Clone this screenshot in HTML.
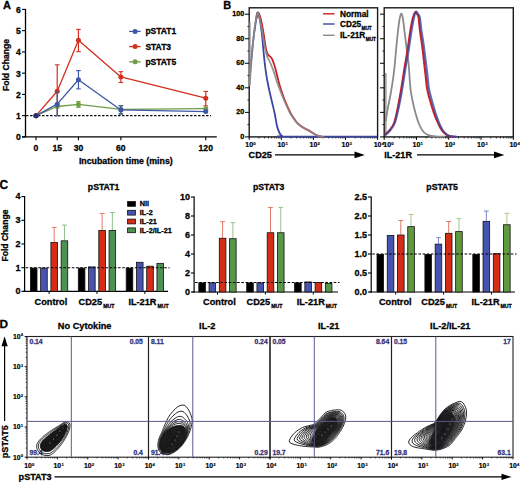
<!DOCTYPE html>
<html><head><meta charset="utf-8"><style>
html,body{margin:0;padding:0;background:#fff;}
body{width:520px;height:482px;overflow:hidden;}
svg{display:block;}
</style></head><body>
<svg width="520" height="482" viewBox="0 0 520 482" font-family="'Liberation Sans', sans-serif" font-weight="bold">
<rect width="520" height="482" fill="#fff"/>
<text x="3.1" y="8.5" font-size="11" text-anchor="start" fill="#000" stroke="#000" stroke-width="0.28" >A</text>
<line x1="25.5" y1="8.9" x2="25.5" y2="137.3" stroke="#000" stroke-width="1.3" />
<line x1="22" y1="136.9" x2="25.5" y2="136.9" stroke="#000" stroke-width="1.1" />
<text x="20.8" y="140.35" font-size="8.6" text-anchor="end" fill="#000" stroke="#000" stroke-width="0.28" >0</text>
<line x1="22" y1="115.65" x2="25.5" y2="115.65" stroke="#000" stroke-width="1.1" />
<text x="20.8" y="119.1" font-size="8.6" text-anchor="end" fill="#000" stroke="#000" stroke-width="0.28" >1</text>
<line x1="22" y1="94.4" x2="25.5" y2="94.4" stroke="#000" stroke-width="1.1" />
<text x="20.8" y="97.85" font-size="8.6" text-anchor="end" fill="#000" stroke="#000" stroke-width="0.28" >2</text>
<line x1="22" y1="73.15" x2="25.5" y2="73.15" stroke="#000" stroke-width="1.1" />
<text x="20.8" y="76.6" font-size="8.6" text-anchor="end" fill="#000" stroke="#000" stroke-width="0.28" >3</text>
<line x1="22" y1="51.9" x2="25.5" y2="51.9" stroke="#000" stroke-width="1.1" />
<text x="20.8" y="55.35" font-size="8.6" text-anchor="end" fill="#000" stroke="#000" stroke-width="0.28" >4</text>
<line x1="22" y1="30.65" x2="25.5" y2="30.65" stroke="#000" stroke-width="1.1" />
<text x="20.8" y="34.1" font-size="8.6" text-anchor="end" fill="#000" stroke="#000" stroke-width="0.28" >5</text>
<line x1="22" y1="9.4" x2="25.5" y2="9.4" stroke="#000" stroke-width="1.1" />
<text x="20.8" y="12.85" font-size="8.6" text-anchor="end" fill="#000" stroke="#000" stroke-width="0.28" >6</text>
<line x1="22" y1="136.9" x2="216.8" y2="136.9" stroke="#000" stroke-width="1.3" />
<line x1="36" y1="136.9" x2="36" y2="140.3" stroke="#000" stroke-width="1.1" />
<text x="36" y="150.65" font-size="8.6" text-anchor="middle" fill="#000" stroke="#000" stroke-width="0.28" >0</text>
<line x1="57.22" y1="136.9" x2="57.22" y2="140.3" stroke="#000" stroke-width="1.1" />
<text x="57.22" y="150.65" font-size="8.6" text-anchor="middle" fill="#000" stroke="#000" stroke-width="0.28" >15</text>
<line x1="78.44" y1="136.9" x2="78.44" y2="140.3" stroke="#000" stroke-width="1.1" />
<text x="78.44" y="150.65" font-size="8.6" text-anchor="middle" fill="#000" stroke="#000" stroke-width="0.28" >30</text>
<line x1="120.88" y1="136.9" x2="120.88" y2="140.3" stroke="#000" stroke-width="1.1" />
<text x="120.88" y="150.65" font-size="8.6" text-anchor="middle" fill="#000" stroke="#000" stroke-width="0.28" >60</text>
<line x1="205.75" y1="136.9" x2="205.75" y2="140.3" stroke="#000" stroke-width="1.1" />
<text x="205.75" y="150.65" font-size="8.6" text-anchor="middle" fill="#000" stroke="#000" stroke-width="0.28" >120</text>
<text x="125.8" y="164.02" font-size="8.8" text-anchor="middle" fill="#000" stroke="#000" stroke-width="0.28" >Incubation time (mins)</text>
<text x="5.6" y="68.05" font-size="8.6" text-anchor="middle" fill="#000" stroke="#000" stroke-width="0.28" transform="rotate(-90 5.6 65.0)">Fold Change</text>
<line x1="26.1" y1="115.65" x2="211" y2="115.65" stroke="#000" stroke-width="1.1" stroke-dasharray="2.4,1.6"/>
<polyline points="36,115.65 57.22,91.21 78.44,40.21 120.88,76.98 205.75,98.22" fill="none" stroke="#d2301f" stroke-width="1.3" stroke-linejoin="round" />
<line x1="57.22" y1="64.86" x2="57.22" y2="115.65" stroke="#d2301f" stroke-width="1.2" />
<line x1="54.92" y1="64.86" x2="59.52" y2="64.86" stroke="#d2301f" stroke-width="1.1" />
<line x1="54.92" y1="115.65" x2="59.52" y2="115.65" stroke="#d2301f" stroke-width="1.1" />
<line x1="78.44" y1="29.38" x2="78.44" y2="51.69" stroke="#d2301f" stroke-width="1.2" />
<line x1="76.14" y1="29.38" x2="80.74" y2="29.38" stroke="#d2301f" stroke-width="1.1" />
<line x1="76.14" y1="51.69" x2="80.74" y2="51.69" stroke="#d2301f" stroke-width="1.1" />
<line x1="120.88" y1="71.66" x2="120.88" y2="82.5" stroke="#d2301f" stroke-width="1.2" />
<line x1="118.58" y1="71.66" x2="123.18" y2="71.66" stroke="#d2301f" stroke-width="1.1" />
<line x1="118.58" y1="82.5" x2="123.18" y2="82.5" stroke="#d2301f" stroke-width="1.1" />
<line x1="205.75" y1="91.43" x2="205.75" y2="105.88" stroke="#d2301f" stroke-width="1.2" />
<line x1="203.45" y1="91.43" x2="208.05" y2="91.43" stroke="#d2301f" stroke-width="1.1" />
<line x1="203.45" y1="105.88" x2="208.05" y2="105.88" stroke="#d2301f" stroke-width="1.1" />
<circle cx="36" cy="115.65" r="2.5" fill="#d2301f"/>
<circle cx="57.22" cy="91.21" r="2.5" fill="#d2301f"/>
<circle cx="78.44" cy="40.21" r="2.5" fill="#d2301f"/>
<circle cx="120.88" cy="76.98" r="2.5" fill="#d2301f"/>
<circle cx="205.75" cy="98.22" r="2.5" fill="#d2301f"/>
<polyline points="36,115.65 57.22,106.51 78.44,104.39 120.88,109.28 205.75,108.64" fill="none" stroke="#6e9e45" stroke-width="1.3" stroke-linejoin="round" />
<line x1="78.44" y1="101.62" x2="78.44" y2="107.36" stroke="#6e9e45" stroke-width="1.2" />
<line x1="76.14" y1="101.62" x2="80.74" y2="101.62" stroke="#6e9e45" stroke-width="1.1" />
<line x1="76.14" y1="107.36" x2="80.74" y2="107.36" stroke="#6e9e45" stroke-width="1.1" />
<line x1="120.88" y1="105.66" x2="120.88" y2="113.53" stroke="#6e9e45" stroke-width="1.2" />
<line x1="118.58" y1="105.66" x2="123.18" y2="105.66" stroke="#6e9e45" stroke-width="1.1" />
<line x1="118.58" y1="113.53" x2="123.18" y2="113.53" stroke="#6e9e45" stroke-width="1.1" />
<circle cx="36" cy="115.65" r="2.5" fill="#6e9e45"/>
<circle cx="57.22" cy="106.51" r="2.5" fill="#6e9e45"/>
<circle cx="78.44" cy="104.39" r="2.5" fill="#6e9e45"/>
<circle cx="120.88" cy="109.28" r="2.5" fill="#6e9e45"/>
<circle cx="205.75" cy="108.64" r="2.5" fill="#6e9e45"/>
<polyline points="36,115.65 57.22,104.18 78.44,79.74 120.88,109.91 205.75,111.61" fill="none" stroke="#3f56a6" stroke-width="1.3" stroke-linejoin="round" />
<line x1="57.22" y1="91.85" x2="57.22" y2="115.65" stroke="#3f56a6" stroke-width="1.2" />
<line x1="54.92" y1="91.85" x2="59.52" y2="91.85" stroke="#3f56a6" stroke-width="1.1" />
<line x1="54.92" y1="115.65" x2="59.52" y2="115.65" stroke="#3f56a6" stroke-width="1.1" />
<line x1="78.44" y1="70.6" x2="78.44" y2="88.88" stroke="#3f56a6" stroke-width="1.2" />
<line x1="76.14" y1="70.6" x2="80.74" y2="70.6" stroke="#3f56a6" stroke-width="1.1" />
<line x1="76.14" y1="88.88" x2="80.74" y2="88.88" stroke="#3f56a6" stroke-width="1.1" />
<line x1="120.88" y1="105.66" x2="120.88" y2="114.16" stroke="#3f56a6" stroke-width="1.2" />
<line x1="118.58" y1="105.66" x2="123.18" y2="105.66" stroke="#3f56a6" stroke-width="1.1" />
<line x1="118.58" y1="114.16" x2="123.18" y2="114.16" stroke="#3f56a6" stroke-width="1.1" />
<circle cx="36" cy="115.65" r="2.5" fill="#3f56a6"/>
<circle cx="57.22" cy="104.18" r="2.5" fill="#3f56a6"/>
<circle cx="78.44" cy="79.74" r="2.5" fill="#3f56a6"/>
<circle cx="120.88" cy="109.91" r="2.5" fill="#3f56a6"/>
<circle cx="205.75" cy="111.61" r="2.5" fill="#3f56a6"/>
<circle cx="36" cy="115.65" r="2.5" fill="#2a2f6a"/>
<line x1="129.1" y1="31.4" x2="140.6" y2="31.4" stroke="#3f56a6" stroke-width="1.3" />
<circle cx="135.1" cy="31.4" r="2.5" fill="#3f56a6"/>
<text x="145.4" y="34.42" font-size="8.5" text-anchor="start" fill="#000" stroke="#000" stroke-width="0.28" >pSTAT1</text>
<line x1="129.1" y1="46.6" x2="140.6" y2="46.6" stroke="#d2301f" stroke-width="1.3" />
<circle cx="135.1" cy="46.6" r="2.5" fill="#d2301f"/>
<text x="145.4" y="49.62" font-size="8.5" text-anchor="start" fill="#000" stroke="#000" stroke-width="0.28" >STAT3</text>
<line x1="129.1" y1="61.8" x2="140.6" y2="61.8" stroke="#6e9e45" stroke-width="1.3" />
<circle cx="135.1" cy="61.8" r="2.5" fill="#6e9e45"/>
<text x="145.4" y="64.82" font-size="8.5" text-anchor="start" fill="#000" stroke="#000" stroke-width="0.28" >pSTAT5</text>
<text x="223.3" y="8.8" font-size="11" text-anchor="start" fill="#000" stroke="#000" stroke-width="0.28" >B</text>
<rect x="249.2" y="7.8" width="128.4" height="129.1" fill="none" stroke="#1a1a1a" stroke-width="1.4"/>
<line x1="245" y1="136.9" x2="249.2" y2="136.9" stroke="#000" stroke-width="1" />
<text x="244.2" y="138.86" font-size="7.2" text-anchor="end" fill="#000" stroke="#000" stroke-width="0.28" >0</text>
<line x1="245" y1="112.36" x2="249.2" y2="112.36" stroke="#000" stroke-width="1" />
<text x="244.2" y="114.32" font-size="7.2" text-anchor="end" fill="#000" stroke="#000" stroke-width="0.28" >20</text>
<line x1="245" y1="87.82" x2="249.2" y2="87.82" stroke="#000" stroke-width="1" />
<text x="244.2" y="89.78" font-size="7.2" text-anchor="end" fill="#000" stroke="#000" stroke-width="0.28" >40</text>
<line x1="245" y1="63.28" x2="249.2" y2="63.28" stroke="#000" stroke-width="1" />
<text x="244.2" y="65.24" font-size="7.2" text-anchor="end" fill="#000" stroke="#000" stroke-width="0.28" >60</text>
<line x1="245" y1="38.74" x2="249.2" y2="38.74" stroke="#000" stroke-width="1" />
<text x="244.2" y="40.7" font-size="7.2" text-anchor="end" fill="#000" stroke="#000" stroke-width="0.28" >80</text>
<line x1="245" y1="14.2" x2="249.2" y2="14.2" stroke="#000" stroke-width="1" />
<text x="244.2" y="16.16" font-size="7.2" text-anchor="end" fill="#000" stroke="#000" stroke-width="0.28" >100</text>
<line x1="247.4" y1="124.63" x2="249.2" y2="124.63" stroke="#000" stroke-width="0.8" />
<line x1="247.4" y1="100.09" x2="249.2" y2="100.09" stroke="#000" stroke-width="0.8" />
<line x1="247.4" y1="75.55" x2="249.2" y2="75.55" stroke="#000" stroke-width="0.8" />
<line x1="247.4" y1="51.01" x2="249.2" y2="51.01" stroke="#000" stroke-width="0.8" />
<line x1="247.4" y1="26.47" x2="249.2" y2="26.47" stroke="#000" stroke-width="0.8" />
<line x1="249.2" y1="136.9" x2="249.2" y2="139.9" stroke="#000" stroke-width="1" />
<line x1="258.86" y1="136.9" x2="258.86" y2="138.5" stroke="#000" stroke-width="0.7" />
<line x1="264.52" y1="136.9" x2="264.52" y2="138.5" stroke="#000" stroke-width="0.7" />
<line x1="268.53" y1="136.9" x2="268.53" y2="138.5" stroke="#000" stroke-width="0.7" />
<line x1="271.64" y1="136.9" x2="271.64" y2="138.5" stroke="#000" stroke-width="0.7" />
<line x1="274.18" y1="136.9" x2="274.18" y2="138.5" stroke="#000" stroke-width="0.7" />
<line x1="276.33" y1="136.9" x2="276.33" y2="138.5" stroke="#000" stroke-width="0.7" />
<line x1="278.19" y1="136.9" x2="278.19" y2="138.5" stroke="#000" stroke-width="0.7" />
<line x1="279.83" y1="136.9" x2="279.83" y2="138.5" stroke="#000" stroke-width="0.7" />
<line x1="281.3" y1="136.9" x2="281.3" y2="139.9" stroke="#000" stroke-width="1" />
<line x1="290.96" y1="136.9" x2="290.96" y2="138.5" stroke="#000" stroke-width="0.7" />
<line x1="296.62" y1="136.9" x2="296.62" y2="138.5" stroke="#000" stroke-width="0.7" />
<line x1="300.63" y1="136.9" x2="300.63" y2="138.5" stroke="#000" stroke-width="0.7" />
<line x1="303.74" y1="136.9" x2="303.74" y2="138.5" stroke="#000" stroke-width="0.7" />
<line x1="306.28" y1="136.9" x2="306.28" y2="138.5" stroke="#000" stroke-width="0.7" />
<line x1="308.43" y1="136.9" x2="308.43" y2="138.5" stroke="#000" stroke-width="0.7" />
<line x1="310.29" y1="136.9" x2="310.29" y2="138.5" stroke="#000" stroke-width="0.7" />
<line x1="311.93" y1="136.9" x2="311.93" y2="138.5" stroke="#000" stroke-width="0.7" />
<line x1="313.4" y1="136.9" x2="313.4" y2="139.9" stroke="#000" stroke-width="1" />
<line x1="323.06" y1="136.9" x2="323.06" y2="138.5" stroke="#000" stroke-width="0.7" />
<line x1="328.72" y1="136.9" x2="328.72" y2="138.5" stroke="#000" stroke-width="0.7" />
<line x1="332.73" y1="136.9" x2="332.73" y2="138.5" stroke="#000" stroke-width="0.7" />
<line x1="335.84" y1="136.9" x2="335.84" y2="138.5" stroke="#000" stroke-width="0.7" />
<line x1="338.38" y1="136.9" x2="338.38" y2="138.5" stroke="#000" stroke-width="0.7" />
<line x1="340.53" y1="136.9" x2="340.53" y2="138.5" stroke="#000" stroke-width="0.7" />
<line x1="342.39" y1="136.9" x2="342.39" y2="138.5" stroke="#000" stroke-width="0.7" />
<line x1="344.03" y1="136.9" x2="344.03" y2="138.5" stroke="#000" stroke-width="0.7" />
<line x1="345.5" y1="136.9" x2="345.5" y2="139.9" stroke="#000" stroke-width="1" />
<line x1="355.16" y1="136.9" x2="355.16" y2="138.5" stroke="#000" stroke-width="0.7" />
<line x1="360.82" y1="136.9" x2="360.82" y2="138.5" stroke="#000" stroke-width="0.7" />
<line x1="364.83" y1="136.9" x2="364.83" y2="138.5" stroke="#000" stroke-width="0.7" />
<line x1="367.94" y1="136.9" x2="367.94" y2="138.5" stroke="#000" stroke-width="0.7" />
<line x1="370.48" y1="136.9" x2="370.48" y2="138.5" stroke="#000" stroke-width="0.7" />
<line x1="372.63" y1="136.9" x2="372.63" y2="138.5" stroke="#000" stroke-width="0.7" />
<line x1="374.49" y1="136.9" x2="374.49" y2="138.5" stroke="#000" stroke-width="0.7" />
<line x1="376.13" y1="136.9" x2="376.13" y2="138.5" stroke="#000" stroke-width="0.7" />
<line x1="377.6" y1="136.9" x2="377.6" y2="139.9" stroke="#000" stroke-width="1" />
<rect x="384.2" y="7.8" width="129.1" height="129.1" fill="none" stroke="#1a1a1a" stroke-width="1.4"/>
<line x1="380" y1="136.9" x2="384.2" y2="136.9" stroke="#000" stroke-width="1" />
<line x1="380" y1="112.36" x2="384.2" y2="112.36" stroke="#000" stroke-width="1" />
<line x1="380" y1="87.82" x2="384.2" y2="87.82" stroke="#000" stroke-width="1" />
<line x1="380" y1="63.28" x2="384.2" y2="63.28" stroke="#000" stroke-width="1" />
<line x1="380" y1="38.74" x2="384.2" y2="38.74" stroke="#000" stroke-width="1" />
<line x1="380" y1="14.2" x2="384.2" y2="14.2" stroke="#000" stroke-width="1" />
<line x1="382.4" y1="124.63" x2="384.2" y2="124.63" stroke="#000" stroke-width="0.8" />
<line x1="382.4" y1="100.09" x2="384.2" y2="100.09" stroke="#000" stroke-width="0.8" />
<line x1="382.4" y1="75.55" x2="384.2" y2="75.55" stroke="#000" stroke-width="0.8" />
<line x1="382.4" y1="51.01" x2="384.2" y2="51.01" stroke="#000" stroke-width="0.8" />
<line x1="382.4" y1="26.47" x2="384.2" y2="26.47" stroke="#000" stroke-width="0.8" />
<line x1="384.2" y1="136.9" x2="384.2" y2="139.9" stroke="#000" stroke-width="1" />
<line x1="393.92" y1="136.9" x2="393.92" y2="138.5" stroke="#000" stroke-width="0.7" />
<line x1="399.6" y1="136.9" x2="399.6" y2="138.5" stroke="#000" stroke-width="0.7" />
<line x1="403.63" y1="136.9" x2="403.63" y2="138.5" stroke="#000" stroke-width="0.7" />
<line x1="406.76" y1="136.9" x2="406.76" y2="138.5" stroke="#000" stroke-width="0.7" />
<line x1="409.31" y1="136.9" x2="409.31" y2="138.5" stroke="#000" stroke-width="0.7" />
<line x1="411.48" y1="136.9" x2="411.48" y2="138.5" stroke="#000" stroke-width="0.7" />
<line x1="413.35" y1="136.9" x2="413.35" y2="138.5" stroke="#000" stroke-width="0.7" />
<line x1="415" y1="136.9" x2="415" y2="138.5" stroke="#000" stroke-width="0.7" />
<line x1="416.47" y1="136.9" x2="416.47" y2="139.9" stroke="#000" stroke-width="1" />
<line x1="426.19" y1="136.9" x2="426.19" y2="138.5" stroke="#000" stroke-width="0.7" />
<line x1="431.87" y1="136.9" x2="431.87" y2="138.5" stroke="#000" stroke-width="0.7" />
<line x1="435.91" y1="136.9" x2="435.91" y2="138.5" stroke="#000" stroke-width="0.7" />
<line x1="439.03" y1="136.9" x2="439.03" y2="138.5" stroke="#000" stroke-width="0.7" />
<line x1="441.59" y1="136.9" x2="441.59" y2="138.5" stroke="#000" stroke-width="0.7" />
<line x1="443.75" y1="136.9" x2="443.75" y2="138.5" stroke="#000" stroke-width="0.7" />
<line x1="445.62" y1="136.9" x2="445.62" y2="138.5" stroke="#000" stroke-width="0.7" />
<line x1="447.27" y1="136.9" x2="447.27" y2="138.5" stroke="#000" stroke-width="0.7" />
<line x1="448.75" y1="136.9" x2="448.75" y2="139.9" stroke="#000" stroke-width="1" />
<line x1="458.47" y1="136.9" x2="458.47" y2="138.5" stroke="#000" stroke-width="0.7" />
<line x1="464.15" y1="136.9" x2="464.15" y2="138.5" stroke="#000" stroke-width="0.7" />
<line x1="468.18" y1="136.9" x2="468.18" y2="138.5" stroke="#000" stroke-width="0.7" />
<line x1="471.31" y1="136.9" x2="471.31" y2="138.5" stroke="#000" stroke-width="0.7" />
<line x1="473.86" y1="136.9" x2="473.86" y2="138.5" stroke="#000" stroke-width="0.7" />
<line x1="476.03" y1="136.9" x2="476.03" y2="138.5" stroke="#000" stroke-width="0.7" />
<line x1="477.9" y1="136.9" x2="477.9" y2="138.5" stroke="#000" stroke-width="0.7" />
<line x1="479.55" y1="136.9" x2="479.55" y2="138.5" stroke="#000" stroke-width="0.7" />
<line x1="481.02" y1="136.9" x2="481.02" y2="139.9" stroke="#000" stroke-width="1" />
<line x1="490.74" y1="136.9" x2="490.74" y2="138.5" stroke="#000" stroke-width="0.7" />
<line x1="496.42" y1="136.9" x2="496.42" y2="138.5" stroke="#000" stroke-width="0.7" />
<line x1="500.46" y1="136.9" x2="500.46" y2="138.5" stroke="#000" stroke-width="0.7" />
<line x1="503.58" y1="136.9" x2="503.58" y2="138.5" stroke="#000" stroke-width="0.7" />
<line x1="506.14" y1="136.9" x2="506.14" y2="138.5" stroke="#000" stroke-width="0.7" />
<line x1="508.3" y1="136.9" x2="508.3" y2="138.5" stroke="#000" stroke-width="0.7" />
<line x1="510.17" y1="136.9" x2="510.17" y2="138.5" stroke="#000" stroke-width="0.7" />
<line x1="511.82" y1="136.9" x2="511.82" y2="138.5" stroke="#000" stroke-width="0.7" />
<line x1="513.3" y1="136.9" x2="513.3" y2="139.9" stroke="#000" stroke-width="1" />
<text x="249.2" y="147.39" font-size="7.0" text-anchor="middle" fill="#000" stroke="#000" stroke-width="0.2">10</text>
<text x="253.32" y="144.73" font-size="4.34" fill="#000" stroke="#000" stroke-width="0.12">0</text>
<text x="387.2" y="147.39" font-size="7.0" text-anchor="middle" fill="#000" stroke="#000" stroke-width="0.2">10</text>
<text x="391.32" y="144.73" font-size="4.34" fill="#000" stroke="#000" stroke-width="0.12">0</text>
<text x="281.3" y="147.39" font-size="7.0" text-anchor="middle" fill="#000" stroke="#000" stroke-width="0.2">10</text>
<text x="285.42" y="144.73" font-size="4.34" fill="#000" stroke="#000" stroke-width="0.12">1</text>
<text x="416.47" y="147.39" font-size="7.0" text-anchor="middle" fill="#000" stroke="#000" stroke-width="0.2">10</text>
<text x="420.59" y="144.73" font-size="4.34" fill="#000" stroke="#000" stroke-width="0.12">1</text>
<text x="313.4" y="147.39" font-size="7.0" text-anchor="middle" fill="#000" stroke="#000" stroke-width="0.2">10</text>
<text x="317.52" y="144.73" font-size="4.34" fill="#000" stroke="#000" stroke-width="0.12">2</text>
<text x="448.75" y="147.39" font-size="7.0" text-anchor="middle" fill="#000" stroke="#000" stroke-width="0.2">10</text>
<text x="452.87" y="144.73" font-size="4.34" fill="#000" stroke="#000" stroke-width="0.12">2</text>
<text x="345.5" y="147.39" font-size="7.0" text-anchor="middle" fill="#000" stroke="#000" stroke-width="0.2">10</text>
<text x="349.62" y="144.73" font-size="4.34" fill="#000" stroke="#000" stroke-width="0.12">3</text>
<text x="481.02" y="147.39" font-size="7.0" text-anchor="middle" fill="#000" stroke="#000" stroke-width="0.2">10</text>
<text x="485.14" y="144.73" font-size="4.34" fill="#000" stroke="#000" stroke-width="0.12">3</text>
<text x="377.6" y="147.39" font-size="7.0" text-anchor="middle" fill="#000" stroke="#000" stroke-width="0.2">10</text>
<text x="381.72" y="144.73" font-size="4.34" fill="#000" stroke="#000" stroke-width="0.12">4</text>
<text x="513.3" y="147.39" font-size="7.0" text-anchor="middle" fill="#000" stroke="#000" stroke-width="0.2">10</text>
<text x="517.42" y="144.73" font-size="4.34" fill="#000" stroke="#000" stroke-width="0.12">4</text>
<text x="248.6" y="158.13" font-size="9.1" text-anchor="start" fill="#000" stroke="#000" stroke-width="0.28" >CD25</text>
<line x1="275" y1="154.9" x2="357" y2="154.9" stroke="#000" stroke-width="1.3" />
<path d="M364.8,154.9 L354.5,151.6 L354.5,158.2 Z" fill="#000"/>
<text x="384.2" y="158.13" font-size="9.1" text-anchor="start" fill="#000" stroke="#000" stroke-width="0.28" >IL-21R</text>
<line x1="417" y1="154.9" x2="496" y2="154.9" stroke="#000" stroke-width="1.3" />
<path d="M504.4,154.9 L494,151.6 L494,158.2 Z" fill="#000"/>
<path d="M249.6,78 C249.92,74.67 250.85,64.67 251.5,58 C252.15,51.33 252.83,43.67 253.5,38 C254.17,32.33 254.85,28.25 255.5,24 C256.15,19.75 256.73,13.5 257.4,12.5 C258.07,11.5 258.77,14.58 259.5,18 C260.23,21.42 261.12,27.33 261.8,33 C262.48,38.67 263.03,46.33 263.6,52 C264.17,57.67 264.63,62.5 265.2,67 C265.77,71.5 266.33,75.17 267,79 C267.67,82.83 268.37,86.17 269.2,90 C270.03,93.83 271.07,98 272,102 C272.93,106 273.97,110 274.8,114 C275.63,118 276.22,122.83 277,126 C277.78,129.17 278.67,131.33 279.5,133 C280.33,134.67 281.08,135.4 282,136 C282.92,136.6 269.17,136.5 285,136.6 C300.83,136.7 361.67,136.6 377,136.6" fill="none" stroke="#3b47a0" stroke-width="1.8"/>
<path d="M256,20 C256.42,18.83 257.67,13 258.5,13 C259.33,13 260.17,16.67 261,20 C261.83,23.33 262.7,28.33 263.5,33 C264.3,37.67 265.13,44.5 265.8,48 C266.47,51.5 266.88,52.67 267.5,54 C268.12,55.33 268.78,55.25 269.5,56 C270.22,56.75 271.05,57.17 271.8,58.5 C272.55,59.83 273.3,61.92 274,64 C274.7,66.08 275.3,68.33 276,71 C276.7,73.67 277.4,77 278.2,80 C279,83 279.75,85.75 280.8,89 C281.85,92.25 282.97,95.67 284.5,99.5 C286.03,103.33 288.58,109.08 290,112 C291.42,114.92 292,115.42 293,117 C294,118.58 295,120.25 296,121.5 C297,122.75 297.67,123.42 299,124.5 C300.33,125.58 302.33,126.98 304,128 C305.67,129.02 307.33,129.63 309,130.6 C310.67,131.57 312.33,132.9 314,133.8 C315.67,134.7 317.5,135.48 319,136 C320.5,136.52 322.33,136.75 323,136.9" fill="none" stroke="#cc1f24" stroke-width="1.8"/>
<path d="M249.6,86 C249.92,81.67 250.85,68 251.5,60 C252.15,52 252.83,44.33 253.5,38 C254.17,31.67 254.83,26.17 255.5,22 C256.17,17.83 256.83,13.67 257.5,13 C258.17,12.33 258.75,15.17 259.5,18 C260.25,20.83 261.17,25.5 262,30 C262.83,34.5 263.67,40.67 264.5,45 C265.33,49.33 266.17,53.33 267,56 C267.83,58.67 268.67,59.17 269.5,61 C270.33,62.83 271.17,64.83 272,67 C272.83,69.17 273.67,71.5 274.5,74 C275.33,76.5 276.08,79.33 277,82 C277.92,84.67 278.83,87 280,90 C281.17,93 282.42,96.33 284,100 C285.58,103.67 288,109.08 289.5,112 C291,114.92 291.92,115.87 293,117.5 C294.08,119.13 295,120.58 296,121.8 C297,123.02 297.67,123.72 299,124.8 C300.33,125.88 302.33,127.3 304,128.3 C305.67,129.3 307.33,129.85 309,130.8 C310.67,131.75 312.33,133.12 314,134 C315.67,134.88 317.33,135.62 319,136.1 C320.67,136.58 323.17,136.77 324,136.9" fill="none" stroke="#8a8a8a" stroke-width="1.8" stroke-opacity="0.9"/>
<line x1="249.9" y1="22" x2="249.9" y2="84" stroke="#8d8d8d" stroke-width="1.4" />
<path d="M385.8,121 C386.08,119.17 386.67,114.67 387.5,110 C388.33,105.33 389.83,98.5 390.8,93 C391.77,87.5 392.65,81.67 393.3,77 C393.95,72.33 394.32,68.67 394.7,65 C395.08,61.33 395.25,58.78 395.6,55 C395.95,51.22 396.38,46.47 396.8,42.3 C397.22,38.13 397.63,33.88 398.1,30 C398.57,26.12 399.05,21.75 399.6,19 C400.15,16.25 400.83,13.5 401.4,13.5 C401.97,13.5 402.52,16.25 403,19 C403.48,21.75 403.82,26.12 404.3,30 C404.78,33.88 405.38,38.17 405.9,42.3 C406.42,46.43 406.93,51.02 407.4,54.8 C407.87,58.58 408.18,59.32 408.7,65 C409.22,70.68 409.82,82.73 410.5,88.9 C411.18,95.07 411.95,97.88 412.8,102 C413.65,106.12 414.57,109.93 415.6,113.6 C416.63,117.27 417.67,120.93 419,124 C420.33,127.07 421.93,130.12 423.6,132 C425.27,133.88 426.93,134.57 429,135.3 C431.07,136.03 433.33,136.18 436,136.4 C438.67,136.62 443.5,136.57 445,136.6" fill="none" stroke="#8a8a8a" stroke-width="1.8"/>
<line x1="385.9" y1="73" x2="385.9" y2="134" stroke="#8a8a8a" stroke-width="1.3" />
<path d="M385,134.7 C385.83,133.87 388.48,131.65 390,129.7 C391.52,127.75 392.87,126.32 394.1,123 C395.33,119.68 396.33,114.77 397.4,109.8 C398.47,104.83 399.53,98.73 400.5,93.2 C401.47,87.67 402.45,81.3 403.2,76.6 C403.95,71.9 404.4,68.63 405,65 C405.6,61.37 406.18,58.58 406.8,54.8 C407.42,51.02 408.08,46.45 408.7,42.3 C409.32,38.15 409.78,34.05 410.5,29.9 C411.22,25.75 412.2,20.38 413,17.4 C413.8,14.42 414.63,12.57 415.3,12 C415.97,11.43 416.45,13.1 417,14 C417.55,14.9 418.12,14.75 418.6,17.4 C419.08,20.05 419.38,25.75 419.9,29.9 C420.42,34.05 421.13,38.15 421.7,42.3 C422.27,46.45 422.85,51.02 423.3,54.8 C423.75,58.58 424.03,61.8 424.4,65 C424.77,68.2 425.03,70.02 425.5,74 C425.97,77.98 426.37,84.23 427.2,88.9 C428.03,93.57 429.33,97.88 430.5,102 C431.67,106.12 432.87,109.93 434.2,113.6 C435.53,117.27 437.2,121.18 438.5,124 C439.8,126.82 440.75,128.75 442,130.5 C443.25,132.25 444.67,133.53 446,134.5 C447.33,135.47 448.33,135.92 450,136.3 C451.67,136.68 455,136.72 456,136.8" fill="none" stroke="#cc1f24" stroke-width="2.1"/>
<path d="M385,135.5 C385.92,134.58 388.87,132.08 390.5,130 C392.13,127.92 393.52,126.37 394.8,123 C396.08,119.63 397.08,114.77 398.2,109.8 C399.32,104.83 400.5,98.73 401.5,93.2 C402.5,87.67 403.45,81.3 404.2,76.6 C404.95,71.9 405.38,68.63 406,65 C406.62,61.37 407.27,58.58 407.9,54.8 C408.53,51.02 409.17,46.45 409.8,42.3 C410.43,38.15 411,34.05 411.7,29.9 C412.4,25.75 413.28,20.42 414,17.4 C414.72,14.38 415.33,12.37 416,11.8 C416.67,11.23 417.37,13.07 418,14 C418.63,14.93 419.25,14.75 419.8,17.4 C420.35,20.05 420.72,25.75 421.3,29.9 C421.88,34.05 422.7,38.15 423.3,42.3 C423.9,46.45 424.42,51.02 424.9,54.8 C425.38,58.58 425.8,61.8 426.2,65 C426.6,68.2 426.83,70.02 427.3,74 C427.77,77.98 428.17,84.23 429,88.9 C429.83,93.57 431.18,97.88 432.3,102 C433.42,106.12 434.5,109.93 435.7,113.6 C436.9,117.27 438.28,121.18 439.5,124 C440.72,126.82 441.75,128.75 443,130.5 C444.25,132.25 445.67,133.53 447,134.5 C448.33,135.47 449.33,135.92 451,136.3 C452.67,136.68 456,136.72 457,136.8" fill="none" stroke="#3b47a0" stroke-width="2.1" stroke-opacity="0.8"/>
<line x1="323" y1="13.8" x2="334.6" y2="13.8" stroke="#cc1f24" stroke-width="1.4" />
<text x="340" y="16.75" font-size="8.3" text-anchor="start" fill="#000" stroke="#000" stroke-width="0.28" >Normal</text>
<line x1="323" y1="24" x2="334.6" y2="24" stroke="#3b47a0" stroke-width="1.4" />
<text x="340" y="26.95" font-size="8.3" text-anchor="start" fill="#000" stroke="#000" stroke-width="0.28" >CD25</text>
<text x="361.5" y="30.07" font-size="4.7" text-anchor="start" fill="#000" stroke="#000" stroke-width="0.28" >MUT</text>
<line x1="323" y1="35.3" x2="334.6" y2="35.3" stroke="#8a8a8a" stroke-width="1.4" />
<text x="340" y="38.25" font-size="8.3" text-anchor="start" fill="#000" stroke="#000" stroke-width="0.28" >IL-21R</text>
<text x="365.8" y="41.37" font-size="4.7" text-anchor="start" fill="#000" stroke="#000" stroke-width="0.28" >MUT</text>
<text x="-0.4" y="189.46" font-size="12" text-anchor="start" fill="#000" stroke="#000" stroke-width="0.28" >C</text>
<line x1="24.6" y1="196.1" x2="24.6" y2="292" stroke="#000" stroke-width="1.2" />
<line x1="21.4" y1="291.4" x2="24.6" y2="291.4" stroke="#000" stroke-width="1.1" />
<text x="20.4" y="294.19" font-size="9.0" text-anchor="end" fill="#000" stroke="#000" stroke-width="0.28" >0</text>
<line x1="21.4" y1="267.7" x2="24.6" y2="267.7" stroke="#000" stroke-width="1.1" />
<text x="20.4" y="270.5" font-size="9.0" text-anchor="end" fill="#000" stroke="#000" stroke-width="0.28" >1</text>
<line x1="21.4" y1="244" x2="24.6" y2="244" stroke="#000" stroke-width="1.1" />
<text x="20.4" y="246.79" font-size="9.0" text-anchor="end" fill="#000" stroke="#000" stroke-width="0.28" >2</text>
<line x1="21.4" y1="220.3" x2="24.6" y2="220.3" stroke="#000" stroke-width="1.1" />
<text x="20.4" y="223.09" font-size="9.0" text-anchor="end" fill="#000" stroke="#000" stroke-width="0.28" >3</text>
<line x1="21.4" y1="196.6" x2="24.6" y2="196.6" stroke="#000" stroke-width="1.1" />
<text x="20.4" y="199.39" font-size="9.0" text-anchor="end" fill="#000" stroke="#000" stroke-width="0.28" >4</text>
<line x1="23" y1="291.4" x2="168" y2="291.4" stroke="#000" stroke-width="1.2" />
<text x="103.6" y="189.59" font-size="8.7" text-anchor="middle" fill="#000" stroke="#000" stroke-width="0.28" >pSTAT1</text>
<rect x="30.4" y="268.1" width="6.6" height="23.3" fill="#000" stroke="#111" stroke-width="0.8"/>
<rect x="40.65" y="268.1" width="6.6" height="23.3" fill="#4654ae" stroke="#111" stroke-width="0.8"/>
<line x1="54.2" y1="227.41" x2="54.2" y2="242.1" stroke="#e27a68" stroke-width="1.0" />
<line x1="51.8" y1="227.41" x2="56.6" y2="227.41" stroke="#e27a68" stroke-width="1.0" />
<rect x="50.9" y="242.5" width="6.6" height="48.9" fill="#d32d17" stroke="#111" stroke-width="0.8"/>
<line x1="64.45" y1="225.04" x2="64.45" y2="240.44" stroke="#8fbf8c" stroke-width="1.0" />
<line x1="62.05" y1="225.04" x2="66.85" y2="225.04" stroke="#8fbf8c" stroke-width="1.0" />
<rect x="61.15" y="240.84" width="6.6" height="50.55" fill="#4e9153" stroke="#111" stroke-width="0.8"/>
<line x1="49.08" y1="291.4" x2="49.08" y2="294" stroke="#000" stroke-width="1" />
<rect x="78.3" y="268.1" width="6.6" height="23.3" fill="#000" stroke="#111" stroke-width="0.8"/>
<rect x="88.55" y="266.91" width="6.6" height="24.48" fill="#4654ae" stroke="#111" stroke-width="0.8"/>
<line x1="102.1" y1="213.43" x2="102.1" y2="230.02" stroke="#e27a68" stroke-width="1.0" />
<line x1="99.7" y1="213.43" x2="104.5" y2="213.43" stroke="#e27a68" stroke-width="1.0" />
<rect x="98.8" y="230.42" width="6.6" height="60.98" fill="#d32d17" stroke="#111" stroke-width="0.8"/>
<line x1="112.35" y1="212.48" x2="112.35" y2="230.02" stroke="#8fbf8c" stroke-width="1.0" />
<line x1="109.95" y1="212.48" x2="114.75" y2="212.48" stroke="#8fbf8c" stroke-width="1.0" />
<rect x="109.05" y="230.42" width="6.6" height="60.98" fill="#4e9153" stroke="#111" stroke-width="0.8"/>
<line x1="96.98" y1="291.4" x2="96.98" y2="294" stroke="#000" stroke-width="1" />
<rect x="126.2" y="268.1" width="6.6" height="23.3" fill="#000" stroke="#111" stroke-width="0.8"/>
<rect x="136.45" y="262.29" width="6.6" height="29.11" fill="#4654ae" stroke="#111" stroke-width="0.8"/>
<rect x="146.7" y="266.2" width="6.6" height="25.2" fill="#d32d17" stroke="#111" stroke-width="0.8"/>
<rect x="156.95" y="263.36" width="6.6" height="28.04" fill="#4e9153" stroke="#111" stroke-width="0.8"/>
<line x1="144.88" y1="291.4" x2="144.88" y2="294" stroke="#000" stroke-width="1" />
<text x="34.6" y="305.47" font-size="9.2" text-anchor="start" fill="#000" stroke="#000" stroke-width="0.28" >Control</text>
<text x="78.6" y="305.47" font-size="9.2" text-anchor="start" fill="#000" stroke="#000" stroke-width="0.28" >CD25</text>
<text x="103.3" y="307.55" font-size="5.2" text-anchor="start" fill="#000" stroke="#000" stroke-width="0.28" >MUT</text>
<text x="128.4" y="305.47" font-size="9.2" text-anchor="start" fill="#000" stroke="#000" stroke-width="0.28" >IL-21R</text>
<text x="157.4" y="307.55" font-size="5.2" text-anchor="start" fill="#000" stroke="#000" stroke-width="0.28" >MUT</text>
<line x1="25.6" y1="267.7" x2="169.5" y2="267.7" stroke="#000" stroke-width="1.1" stroke-dasharray="2.6,1.6"/>
<line x1="194.1" y1="196.5" x2="194.1" y2="292.6" stroke="#000" stroke-width="1.2" />
<line x1="190.9" y1="292" x2="194.1" y2="292" stroke="#000" stroke-width="1.1" />
<text x="189.9" y="294.8" font-size="9.0" text-anchor="end" fill="#000" stroke="#000" stroke-width="0.28" >0</text>
<line x1="190.9" y1="273" x2="194.1" y2="273" stroke="#000" stroke-width="1.1" />
<text x="189.9" y="275.8" font-size="9.0" text-anchor="end" fill="#000" stroke="#000" stroke-width="0.28" >2</text>
<line x1="190.9" y1="254" x2="194.1" y2="254" stroke="#000" stroke-width="1.1" />
<text x="189.9" y="256.8" font-size="9.0" text-anchor="end" fill="#000" stroke="#000" stroke-width="0.28" >4</text>
<line x1="190.9" y1="235" x2="194.1" y2="235" stroke="#000" stroke-width="1.1" />
<text x="189.9" y="237.79" font-size="9.0" text-anchor="end" fill="#000" stroke="#000" stroke-width="0.28" >6</text>
<line x1="190.9" y1="216" x2="194.1" y2="216" stroke="#000" stroke-width="1.1" />
<text x="189.9" y="218.79" font-size="9.0" text-anchor="end" fill="#000" stroke="#000" stroke-width="0.28" >8</text>
<line x1="190.9" y1="197" x2="194.1" y2="197" stroke="#000" stroke-width="1.1" />
<text x="189.9" y="199.79" font-size="9.0" text-anchor="end" fill="#000" stroke="#000" stroke-width="0.28" >10</text>
<line x1="192.5" y1="292" x2="338" y2="292" stroke="#000" stroke-width="1.2" />
<text x="268.7" y="189.59" font-size="8.7" text-anchor="middle" fill="#000" stroke="#000" stroke-width="0.28" >pSTAT3</text>
<rect x="198.8" y="282.9" width="6.6" height="9.1" fill="#000" stroke="#111" stroke-width="0.8"/>
<rect x="209.05" y="282.9" width="6.6" height="9.1" fill="#4654ae" stroke="#111" stroke-width="0.8"/>
<line x1="222.6" y1="221.7" x2="222.6" y2="237.85" stroke="#e27a68" stroke-width="1.0" />
<line x1="220.2" y1="221.7" x2="225" y2="221.7" stroke="#e27a68" stroke-width="1.0" />
<rect x="219.3" y="238.25" width="6.6" height="53.75" fill="#d32d17" stroke="#111" stroke-width="0.8"/>
<line x1="232.85" y1="222.65" x2="232.85" y2="238.32" stroke="#9fc08a" stroke-width="1.0" />
<line x1="230.45" y1="222.65" x2="235.25" y2="222.65" stroke="#9fc08a" stroke-width="1.0" />
<rect x="229.55" y="238.72" width="6.6" height="53.28" fill="#579848" stroke="#111" stroke-width="0.8"/>
<line x1="217.47" y1="292" x2="217.47" y2="294.6" stroke="#000" stroke-width="1" />
<rect x="246.7" y="282.9" width="6.6" height="9.1" fill="#000" stroke="#111" stroke-width="0.8"/>
<rect x="256.95" y="282.9" width="6.6" height="9.1" fill="#4654ae" stroke="#111" stroke-width="0.8"/>
<line x1="270.5" y1="207.45" x2="270.5" y2="232.34" stroke="#e27a68" stroke-width="1.0" />
<line x1="268.1" y1="207.45" x2="272.9" y2="207.45" stroke="#e27a68" stroke-width="1.0" />
<rect x="267.2" y="232.74" width="6.6" height="59.26" fill="#d32d17" stroke="#111" stroke-width="0.8"/>
<line x1="280.75" y1="207.45" x2="280.75" y2="232.34" stroke="#9fc08a" stroke-width="1.0" />
<line x1="278.35" y1="207.45" x2="283.15" y2="207.45" stroke="#9fc08a" stroke-width="1.0" />
<rect x="277.45" y="232.74" width="6.6" height="59.26" fill="#579848" stroke="#111" stroke-width="0.8"/>
<line x1="265.38" y1="292" x2="265.38" y2="294.6" stroke="#000" stroke-width="1" />
<rect x="294.6" y="282.9" width="6.6" height="9.1" fill="#000" stroke="#111" stroke-width="0.8"/>
<rect x="304.85" y="281.95" width="6.6" height="10.05" fill="#4654ae" stroke="#111" stroke-width="0.8"/>
<rect x="315.1" y="282.42" width="6.6" height="9.58" fill="#d32d17" stroke="#111" stroke-width="0.8"/>
<rect x="325.35" y="283.38" width="6.6" height="8.62" fill="#579848" stroke="#111" stroke-width="0.8"/>
<line x1="313.27" y1="292" x2="313.27" y2="294.6" stroke="#000" stroke-width="1" />
<text x="203.1" y="305.47" font-size="9.2" text-anchor="start" fill="#000" stroke="#000" stroke-width="0.28" >Control</text>
<text x="246.6" y="305.47" font-size="9.2" text-anchor="start" fill="#000" stroke="#000" stroke-width="0.28" >CD25</text>
<text x="271.3" y="307.55" font-size="5.2" text-anchor="start" fill="#000" stroke="#000" stroke-width="0.28" >MUT</text>
<text x="296.7" y="305.47" font-size="9.2" text-anchor="start" fill="#000" stroke="#000" stroke-width="0.28" >IL-21R</text>
<text x="325.7" y="307.55" font-size="5.2" text-anchor="start" fill="#000" stroke="#000" stroke-width="0.28" >MUT</text>
<line x1="195.1" y1="282.5" x2="339.5" y2="282.5" stroke="#000" stroke-width="1.1" stroke-dasharray="2.6,1.6"/>
<line x1="371.2" y1="196.5" x2="371.2" y2="292.6" stroke="#000" stroke-width="1.2" />
<line x1="368" y1="292" x2="371.2" y2="292" stroke="#000" stroke-width="1.1" />
<text x="367" y="294.8" font-size="9.0" text-anchor="end" fill="#000" stroke="#000" stroke-width="0.28" >0.0</text>
<line x1="368" y1="273" x2="371.2" y2="273" stroke="#000" stroke-width="1.1" />
<text x="367" y="275.8" font-size="9.0" text-anchor="end" fill="#000" stroke="#000" stroke-width="0.28" >0.5</text>
<line x1="368" y1="254" x2="371.2" y2="254" stroke="#000" stroke-width="1.1" />
<text x="367" y="256.8" font-size="9.0" text-anchor="end" fill="#000" stroke="#000" stroke-width="0.28" >1.0</text>
<line x1="368" y1="235" x2="371.2" y2="235" stroke="#000" stroke-width="1.1" />
<text x="367" y="237.79" font-size="9.0" text-anchor="end" fill="#000" stroke="#000" stroke-width="0.28" >1.5</text>
<line x1="368" y1="216" x2="371.2" y2="216" stroke="#000" stroke-width="1.1" />
<text x="367" y="218.79" font-size="9.0" text-anchor="end" fill="#000" stroke="#000" stroke-width="0.28" >2.0</text>
<line x1="368" y1="197" x2="371.2" y2="197" stroke="#000" stroke-width="1.1" />
<text x="367" y="199.79" font-size="9.0" text-anchor="end" fill="#000" stroke="#000" stroke-width="0.28" >2.5</text>
<line x1="369.6" y1="292" x2="515" y2="292" stroke="#000" stroke-width="1.2" />
<text x="442.1" y="189.59" font-size="8.7" text-anchor="middle" fill="#000" stroke="#000" stroke-width="0.28" >pSTAT5</text>
<rect x="377" y="254.4" width="6.6" height="37.6" fill="#000" stroke="#111" stroke-width="0.8"/>
<rect x="387.25" y="235.4" width="6.6" height="56.6" fill="#4654ae" stroke="#111" stroke-width="0.8"/>
<line x1="400.8" y1="220.56" x2="400.8" y2="234.62" stroke="#e27a68" stroke-width="1.0" />
<line x1="398.4" y1="220.56" x2="403.2" y2="220.56" stroke="#e27a68" stroke-width="1.0" />
<rect x="397.5" y="235.02" width="6.6" height="56.98" fill="#d32d17" stroke="#111" stroke-width="0.8"/>
<line x1="411.05" y1="214.48" x2="411.05" y2="226.26" stroke="#a8c68a" stroke-width="1.0" />
<line x1="408.65" y1="214.48" x2="413.45" y2="214.48" stroke="#a8c68a" stroke-width="1.0" />
<rect x="407.75" y="226.66" width="6.6" height="65.34" fill="#5f9a3d" stroke="#111" stroke-width="0.8"/>
<line x1="395.67" y1="292" x2="395.67" y2="294.6" stroke="#000" stroke-width="1" />
<rect x="424.9" y="254.4" width="6.6" height="37.6" fill="#000" stroke="#111" stroke-width="0.8"/>
<line x1="438.45" y1="237.66" x2="438.45" y2="243.74" stroke="#7c86c8" stroke-width="1.0" />
<line x1="436.05" y1="237.66" x2="440.85" y2="237.66" stroke="#7c86c8" stroke-width="1.0" />
<rect x="435.15" y="244.14" width="6.6" height="47.86" fill="#4654ae" stroke="#111" stroke-width="0.8"/>
<line x1="448.7" y1="221.51" x2="448.7" y2="232.91" stroke="#e27a68" stroke-width="1.0" />
<line x1="446.3" y1="221.51" x2="451.1" y2="221.51" stroke="#e27a68" stroke-width="1.0" />
<rect x="445.4" y="233.31" width="6.6" height="58.69" fill="#d32d17" stroke="#111" stroke-width="0.8"/>
<line x1="458.95" y1="218.66" x2="458.95" y2="231.2" stroke="#a8c68a" stroke-width="1.0" />
<line x1="456.55" y1="218.66" x2="461.35" y2="218.66" stroke="#a8c68a" stroke-width="1.0" />
<rect x="455.65" y="231.6" width="6.6" height="60.4" fill="#5f9a3d" stroke="#111" stroke-width="0.8"/>
<line x1="443.57" y1="292" x2="443.57" y2="294.6" stroke="#000" stroke-width="1" />
<rect x="472.8" y="254.4" width="6.6" height="37.6" fill="#000" stroke="#111" stroke-width="0.8"/>
<line x1="486.35" y1="211.06" x2="486.35" y2="220.94" stroke="#7c86c8" stroke-width="1.0" />
<line x1="483.95" y1="211.06" x2="488.75" y2="211.06" stroke="#7c86c8" stroke-width="1.0" />
<rect x="483.05" y="221.34" width="6.6" height="70.66" fill="#4654ae" stroke="#111" stroke-width="0.8"/>
<rect x="493.3" y="253.64" width="6.6" height="38.36" fill="#d32d17" stroke="#111" stroke-width="0.8"/>
<line x1="506.85" y1="213.34" x2="506.85" y2="224.36" stroke="#a8c68a" stroke-width="1.0" />
<line x1="504.45" y1="213.34" x2="509.25" y2="213.34" stroke="#a8c68a" stroke-width="1.0" />
<rect x="503.55" y="224.76" width="6.6" height="67.24" fill="#5f9a3d" stroke="#111" stroke-width="0.8"/>
<line x1="491.47" y1="292" x2="491.47" y2="294.6" stroke="#000" stroke-width="1" />
<text x="378.9" y="305.47" font-size="9.2" text-anchor="start" fill="#000" stroke="#000" stroke-width="0.28" >Control</text>
<text x="421.3" y="305.47" font-size="9.2" text-anchor="start" fill="#000" stroke="#000" stroke-width="0.28" >CD25</text>
<text x="446" y="307.55" font-size="5.2" text-anchor="start" fill="#000" stroke="#000" stroke-width="0.28" >MUT</text>
<text x="471.5" y="305.47" font-size="9.2" text-anchor="start" fill="#000" stroke="#000" stroke-width="0.28" >IL-21R</text>
<text x="500.5" y="307.55" font-size="5.2" text-anchor="start" fill="#000" stroke="#000" stroke-width="0.28" >MUT</text>
<line x1="372.2" y1="254" x2="516.5" y2="254" stroke="#000" stroke-width="1.1" stroke-dasharray="2.6,1.6"/>
<text x="5.4" y="238.65" font-size="8.6" text-anchor="middle" fill="#000" stroke="#000" stroke-width="0.28" transform="rotate(-90 5.4 235.6)">Fold Change</text>
<rect x="127.6" y="201.5" width="7.8" height="4.8" fill="#000" stroke="#111" stroke-width="0.8"/>
<text x="139.8" y="206.49" font-size="7.3" text-anchor="start" fill="#000" stroke="#000" stroke-width="0.28" >Nil</text>
<rect x="127.6" y="210.3" width="7.8" height="4.8" fill="#4654ae" stroke="#111" stroke-width="0.8"/>
<text x="139.8" y="215.29" font-size="7.3" text-anchor="start" fill="#000" stroke="#000" stroke-width="0.28" >IL-2</text>
<rect x="127.6" y="219.1" width="7.8" height="4.8" fill="#d32d17" stroke="#111" stroke-width="0.8"/>
<text x="139.8" y="224.09" font-size="7.3" text-anchor="start" fill="#000" stroke="#000" stroke-width="0.28" >IL-21</text>
<rect x="127.6" y="227.9" width="7.8" height="4.8" fill="#4e9153" stroke="#111" stroke-width="0.8"/>
<text x="139.8" y="232.89" font-size="7.3" text-anchor="start" fill="#000" stroke="#000" stroke-width="0.28" >IL-2/IL-21</text>
<text x="-0.6" y="328.29" font-size="11.8" text-anchor="start" fill="#000" stroke="#000" stroke-width="0.28" >D</text>
<rect x="27" y="336.5" width="121.5" height="120.7" fill="none" stroke="#222" stroke-width="1.1"/>
<text x="84.65" y="328.77" font-size="9.2" text-anchor="middle" fill="#000" stroke="#000" stroke-width="0.28" >No Cytokine</text>
<text x="29.4" y="344.31" font-size="6.8" text-anchor="start" fill="#35357c" stroke="#35357c" stroke-width="0.28" >0.14</text>
<text x="142.9" y="344.31" font-size="6.8" text-anchor="end" fill="#35357c" stroke="#35357c" stroke-width="0.28" >0.05</text>
<text x="29.4" y="454.81" font-size="6.8" text-anchor="start" fill="#35357c" stroke="#35357c" stroke-width="0.28" >99.4</text>
<text x="142.9" y="454.81" font-size="6.8" text-anchor="end" fill="#35357c" stroke="#35357c" stroke-width="0.28" >0.4</text>
<line x1="27" y1="457.2" x2="27" y2="459.4" stroke="#000" stroke-width="0.9" />
<line x1="36.14" y1="457.2" x2="36.14" y2="458.5" stroke="#000" stroke-width="0.6" />
<line x1="41.49" y1="457.2" x2="41.49" y2="458.5" stroke="#000" stroke-width="0.6" />
<line x1="45.29" y1="457.2" x2="45.29" y2="458.5" stroke="#000" stroke-width="0.6" />
<line x1="48.23" y1="457.2" x2="48.23" y2="458.5" stroke="#000" stroke-width="0.6" />
<line x1="50.64" y1="457.2" x2="50.64" y2="458.5" stroke="#000" stroke-width="0.6" />
<line x1="52.67" y1="457.2" x2="52.67" y2="458.5" stroke="#000" stroke-width="0.6" />
<line x1="54.43" y1="457.2" x2="54.43" y2="458.5" stroke="#000" stroke-width="0.6" />
<line x1="55.99" y1="457.2" x2="55.99" y2="458.5" stroke="#000" stroke-width="0.6" />
<text x="28" y="468.31" font-size="6.8" text-anchor="middle" fill="#000" stroke="#000" stroke-width="0.2">10</text>
<text x="32.01" y="465.73" font-size="4.22" fill="#000" stroke="#000" stroke-width="0.12">0</text>
<line x1="57.38" y1="457.2" x2="57.38" y2="459.4" stroke="#000" stroke-width="0.9" />
<line x1="66.52" y1="457.2" x2="66.52" y2="458.5" stroke="#000" stroke-width="0.6" />
<line x1="71.87" y1="457.2" x2="71.87" y2="458.5" stroke="#000" stroke-width="0.6" />
<line x1="75.66" y1="457.2" x2="75.66" y2="458.5" stroke="#000" stroke-width="0.6" />
<line x1="78.61" y1="457.2" x2="78.61" y2="458.5" stroke="#000" stroke-width="0.6" />
<line x1="81.01" y1="457.2" x2="81.01" y2="458.5" stroke="#000" stroke-width="0.6" />
<line x1="83.04" y1="457.2" x2="83.04" y2="458.5" stroke="#000" stroke-width="0.6" />
<line x1="84.81" y1="457.2" x2="84.81" y2="458.5" stroke="#000" stroke-width="0.6" />
<line x1="86.36" y1="457.2" x2="86.36" y2="458.5" stroke="#000" stroke-width="0.6" />
<text x="57.38" y="468.31" font-size="6.8" text-anchor="middle" fill="#000" stroke="#000" stroke-width="0.2">10</text>
<text x="61.38" y="465.73" font-size="4.22" fill="#000" stroke="#000" stroke-width="0.12">1</text>
<line x1="87.75" y1="457.2" x2="87.75" y2="459.4" stroke="#000" stroke-width="0.9" />
<line x1="96.89" y1="457.2" x2="96.89" y2="458.5" stroke="#000" stroke-width="0.6" />
<line x1="102.24" y1="457.2" x2="102.24" y2="458.5" stroke="#000" stroke-width="0.6" />
<line x1="106.04" y1="457.2" x2="106.04" y2="458.5" stroke="#000" stroke-width="0.6" />
<line x1="108.98" y1="457.2" x2="108.98" y2="458.5" stroke="#000" stroke-width="0.6" />
<line x1="111.39" y1="457.2" x2="111.39" y2="458.5" stroke="#000" stroke-width="0.6" />
<line x1="113.42" y1="457.2" x2="113.42" y2="458.5" stroke="#000" stroke-width="0.6" />
<line x1="115.18" y1="457.2" x2="115.18" y2="458.5" stroke="#000" stroke-width="0.6" />
<line x1="116.74" y1="457.2" x2="116.74" y2="458.5" stroke="#000" stroke-width="0.6" />
<text x="87.75" y="468.31" font-size="6.8" text-anchor="middle" fill="#000" stroke="#000" stroke-width="0.2">10</text>
<text x="91.76" y="465.73" font-size="4.22" fill="#000" stroke="#000" stroke-width="0.12">2</text>
<line x1="118.12" y1="457.2" x2="118.12" y2="459.4" stroke="#000" stroke-width="0.9" />
<line x1="127.27" y1="457.2" x2="127.27" y2="458.5" stroke="#000" stroke-width="0.6" />
<line x1="132.62" y1="457.2" x2="132.62" y2="458.5" stroke="#000" stroke-width="0.6" />
<line x1="136.41" y1="457.2" x2="136.41" y2="458.5" stroke="#000" stroke-width="0.6" />
<line x1="139.36" y1="457.2" x2="139.36" y2="458.5" stroke="#000" stroke-width="0.6" />
<line x1="141.76" y1="457.2" x2="141.76" y2="458.5" stroke="#000" stroke-width="0.6" />
<line x1="143.79" y1="457.2" x2="143.79" y2="458.5" stroke="#000" stroke-width="0.6" />
<line x1="145.56" y1="457.2" x2="145.56" y2="458.5" stroke="#000" stroke-width="0.6" />
<line x1="147.11" y1="457.2" x2="147.11" y2="458.5" stroke="#000" stroke-width="0.6" />
<text x="118.12" y="468.31" font-size="6.8" text-anchor="middle" fill="#000" stroke="#000" stroke-width="0.2">10</text>
<text x="122.13" y="465.73" font-size="4.22" fill="#000" stroke="#000" stroke-width="0.12">3</text>
<line x1="148.5" y1="457.2" x2="148.5" y2="459.4" stroke="#000" stroke-width="0.9" />
<text x="148.5" y="468.31" font-size="6.8" text-anchor="middle" fill="#000" stroke="#000" stroke-width="0.2">10</text>
<text x="152.51" y="465.73" font-size="4.22" fill="#000" stroke="#000" stroke-width="0.12">4</text>
<rect x="148.5" y="336.5" width="121.5" height="120.7" fill="none" stroke="#222" stroke-width="1.1"/>
<text x="207.25" y="328.77" font-size="9.2" text-anchor="middle" fill="#000" stroke="#000" stroke-width="0.28" >IL-2</text>
<text x="150.9" y="344.31" font-size="6.8" text-anchor="start" fill="#35357c" stroke="#35357c" stroke-width="0.28" >8.11</text>
<text x="267.7" y="344.31" font-size="6.8" text-anchor="end" fill="#35357c" stroke="#35357c" stroke-width="0.28" >0.24</text>
<text x="150.9" y="454.81" font-size="6.8" text-anchor="start" fill="#35357c" stroke="#35357c" stroke-width="0.28" >91.4</text>
<text x="267.7" y="454.81" font-size="6.8" text-anchor="end" fill="#35357c" stroke="#35357c" stroke-width="0.28" >0.29</text>
<line x1="148.5" y1="457.2" x2="148.5" y2="459.4" stroke="#000" stroke-width="0.9" />
<line x1="157.64" y1="457.2" x2="157.64" y2="458.5" stroke="#000" stroke-width="0.6" />
<line x1="162.99" y1="457.2" x2="162.99" y2="458.5" stroke="#000" stroke-width="0.6" />
<line x1="166.79" y1="457.2" x2="166.79" y2="458.5" stroke="#000" stroke-width="0.6" />
<line x1="169.73" y1="457.2" x2="169.73" y2="458.5" stroke="#000" stroke-width="0.6" />
<line x1="172.14" y1="457.2" x2="172.14" y2="458.5" stroke="#000" stroke-width="0.6" />
<line x1="174.17" y1="457.2" x2="174.17" y2="458.5" stroke="#000" stroke-width="0.6" />
<line x1="175.93" y1="457.2" x2="175.93" y2="458.5" stroke="#000" stroke-width="0.6" />
<line x1="177.49" y1="457.2" x2="177.49" y2="458.5" stroke="#000" stroke-width="0.6" />
<line x1="178.88" y1="457.2" x2="178.88" y2="459.4" stroke="#000" stroke-width="0.9" />
<line x1="188.02" y1="457.2" x2="188.02" y2="458.5" stroke="#000" stroke-width="0.6" />
<line x1="193.37" y1="457.2" x2="193.37" y2="458.5" stroke="#000" stroke-width="0.6" />
<line x1="197.16" y1="457.2" x2="197.16" y2="458.5" stroke="#000" stroke-width="0.6" />
<line x1="200.11" y1="457.2" x2="200.11" y2="458.5" stroke="#000" stroke-width="0.6" />
<line x1="202.51" y1="457.2" x2="202.51" y2="458.5" stroke="#000" stroke-width="0.6" />
<line x1="204.54" y1="457.2" x2="204.54" y2="458.5" stroke="#000" stroke-width="0.6" />
<line x1="206.31" y1="457.2" x2="206.31" y2="458.5" stroke="#000" stroke-width="0.6" />
<line x1="207.86" y1="457.2" x2="207.86" y2="458.5" stroke="#000" stroke-width="0.6" />
<text x="178.88" y="468.31" font-size="6.8" text-anchor="middle" fill="#000" stroke="#000" stroke-width="0.2">10</text>
<text x="182.88" y="465.73" font-size="4.22" fill="#000" stroke="#000" stroke-width="0.12">1</text>
<line x1="209.25" y1="457.2" x2="209.25" y2="459.4" stroke="#000" stroke-width="0.9" />
<line x1="218.39" y1="457.2" x2="218.39" y2="458.5" stroke="#000" stroke-width="0.6" />
<line x1="223.74" y1="457.2" x2="223.74" y2="458.5" stroke="#000" stroke-width="0.6" />
<line x1="227.54" y1="457.2" x2="227.54" y2="458.5" stroke="#000" stroke-width="0.6" />
<line x1="230.48" y1="457.2" x2="230.48" y2="458.5" stroke="#000" stroke-width="0.6" />
<line x1="232.89" y1="457.2" x2="232.89" y2="458.5" stroke="#000" stroke-width="0.6" />
<line x1="234.92" y1="457.2" x2="234.92" y2="458.5" stroke="#000" stroke-width="0.6" />
<line x1="236.68" y1="457.2" x2="236.68" y2="458.5" stroke="#000" stroke-width="0.6" />
<line x1="238.24" y1="457.2" x2="238.24" y2="458.5" stroke="#000" stroke-width="0.6" />
<text x="209.25" y="468.31" font-size="6.8" text-anchor="middle" fill="#000" stroke="#000" stroke-width="0.2">10</text>
<text x="213.26" y="465.73" font-size="4.22" fill="#000" stroke="#000" stroke-width="0.12">2</text>
<line x1="239.62" y1="457.2" x2="239.62" y2="459.4" stroke="#000" stroke-width="0.9" />
<line x1="248.77" y1="457.2" x2="248.77" y2="458.5" stroke="#000" stroke-width="0.6" />
<line x1="254.12" y1="457.2" x2="254.12" y2="458.5" stroke="#000" stroke-width="0.6" />
<line x1="257.91" y1="457.2" x2="257.91" y2="458.5" stroke="#000" stroke-width="0.6" />
<line x1="260.86" y1="457.2" x2="260.86" y2="458.5" stroke="#000" stroke-width="0.6" />
<line x1="263.26" y1="457.2" x2="263.26" y2="458.5" stroke="#000" stroke-width="0.6" />
<line x1="265.29" y1="457.2" x2="265.29" y2="458.5" stroke="#000" stroke-width="0.6" />
<line x1="267.06" y1="457.2" x2="267.06" y2="458.5" stroke="#000" stroke-width="0.6" />
<line x1="268.61" y1="457.2" x2="268.61" y2="458.5" stroke="#000" stroke-width="0.6" />
<text x="239.62" y="468.31" font-size="6.8" text-anchor="middle" fill="#000" stroke="#000" stroke-width="0.2">10</text>
<text x="243.63" y="465.73" font-size="4.22" fill="#000" stroke="#000" stroke-width="0.12">3</text>
<line x1="270" y1="457.2" x2="270" y2="459.4" stroke="#000" stroke-width="0.9" />
<text x="270" y="468.31" font-size="6.8" text-anchor="middle" fill="#000" stroke="#000" stroke-width="0.2">10</text>
<text x="274.01" y="465.73" font-size="4.22" fill="#000" stroke="#000" stroke-width="0.12">4</text>
<rect x="270" y="336.5" width="121.5" height="120.7" fill="none" stroke="#222" stroke-width="1.1"/>
<text x="328.75" y="328.77" font-size="9.2" text-anchor="middle" fill="#000" stroke="#000" stroke-width="0.28" >IL-21</text>
<text x="272.4" y="344.31" font-size="6.8" text-anchor="start" fill="#35357c" stroke="#35357c" stroke-width="0.28" >0.05</text>
<text x="389.2" y="344.31" font-size="6.8" text-anchor="end" fill="#35357c" stroke="#35357c" stroke-width="0.28" >8.64</text>
<text x="272.4" y="454.81" font-size="6.8" text-anchor="start" fill="#35357c" stroke="#35357c" stroke-width="0.28" >19.7</text>
<text x="389.2" y="454.81" font-size="6.8" text-anchor="end" fill="#35357c" stroke="#35357c" stroke-width="0.28" >71.6</text>
<line x1="270" y1="457.2" x2="270" y2="459.4" stroke="#000" stroke-width="0.9" />
<line x1="279.14" y1="457.2" x2="279.14" y2="458.5" stroke="#000" stroke-width="0.6" />
<line x1="284.49" y1="457.2" x2="284.49" y2="458.5" stroke="#000" stroke-width="0.6" />
<line x1="288.29" y1="457.2" x2="288.29" y2="458.5" stroke="#000" stroke-width="0.6" />
<line x1="291.23" y1="457.2" x2="291.23" y2="458.5" stroke="#000" stroke-width="0.6" />
<line x1="293.64" y1="457.2" x2="293.64" y2="458.5" stroke="#000" stroke-width="0.6" />
<line x1="295.67" y1="457.2" x2="295.67" y2="458.5" stroke="#000" stroke-width="0.6" />
<line x1="297.43" y1="457.2" x2="297.43" y2="458.5" stroke="#000" stroke-width="0.6" />
<line x1="298.99" y1="457.2" x2="298.99" y2="458.5" stroke="#000" stroke-width="0.6" />
<line x1="300.38" y1="457.2" x2="300.38" y2="459.4" stroke="#000" stroke-width="0.9" />
<line x1="309.52" y1="457.2" x2="309.52" y2="458.5" stroke="#000" stroke-width="0.6" />
<line x1="314.87" y1="457.2" x2="314.87" y2="458.5" stroke="#000" stroke-width="0.6" />
<line x1="318.66" y1="457.2" x2="318.66" y2="458.5" stroke="#000" stroke-width="0.6" />
<line x1="321.61" y1="457.2" x2="321.61" y2="458.5" stroke="#000" stroke-width="0.6" />
<line x1="324.01" y1="457.2" x2="324.01" y2="458.5" stroke="#000" stroke-width="0.6" />
<line x1="326.04" y1="457.2" x2="326.04" y2="458.5" stroke="#000" stroke-width="0.6" />
<line x1="327.81" y1="457.2" x2="327.81" y2="458.5" stroke="#000" stroke-width="0.6" />
<line x1="329.36" y1="457.2" x2="329.36" y2="458.5" stroke="#000" stroke-width="0.6" />
<text x="300.38" y="468.31" font-size="6.8" text-anchor="middle" fill="#000" stroke="#000" stroke-width="0.2">10</text>
<text x="304.38" y="465.73" font-size="4.22" fill="#000" stroke="#000" stroke-width="0.12">1</text>
<line x1="330.75" y1="457.2" x2="330.75" y2="459.4" stroke="#000" stroke-width="0.9" />
<line x1="339.89" y1="457.2" x2="339.89" y2="458.5" stroke="#000" stroke-width="0.6" />
<line x1="345.24" y1="457.2" x2="345.24" y2="458.5" stroke="#000" stroke-width="0.6" />
<line x1="349.04" y1="457.2" x2="349.04" y2="458.5" stroke="#000" stroke-width="0.6" />
<line x1="351.98" y1="457.2" x2="351.98" y2="458.5" stroke="#000" stroke-width="0.6" />
<line x1="354.39" y1="457.2" x2="354.39" y2="458.5" stroke="#000" stroke-width="0.6" />
<line x1="356.42" y1="457.2" x2="356.42" y2="458.5" stroke="#000" stroke-width="0.6" />
<line x1="358.18" y1="457.2" x2="358.18" y2="458.5" stroke="#000" stroke-width="0.6" />
<line x1="359.74" y1="457.2" x2="359.74" y2="458.5" stroke="#000" stroke-width="0.6" />
<text x="330.75" y="468.31" font-size="6.8" text-anchor="middle" fill="#000" stroke="#000" stroke-width="0.2">10</text>
<text x="334.76" y="465.73" font-size="4.22" fill="#000" stroke="#000" stroke-width="0.12">2</text>
<line x1="361.12" y1="457.2" x2="361.12" y2="459.4" stroke="#000" stroke-width="0.9" />
<line x1="370.27" y1="457.2" x2="370.27" y2="458.5" stroke="#000" stroke-width="0.6" />
<line x1="375.62" y1="457.2" x2="375.62" y2="458.5" stroke="#000" stroke-width="0.6" />
<line x1="379.41" y1="457.2" x2="379.41" y2="458.5" stroke="#000" stroke-width="0.6" />
<line x1="382.36" y1="457.2" x2="382.36" y2="458.5" stroke="#000" stroke-width="0.6" />
<line x1="384.76" y1="457.2" x2="384.76" y2="458.5" stroke="#000" stroke-width="0.6" />
<line x1="386.79" y1="457.2" x2="386.79" y2="458.5" stroke="#000" stroke-width="0.6" />
<line x1="388.56" y1="457.2" x2="388.56" y2="458.5" stroke="#000" stroke-width="0.6" />
<line x1="390.11" y1="457.2" x2="390.11" y2="458.5" stroke="#000" stroke-width="0.6" />
<text x="361.12" y="468.31" font-size="6.8" text-anchor="middle" fill="#000" stroke="#000" stroke-width="0.2">10</text>
<text x="365.13" y="465.73" font-size="4.22" fill="#000" stroke="#000" stroke-width="0.12">3</text>
<line x1="391.5" y1="457.2" x2="391.5" y2="459.4" stroke="#000" stroke-width="0.9" />
<text x="391.5" y="468.31" font-size="6.8" text-anchor="middle" fill="#000" stroke="#000" stroke-width="0.2">10</text>
<text x="395.51" y="465.73" font-size="4.22" fill="#000" stroke="#000" stroke-width="0.12">4</text>
<rect x="391.5" y="336.5" width="121.5" height="120.7" fill="none" stroke="#222" stroke-width="1.1"/>
<text x="450.25" y="328.77" font-size="9.2" text-anchor="middle" fill="#000" stroke="#000" stroke-width="0.28" >IL-2/IL-21</text>
<text x="393.9" y="344.31" font-size="6.8" text-anchor="start" fill="#35357c" stroke="#35357c" stroke-width="0.28" >0.15</text>
<text x="510.7" y="344.31" font-size="6.8" text-anchor="end" fill="#35357c" stroke="#35357c" stroke-width="0.28" >17</text>
<text x="393.9" y="454.81" font-size="6.8" text-anchor="start" fill="#35357c" stroke="#35357c" stroke-width="0.28" >19.8</text>
<text x="510.7" y="454.81" font-size="6.8" text-anchor="end" fill="#35357c" stroke="#35357c" stroke-width="0.28" >63.1</text>
<line x1="391.5" y1="457.2" x2="391.5" y2="459.4" stroke="#000" stroke-width="0.9" />
<line x1="400.64" y1="457.2" x2="400.64" y2="458.5" stroke="#000" stroke-width="0.6" />
<line x1="405.99" y1="457.2" x2="405.99" y2="458.5" stroke="#000" stroke-width="0.6" />
<line x1="409.79" y1="457.2" x2="409.79" y2="458.5" stroke="#000" stroke-width="0.6" />
<line x1="412.73" y1="457.2" x2="412.73" y2="458.5" stroke="#000" stroke-width="0.6" />
<line x1="415.14" y1="457.2" x2="415.14" y2="458.5" stroke="#000" stroke-width="0.6" />
<line x1="417.17" y1="457.2" x2="417.17" y2="458.5" stroke="#000" stroke-width="0.6" />
<line x1="418.93" y1="457.2" x2="418.93" y2="458.5" stroke="#000" stroke-width="0.6" />
<line x1="420.49" y1="457.2" x2="420.49" y2="458.5" stroke="#000" stroke-width="0.6" />
<line x1="421.88" y1="457.2" x2="421.88" y2="459.4" stroke="#000" stroke-width="0.9" />
<line x1="431.02" y1="457.2" x2="431.02" y2="458.5" stroke="#000" stroke-width="0.6" />
<line x1="436.37" y1="457.2" x2="436.37" y2="458.5" stroke="#000" stroke-width="0.6" />
<line x1="440.16" y1="457.2" x2="440.16" y2="458.5" stroke="#000" stroke-width="0.6" />
<line x1="443.11" y1="457.2" x2="443.11" y2="458.5" stroke="#000" stroke-width="0.6" />
<line x1="445.51" y1="457.2" x2="445.51" y2="458.5" stroke="#000" stroke-width="0.6" />
<line x1="447.54" y1="457.2" x2="447.54" y2="458.5" stroke="#000" stroke-width="0.6" />
<line x1="449.31" y1="457.2" x2="449.31" y2="458.5" stroke="#000" stroke-width="0.6" />
<line x1="450.86" y1="457.2" x2="450.86" y2="458.5" stroke="#000" stroke-width="0.6" />
<text x="421.88" y="468.31" font-size="6.8" text-anchor="middle" fill="#000" stroke="#000" stroke-width="0.2">10</text>
<text x="425.88" y="465.73" font-size="4.22" fill="#000" stroke="#000" stroke-width="0.12">1</text>
<line x1="452.25" y1="457.2" x2="452.25" y2="459.4" stroke="#000" stroke-width="0.9" />
<line x1="461.39" y1="457.2" x2="461.39" y2="458.5" stroke="#000" stroke-width="0.6" />
<line x1="466.74" y1="457.2" x2="466.74" y2="458.5" stroke="#000" stroke-width="0.6" />
<line x1="470.54" y1="457.2" x2="470.54" y2="458.5" stroke="#000" stroke-width="0.6" />
<line x1="473.48" y1="457.2" x2="473.48" y2="458.5" stroke="#000" stroke-width="0.6" />
<line x1="475.89" y1="457.2" x2="475.89" y2="458.5" stroke="#000" stroke-width="0.6" />
<line x1="477.92" y1="457.2" x2="477.92" y2="458.5" stroke="#000" stroke-width="0.6" />
<line x1="479.68" y1="457.2" x2="479.68" y2="458.5" stroke="#000" stroke-width="0.6" />
<line x1="481.24" y1="457.2" x2="481.24" y2="458.5" stroke="#000" stroke-width="0.6" />
<text x="452.25" y="468.31" font-size="6.8" text-anchor="middle" fill="#000" stroke="#000" stroke-width="0.2">10</text>
<text x="456.26" y="465.73" font-size="4.22" fill="#000" stroke="#000" stroke-width="0.12">2</text>
<line x1="482.62" y1="457.2" x2="482.62" y2="459.4" stroke="#000" stroke-width="0.9" />
<line x1="491.77" y1="457.2" x2="491.77" y2="458.5" stroke="#000" stroke-width="0.6" />
<line x1="497.12" y1="457.2" x2="497.12" y2="458.5" stroke="#000" stroke-width="0.6" />
<line x1="500.91" y1="457.2" x2="500.91" y2="458.5" stroke="#000" stroke-width="0.6" />
<line x1="503.86" y1="457.2" x2="503.86" y2="458.5" stroke="#000" stroke-width="0.6" />
<line x1="506.26" y1="457.2" x2="506.26" y2="458.5" stroke="#000" stroke-width="0.6" />
<line x1="508.29" y1="457.2" x2="508.29" y2="458.5" stroke="#000" stroke-width="0.6" />
<line x1="510.06" y1="457.2" x2="510.06" y2="458.5" stroke="#000" stroke-width="0.6" />
<line x1="511.61" y1="457.2" x2="511.61" y2="458.5" stroke="#000" stroke-width="0.6" />
<text x="482.62" y="468.31" font-size="6.8" text-anchor="middle" fill="#000" stroke="#000" stroke-width="0.2">10</text>
<text x="486.63" y="465.73" font-size="4.22" fill="#000" stroke="#000" stroke-width="0.12">3</text>
<line x1="513" y1="457.2" x2="513" y2="459.4" stroke="#000" stroke-width="0.9" />
<text x="513" y="468.31" font-size="6.8" text-anchor="middle" fill="#000" stroke="#000" stroke-width="0.2">10</text>
<text x="517.01" y="465.73" font-size="4.22" fill="#000" stroke="#000" stroke-width="0.12">4</text>
<line x1="24.6" y1="457.2" x2="27" y2="457.2" stroke="#000" stroke-width="0.9" />
<text x="16.8" y="459.61" font-size="6.8" text-anchor="middle" fill="#000" stroke="#000" stroke-width="0.2">10</text>
<text x="20.81" y="457.03" font-size="4.22" fill="#000" stroke="#000" stroke-width="0.12">0</text>
<line x1="25.6" y1="448.12" x2="27" y2="448.12" stroke="#000" stroke-width="0.6" />
<line x1="25.6" y1="442.8" x2="27" y2="442.8" stroke="#000" stroke-width="0.6" />
<line x1="25.6" y1="439.03" x2="27" y2="439.03" stroke="#000" stroke-width="0.6" />
<line x1="25.6" y1="436.11" x2="27" y2="436.11" stroke="#000" stroke-width="0.6" />
<line x1="25.6" y1="433.72" x2="27" y2="433.72" stroke="#000" stroke-width="0.6" />
<line x1="25.6" y1="431.7" x2="27" y2="431.7" stroke="#000" stroke-width="0.6" />
<line x1="25.6" y1="429.95" x2="27" y2="429.95" stroke="#000" stroke-width="0.6" />
<line x1="25.6" y1="428.41" x2="27" y2="428.41" stroke="#000" stroke-width="0.6" />
<line x1="24.6" y1="427.02" x2="27" y2="427.02" stroke="#000" stroke-width="0.9" />
<text x="16.8" y="429.44" font-size="6.8" text-anchor="middle" fill="#000" stroke="#000" stroke-width="0.2">10</text>
<text x="20.81" y="426.85" font-size="4.22" fill="#000" stroke="#000" stroke-width="0.12">1</text>
<line x1="25.6" y1="417.94" x2="27" y2="417.94" stroke="#000" stroke-width="0.6" />
<line x1="25.6" y1="412.63" x2="27" y2="412.63" stroke="#000" stroke-width="0.6" />
<line x1="25.6" y1="408.86" x2="27" y2="408.86" stroke="#000" stroke-width="0.6" />
<line x1="25.6" y1="405.93" x2="27" y2="405.93" stroke="#000" stroke-width="0.6" />
<line x1="25.6" y1="403.54" x2="27" y2="403.54" stroke="#000" stroke-width="0.6" />
<line x1="25.6" y1="401.52" x2="27" y2="401.52" stroke="#000" stroke-width="0.6" />
<line x1="25.6" y1="399.77" x2="27" y2="399.77" stroke="#000" stroke-width="0.6" />
<line x1="25.6" y1="398.23" x2="27" y2="398.23" stroke="#000" stroke-width="0.6" />
<line x1="24.6" y1="396.85" x2="27" y2="396.85" stroke="#000" stroke-width="0.9" />
<text x="16.8" y="399.26" font-size="6.8" text-anchor="middle" fill="#000" stroke="#000" stroke-width="0.2">10</text>
<text x="20.81" y="396.68" font-size="4.22" fill="#000" stroke="#000" stroke-width="0.12">2</text>
<line x1="25.6" y1="387.77" x2="27" y2="387.77" stroke="#000" stroke-width="0.6" />
<line x1="25.6" y1="382.45" x2="27" y2="382.45" stroke="#000" stroke-width="0.6" />
<line x1="25.6" y1="378.68" x2="27" y2="378.68" stroke="#000" stroke-width="0.6" />
<line x1="25.6" y1="375.76" x2="27" y2="375.76" stroke="#000" stroke-width="0.6" />
<line x1="25.6" y1="373.37" x2="27" y2="373.37" stroke="#000" stroke-width="0.6" />
<line x1="25.6" y1="371.35" x2="27" y2="371.35" stroke="#000" stroke-width="0.6" />
<line x1="25.6" y1="369.6" x2="27" y2="369.6" stroke="#000" stroke-width="0.6" />
<line x1="25.6" y1="368.06" x2="27" y2="368.06" stroke="#000" stroke-width="0.6" />
<line x1="24.6" y1="366.68" x2="27" y2="366.68" stroke="#000" stroke-width="0.9" />
<text x="16.8" y="369.09" font-size="6.8" text-anchor="middle" fill="#000" stroke="#000" stroke-width="0.2">10</text>
<text x="20.81" y="366.5" font-size="4.22" fill="#000" stroke="#000" stroke-width="0.12">3</text>
<line x1="25.6" y1="357.59" x2="27" y2="357.59" stroke="#000" stroke-width="0.6" />
<line x1="25.6" y1="352.28" x2="27" y2="352.28" stroke="#000" stroke-width="0.6" />
<line x1="25.6" y1="348.51" x2="27" y2="348.51" stroke="#000" stroke-width="0.6" />
<line x1="25.6" y1="345.58" x2="27" y2="345.58" stroke="#000" stroke-width="0.6" />
<line x1="25.6" y1="343.19" x2="27" y2="343.19" stroke="#000" stroke-width="0.6" />
<line x1="25.6" y1="341.17" x2="27" y2="341.17" stroke="#000" stroke-width="0.6" />
<line x1="25.6" y1="339.42" x2="27" y2="339.42" stroke="#000" stroke-width="0.6" />
<line x1="25.6" y1="337.88" x2="27" y2="337.88" stroke="#000" stroke-width="0.6" />
<line x1="24.6" y1="336.5" x2="27" y2="336.5" stroke="#000" stroke-width="0.9" />
<text x="16.8" y="338.91" font-size="6.8" text-anchor="middle" fill="#000" stroke="#000" stroke-width="0.2">10</text>
<text x="20.81" y="336.33" font-size="4.22" fill="#000" stroke="#000" stroke-width="0.12">4</text>
<text x="18.6" y="480.13" font-size="9.1" text-anchor="start" fill="#000" stroke="#000" stroke-width="0.28" >pSTAT3</text>
<line x1="54.5" y1="476.9" x2="503" y2="476.9" stroke="#000" stroke-width="1.2" />
<path d="M511.5,476.9 L501.5,473.8 L501.5,480 Z" fill="#000"/>
<text x="4.5" y="444.93" font-size="9.1" text-anchor="middle" fill="#000" stroke="#000" stroke-width="0.28" transform="rotate(-90 4.5 441.7)">pSTAT5</text>
<line x1="4.6" y1="421" x2="4.6" y2="345" stroke="#000" stroke-width="1.2" />
<path d="M4.6,336.2 L1.5,346.2 L7.7,346.2 Z" fill="#000"/>
<path d="M39.66,440 L40.3,439.28 L40.93,438.63 L41.53,438.02 L42.1,437.47 L42.65,436.96 L43.17,436.48 L43.68,436.04 L44.18,435.63 L44.66,435.24 L45.12,434.87 L45.57,434.53 L46.01,434.19 L46.43,433.87 L46.85,433.56 L47.26,433.26 L47.67,432.97 L48.07,432.68 L48.47,432.39 L48.87,432.11 L49.28,431.82 L49.69,431.54 L50.1,431.25 L50.53,430.96 L50.96,430.66 L51.41,430.35 L51.88,430.04 L52.37,429.72 L52.89,429.4 L53.43,429.06 L54,428.71 L54.61,428.34 L55.27,427.95 L55.98,427.53 L56.75,427.07 L57.6,426.56 L58.55,426 L59.63,425.32 L60.92,424.46 L62.47,423.38 L64.12,422.47 L65.68,422.01 L67.17,421.88 L68.44,422.17 L69.32,422.98 L69.83,424.17 L70,425.59 L69.86,427.16 L69.53,428.72 L69.08,430.21 L68.59,431.58 L68.08,432.83 L67.57,433.96 L67.09,434.98 L66.63,435.9 L66.19,436.73 L65.77,437.5 L65.38,438.2 L65.01,438.84 L64.65,439.44 L64.3,440 L63.97,440.52 L63.65,441.01 L63.34,441.48 L63.05,441.92 L62.76,442.35 L62.48,442.75 L62.2,443.15 L61.93,443.53 L61.66,443.9 L61.39,444.27 L61.13,444.63 L60.86,444.98 L60.59,445.34 L60.32,445.69 L60.05,446.05 L59.76,446.4 L59.48,446.76 L59.18,447.13 L58.87,447.5 L58.55,447.88 L58.21,448.27 L57.86,448.67 L57.49,449.09 L57.09,449.52 L56.67,449.97 L56.22,450.43 L55.73,450.92 L55.2,451.43 L54.63,451.97 L54,452.52 L53.31,453.09 L52.57,453.65 L51.75,454.19 L50.88,454.69 L49.95,455.11 L48.99,455.41 L48.02,455.57 L47.05,455.61 L46.08,455.55 L45.1,455.41 L44.13,455.2 L43.17,454.91 L42.22,454.55 L41.3,454.11 L40.44,453.56 L39.68,452.9 L38.99,452.15 L38.38,451.35 L37.84,450.5 L37.37,449.6 L36.99,448.67 L36.72,447.69 L36.59,446.68 L36.62,445.65 L36.84,444.6 L37.23,443.57 L37.74,442.57 L38.35,441.64 L39,440.79Z" fill="none" stroke="#161616" stroke-width="0.95"/>
<path d="M41.3,440 L41.89,439.37 L42.46,438.79 L43,438.26 L43.52,437.77 L44.01,437.32 L44.47,436.9 L44.92,436.52 L45.35,436.15 L45.77,435.81 L46.17,435.48 L46.55,435.17 L46.93,434.86 L47.3,434.58 L47.67,434.3 L48.02,434.02 L48.38,433.76 L48.73,433.49 L49.08,433.23 L49.43,432.97 L49.79,432.71 L50.15,432.45 L50.52,432.19 L50.9,431.92 L51.28,431.64 L51.68,431.36 L52.1,431.07 L52.54,430.77 L53,430.46 L53.48,430.14 L54,429.8 L54.55,429.44 L55.15,429.06 L55.8,428.64 L56.51,428.18 L57.3,427.67 L58.2,427.08 L59.22,426.4 L60.43,425.56 L61.86,424.58 L63.41,423.71 L64.92,423.19 L66.36,422.99 L67.57,423.24 L68.35,424.06 L68.69,425.31 L68.72,426.75 L68.5,428.26 L68.12,429.74 L67.65,431.13 L67.16,432.4 L66.66,433.55 L66.17,434.58 L65.71,435.51 L65.27,436.34 L64.86,437.09 L64.47,437.77 L64.1,438.4 L63.75,438.98 L63.41,439.51 L63.08,440 L62.78,440.46 L62.48,440.89 L62.19,441.3 L61.91,441.68 L61.65,442.05 L61.39,442.4 L61.13,442.74 L60.88,443.06 L60.64,443.38 L60.4,443.69 L60.15,444 L59.91,444.3 L59.67,444.6 L59.43,444.89 L59.19,445.19 L58.94,445.48 L58.68,445.78 L58.42,446.09 L58.15,446.39 L57.87,446.71 L57.58,447.03 L57.28,447.36 L56.96,447.7 L56.62,448.05 L56.26,448.42 L55.87,448.81 L55.46,449.22 L55.01,449.64 L54.53,450.09 L54,450.56 L53.42,451.05 L52.79,451.55 L52.09,452.04 L51.34,452.51 L50.53,452.94 L49.68,453.28 L48.81,453.52 L47.92,453.65 L47.02,453.69 L46.12,453.65 L45.2,453.54 L44.29,453.36 L43.38,453.11 L42.5,452.77 L41.68,452.32 L40.95,451.75 L40.3,451.09 L39.73,450.37 L39.24,449.59 L38.83,448.76 L38.53,447.88 L38.35,446.97 L38.29,446.03 L38.38,445.07 L38.63,444.12 L39.01,443.19 L39.51,442.3 L40.08,441.46 L40.69,440.7Z" fill="none" stroke="#161616" stroke-width="0.95"/>
<path d="M43.31,440 L43.84,439.47 L44.34,438.98 L44.81,438.54 L45.25,438.14 L45.67,437.77 L46.06,437.42 L46.43,437.1 L46.79,436.79 L47.12,436.5 L47.45,436.22 L47.76,435.95 L48.06,435.69 L48.36,435.44 L48.66,435.19 L48.95,434.95 L49.25,434.72 L49.54,434.49 L49.83,434.26 L50.12,434.03 L50.42,433.8 L50.72,433.57 L51.03,433.33 L51.35,433.09 L51.68,432.85 L52.02,432.59 L52.37,432.33 L52.74,432.06 L53.13,431.77 L53.55,431.46 L54,431.14 L54.48,430.79 L55.01,430.41 L55.58,430 L56.22,429.54 L56.94,429.01 L57.77,428.41 L58.72,427.71 L59.83,426.92 L61.11,426.05 L62.53,425.22 L63.98,424.63 L65.37,424.36 L66.51,424.55 L67.16,425.38 L67.3,426.7 L67.15,428.16 L66.83,429.61 L66.4,430.99 L65.91,432.27 L65.41,433.42 L64.92,434.44 L64.46,435.34 L64.03,436.15 L63.62,436.87 L63.24,437.52 L62.88,438.11 L62.53,438.65 L62.21,439.14 L61.9,439.59 L61.6,440 L61.31,440.38 L61.04,440.74 L60.78,441.07 L60.53,441.39 L60.29,441.68 L60.05,441.97 L59.83,442.24 L59.61,442.5 L59.39,442.75 L59.18,442.99 L58.97,443.23 L58.76,443.46 L58.55,443.69 L58.35,443.91 L58.14,444.14 L57.93,444.36 L57.71,444.59 L57.5,444.81 L57.27,445.04 L57.04,445.27 L56.81,445.51 L56.56,445.75 L56.31,446.01 L56.04,446.27 L55.75,446.54 L55.45,446.83 L55.13,447.13 L54.78,447.46 L54.41,447.8 L54,448.17 L53.55,448.56 L53.06,448.98 L52.51,449.41 L51.91,449.85 L51.25,450.28 L50.53,450.68 L49.77,451.01 L48.99,451.25 L48.18,451.42 L47.36,451.51 L46.52,451.53 L45.66,451.47 L44.81,451.35 L43.98,451.13 L43.19,450.81 L42.5,450.36 L41.89,449.8 L41.38,449.17 L40.95,448.48 L40.62,447.72 L40.42,446.92 L40.34,446.08 L40.37,445.23 L40.53,444.38 L40.81,443.53 L41.19,442.72 L41.66,441.95 L42.2,441.24 L42.76,440.59Z" fill="#141414" stroke="#141414" stroke-width="0.95"/>
<path d="M44.88,440 L45.33,439.55 L45.76,439.13 L46.16,438.76 L46.54,438.41 L46.89,438.1 L47.23,437.8 L47.54,437.52 L47.85,437.26 L48.13,437.01 L48.41,436.77 L48.67,436.54 L48.93,436.32 L49.19,436.11 L49.44,435.9 L49.69,435.69 L49.94,435.49 L50.19,435.3 L50.44,435.1 L50.69,434.9 L50.94,434.71 L51.2,434.51 L51.47,434.31 L51.74,434.11 L52.02,433.89 L52.31,433.68 L52.61,433.45 L52.93,433.22 L53.26,432.97 L53.62,432.72 L54,432.44 L54.41,432.14 L54.86,431.82 L55.35,431.46 L55.9,431.07 L56.51,430.62 L57.21,430.11 L58.03,429.51 L58.97,428.83 L60.07,428.09 L61.28,427.39 L62.51,426.89 L63.7,426.65 L64.68,426.81 L65.23,427.52 L65.35,428.65 L65.22,429.9 L64.95,431.14 L64.58,432.31 L64.16,433.4 L63.73,434.38 L63.32,435.25 L62.93,436.03 L62.56,436.72 L62.21,437.33 L61.88,437.89 L61.58,438.39 L61.28,438.85 L61.01,439.26 L60.74,439.65 L60.48,440 L60.24,440.33 L60.01,440.63 L59.79,440.92 L59.57,441.18 L59.37,441.44 L59.17,441.68 L58.97,441.91 L58.78,442.13 L58.6,442.34 L58.42,442.55 L58.24,442.75 L58.06,442.95 L57.88,443.15 L57.71,443.34 L57.53,443.53 L57.35,443.72 L57.17,443.91 L56.98,444.11 L56.79,444.3 L56.6,444.5 L56.4,444.7 L56.19,444.91 L55.97,445.13 L55.74,445.35 L55.5,445.58 L55.24,445.83 L54.96,446.09 L54.67,446.36 L54.35,446.66 L54,446.97 L53.62,447.31 L53.19,447.66 L52.73,448.03 L52.21,448.4 L51.65,448.77 L51.04,449.11 L50.39,449.39 L49.72,449.6 L49.04,449.74 L48.33,449.82 L47.61,449.83 L46.89,449.79 L46.16,449.68 L45.45,449.5 L44.78,449.22 L44.18,448.84 L43.67,448.37 L43.23,447.83 L42.86,447.23 L42.59,446.59 L42.41,445.9 L42.34,445.19 L42.37,444.46 L42.51,443.73 L42.74,443.02 L43.07,442.32 L43.47,441.67 L43.93,441.06 L44.41,440.5Z" fill="none" stroke="#fff" stroke-opacity="0.15" stroke-width="0.3"/>
<path d="M46.45,440 L46.82,439.62 L47.17,439.28 L47.51,438.97 L47.82,438.69 L48.11,438.42 L48.39,438.18 L48.65,437.95 L48.9,437.73 L49.14,437.52 L49.37,437.33 L49.59,437.14 L49.81,436.95 L50.02,436.78 L50.23,436.6 L50.43,436.43 L50.64,436.27 L50.85,436.1 L51.05,435.94 L51.26,435.78 L51.47,435.62 L51.68,435.46 L51.9,435.29 L52.13,435.12 L52.36,434.94 L52.6,434.77 L52.85,434.58 L53.11,434.39 L53.39,434.18 L53.68,433.97 L54,433.74 L54.34,433.49 L54.71,433.23 L55.12,432.93 L55.57,432.61 L56.08,432.24 L56.66,431.81 L57.33,431.32 L58.12,430.75 L59.02,430.14 L60.03,429.55 L61.05,429.14 L62.03,428.94 L62.84,429.08 L63.3,429.67 L63.4,430.6 L63.29,431.63 L63.07,432.66 L62.76,433.63 L62.41,434.54 L62.06,435.35 L61.72,436.07 L61.39,436.71 L61.09,437.28 L60.8,437.79 L60.53,438.25 L60.27,438.67 L60.03,439.04 L59.8,439.39 L59.58,439.71 L59.37,440 L59.17,440.27 L58.98,440.52 L58.79,440.76 L58.61,440.98 L58.44,441.19 L58.28,441.39 L58.12,441.58 L57.96,441.76 L57.81,441.94 L57.66,442.11 L57.51,442.28 L57.36,442.44 L57.22,442.61 L57.07,442.76 L56.92,442.92 L56.77,443.08 L56.62,443.24 L56.47,443.4 L56.31,443.56 L56.15,443.73 L55.98,443.89 L55.81,444.07 L55.63,444.24 L55.44,444.43 L55.24,444.62 L55.03,444.82 L54.8,445.04 L54.55,445.27 L54.29,445.51 L54,445.77 L53.68,446.05 L53.33,446.34 L52.95,446.65 L52.52,446.96 L52.05,447.26 L51.55,447.55 L51.01,447.78 L50.46,447.95 L49.89,448.07 L49.31,448.13 L48.71,448.14 L48.11,448.11 L47.51,448.02 L46.92,447.87 L46.36,447.64 L45.87,447.32 L45.44,446.93 L45.08,446.48 L44.78,445.99 L44.55,445.46 L44.4,444.89 L44.35,444.3 L44.37,443.7 L44.48,443.09 L44.68,442.5 L44.95,441.92 L45.28,441.38 L45.66,440.88 L46.06,440.42Z" fill="none" stroke="#fff" stroke-opacity="0.15" stroke-width="0.3"/>
<path d="M48.01,440 L48.31,439.7 L48.59,439.43 L48.85,439.19 L49.1,438.96 L49.33,438.75 L49.55,438.56 L49.76,438.37 L49.96,438.2 L50.15,438.04 L50.33,437.88 L50.51,437.73 L50.68,437.58 L50.84,437.44 L51.01,437.31 L51.17,437.17 L51.34,437.04 L51.5,436.91 L51.66,436.78 L51.83,436.66 L52,436.53 L52.16,436.4 L52.34,436.27 L52.51,436.13 L52.7,435.99 L52.89,435.85 L53.09,435.7 L53.3,435.55 L53.52,435.39 L53.75,435.22 L54,435.04 L54.27,434.84 L54.56,434.63 L54.89,434.4 L55.25,434.14 L55.65,433.85 L56.11,433.51 L56.64,433.12 L57.26,432.67 L57.98,432.19 L58.78,431.72 L59.59,431.4 L60.37,431.24 L61.01,431.35 L61.37,431.81 L61.45,432.55 L61.36,433.37 L61.18,434.18 L60.94,434.96 L60.67,435.67 L60.39,436.31 L60.11,436.88 L59.86,437.39 L59.61,437.84 L59.39,438.25 L59.17,438.61 L58.97,438.94 L58.78,439.24 L58.6,439.52 L58.42,439.77 L58.25,440 L58.1,440.21 L57.94,440.41 L57.8,440.6 L57.66,440.78 L57.52,440.94 L57.39,441.1 L57.26,441.25 L57.14,441.4 L57.02,441.54 L56.9,441.67 L56.78,441.81 L56.66,441.94 L56.55,442.06 L56.43,442.19 L56.32,442.32 L56.2,442.44 L56.08,442.57 L55.96,442.69 L55.83,442.82 L55.7,442.95 L55.57,443.09 L55.43,443.22 L55.29,443.36 L55.14,443.51 L54.98,443.66 L54.81,443.82 L54.63,443.99 L54.44,444.18 L54.23,444.37 L54,444.57 L53.75,444.79 L53.47,445.03 L53.17,445.27 L52.83,445.51 L52.46,445.76 L52.06,445.98 L51.63,446.17 L51.19,446.3 L50.74,446.39 L50.28,446.44 L49.81,446.45 L49.33,446.43 L48.85,446.35 L48.39,446.23 L47.95,446.05 L47.56,445.8 L47.22,445.49 L46.93,445.14 L46.69,444.75 L46.51,444.32 L46.4,443.87 L46.35,443.41 L46.37,442.93 L46.46,442.45 L46.61,441.98 L46.83,441.52 L47.09,441.09 L47.39,440.69 L47.71,440.33Z" fill="none" stroke="#fff" stroke-opacity="0.15" stroke-width="0.3"/>
<path d="M49.58,440 L49.8,439.78 L50.01,439.58 L50.2,439.4 L50.39,439.23 L50.56,439.08 L50.72,438.93 L50.87,438.8 L51.02,438.67 L51.16,438.55 L51.29,438.44 L51.42,438.32 L51.55,438.22 L51.67,438.11 L51.79,438.01 L51.91,437.91 L52.03,437.82 L52.15,437.72 L52.28,437.63 L52.4,437.53 L52.52,437.44 L52.65,437.34 L52.77,437.24 L52.9,437.14 L53.04,437.04 L53.18,436.94 L53.33,436.83 L53.48,436.72 L53.64,436.6 L53.82,436.47 L54,436.34 L54.2,436.19 L54.42,436.04 L54.65,435.87 L54.92,435.67 L55.22,435.46 L55.56,435.21 L55.95,434.92 L56.41,434.59 L56.94,434.23 L57.53,433.89 L58.12,433.65 L58.7,433.53 L59.17,433.61 L59.44,433.96 L59.5,434.5 L59.44,435.11 L59.3,435.71 L59.13,436.28 L58.92,436.8 L58.71,437.28 L58.51,437.7 L58.32,438.08 L58.14,438.41 L57.98,438.71 L57.82,438.98 L57.67,439.22 L57.53,439.44 L57.39,439.64 L57.26,439.83 L57.14,440 L57.02,440.16 L56.91,440.31 L56.8,440.44 L56.7,440.57 L56.6,440.7 L56.5,440.81 L56.41,440.92 L56.32,441.03 L56.23,441.14 L56.14,441.24 L56.05,441.33 L55.97,441.43 L55.88,441.52 L55.8,441.62 L55.71,441.71 L55.62,441.8 L55.53,441.9 L55.44,441.99 L55.35,442.08 L55.26,442.18 L55.16,442.28 L55.06,442.38 L54.95,442.48 L54.84,442.59 L54.72,442.7 L54.6,442.82 L54.47,442.95 L54.32,443.08 L54.17,443.22 L54,443.38 L53.81,443.54 L53.61,443.71 L53.38,443.89 L53.13,444.07 L52.86,444.25 L52.57,444.41 L52.25,444.55 L51.93,444.65 L51.6,444.72 L51.25,444.76 L50.91,444.76 L50.55,444.74 L50.2,444.69 L49.86,444.6 L49.53,444.47 L49.25,444.28 L49,444.05 L48.78,443.79 L48.61,443.5 L48.47,443.19 L48.39,442.86 L48.35,442.51 L48.37,442.16 L48.43,441.81 L48.55,441.46 L48.71,441.13 L48.9,440.81 L49.12,440.51 L49.35,440.24Z" fill="none" stroke="#fff" stroke-opacity="0.15" stroke-width="0.3"/>
<path d="M51.15,440 L51.29,439.86 L51.42,439.73 L51.55,439.61 L51.67,439.5 L51.78,439.4 L51.88,439.31 L51.98,439.23 L52.08,439.14 L52.17,439.07 L52.25,438.99 L52.34,438.92 L52.42,438.85 L52.5,438.78 L52.58,438.72 L52.65,438.65 L52.73,438.59 L52.81,438.53 L52.89,438.47 L52.97,438.41 L53.05,438.35 L53.13,438.28 L53.21,438.22 L53.29,438.16 L53.38,438.09 L53.47,438.02 L53.57,437.95 L53.66,437.88 L53.77,437.8 L53.88,437.72 L54,437.64 L54.13,437.54 L54.27,437.44 L54.42,437.33 L54.59,437.21 L54.79,437.07 L55,436.91 L55.26,436.72 L55.55,436.51 L55.9,436.28 L56.28,436.06 L56.66,435.9 L57.03,435.83 L57.34,435.88 L57.51,436.1 L57.55,436.45 L57.51,436.84 L57.42,437.23 L57.31,437.6 L57.18,437.94 L57.04,438.24 L56.91,438.52 L56.79,438.76 L56.67,438.97 L56.57,439.17 L56.46,439.34 L56.37,439.5 L56.28,439.64 L56.19,439.77 L56.11,439.89 L56.03,440 L55.95,440.1 L55.88,440.2 L55.81,440.29 L55.74,440.37 L55.68,440.45 L55.61,440.52 L55.55,440.6 L55.5,440.67 L55.44,440.73 L55.38,440.8 L55.32,440.86 L55.27,440.92 L55.21,440.98 L55.16,441.04 L55.1,441.1 L55.05,441.16 L54.99,441.22 L54.93,441.28 L54.87,441.34 L54.81,441.41 L54.75,441.47 L54.68,441.53 L54.61,441.6 L54.54,441.67 L54.47,441.74 L54.39,441.82 L54.3,441.9 L54.21,441.99 L54.11,442.08 L54,442.18 L53.88,442.28 L53.75,442.39 L53.6,442.51 L53.44,442.63 L53.27,442.74 L53.07,442.85 L52.87,442.94 L52.66,443 L52.45,443.04 L52.23,443.07 L52,443.07 L51.78,443.06 L51.55,443.03 L51.33,442.97 L51.12,442.88 L50.93,442.76 L50.77,442.61 L50.63,442.45 L50.52,442.26 L50.43,442.06 L50.38,441.84 L50.36,441.62 L50.37,441.39 L50.41,441.17 L50.48,440.94 L50.58,440.73 L50.71,440.52 L50.85,440.33 L51,440.16Z" fill="none" stroke="#fff" stroke-opacity="0.15" stroke-width="0.3"/>
<circle cx="63" cy="428" r="0.45" fill="#bbb"/>
<circle cx="60" cy="431" r="0.5" fill="#bbb"/>
<circle cx="57" cy="435" r="0.5" fill="#bbb"/>
<circle cx="53.5" cy="439" r="0.5" fill="#bbb"/>
<circle cx="50" cy="443" r="0.5" fill="#bbb"/>
<path d="M158.82,439 L159.09,438.22 L159.38,437.46 L159.69,436.73 L160,436.02 L160.32,435.33 L160.64,434.66 L160.95,433.99 L161.25,433.32 L161.55,432.66 L161.84,431.98 L162.12,431.29 L162.41,430.58 L162.71,429.86 L163.02,429.12 L163.34,428.34 L163.68,427.54 L164.04,426.7 L164.42,425.81 L164.83,424.87 L165.27,423.88 L165.76,422.82 L166.28,421.66 L166.86,420.4 L167.51,419.04 L168.27,417.6 L169.14,416.14 L170.15,414.67 L171.29,413.18 L172.57,411.65 L174,410.1 L175.6,408.54 L177.36,407.07 L179.24,405.94 L181.18,405.24 L183.1,405.03 L184.87,405.55 L186.35,406.82 L187.61,408.43 L188.71,410.14 L189.64,411.91 L190.44,413.69 L191.1,415.46 L191.68,417.17 L192.08,418.92 L192.21,420.79 L192.05,422.75 L191.71,424.66 L191.3,426.43 L190.86,428.05 L190.42,429.52 L189.99,430.85 L189.57,432.07 L189.15,433.18 L188.74,434.21 L188.34,435.16 L187.94,436.04 L187.54,436.86 L187.14,437.62 L186.75,438.33 L186.37,439 L185.99,439.63 L185.63,440.22 L185.27,440.79 L184.93,441.32 L184.59,441.84 L184.25,442.33 L183.92,442.81 L183.59,443.27 L183.27,443.72 L182.94,444.16 L182.61,444.59 L182.28,445.01 L181.94,445.43 L181.6,445.84 L181.25,446.25 L180.9,446.66 L180.53,447.06 L180.15,447.46 L179.75,447.86 L179.34,448.25 L178.91,448.64 L178.47,449.03 L178,449.43 L177.52,449.82 L177.01,450.22 L176.47,450.62 L175.91,451.03 L175.31,451.44 L174.67,451.85 L174,452.27 L173.28,452.69 L172.52,453.11 L171.7,453.52 L170.83,453.91 L169.91,454.25 L168.96,454.51 L167.98,454.67 L167,454.71 L166.04,454.63 L165.08,454.44 L164.15,454.17 L163.22,453.83 L162.32,453.42 L161.45,452.94 L160.62,452.38 L159.88,451.71 L159.26,450.93 L158.77,450.07 L158.41,449.13 L158.15,448.15 L157.98,447.16 L157.9,446.17 L157.88,445.19 L157.92,444.23 L158,443.29 L158.11,442.38 L158.24,441.5 L158.41,440.64 L158.6,439.81Z" fill="none" stroke="#161616" stroke-width="0.95"/>
<path d="M159.72,439 L159.97,438.26 L160.24,437.55 L160.53,436.87 L160.83,436.2 L161.13,435.55 L161.43,434.92 L161.73,434.29 L162.03,433.67 L162.32,433.05 L162.62,432.43 L162.91,431.8 L163.22,431.17 L163.53,430.52 L163.86,429.87 L164.2,429.2 L164.55,428.51 L164.93,427.79 L165.32,427.05 L165.74,426.28 L166.19,425.47 L166.67,424.62 L167.19,423.7 L167.75,422.72 L168.37,421.67 L169.06,420.57 L169.85,419.46 L170.73,418.36 L171.71,417.24 L172.8,416.11 L174,414.96 L175.32,413.82 L176.76,412.74 L178.29,411.9 L179.87,411.37 L181.45,411.19 L182.93,411.53 L184.21,412.4 L185.34,413.53 L186.36,414.74 L187.26,416.03 L188.06,417.35 L188.75,418.7 L189.36,420.04 L189.82,421.43 L190.05,422.95 L190.05,424.55 L189.9,426.13 L189.65,427.63 L189.36,429.02 L189.06,430.31 L188.74,431.49 L188.42,432.58 L188.09,433.59 L187.76,434.53 L187.43,435.4 L187.09,436.22 L186.75,436.98 L186.4,437.7 L186.06,438.37 L185.72,439 L185.38,439.6 L185.05,440.16 L184.72,440.7 L184.41,441.21 L184.09,441.7 L183.78,442.18 L183.47,442.64 L183.16,443.08 L182.86,443.51 L182.55,443.94 L182.24,444.35 L181.92,444.76 L181.61,445.16 L181.28,445.56 L180.95,445.95 L180.6,446.34 L180.25,446.72 L179.89,447.1 L179.51,447.48 L179.11,447.85 L178.7,448.23 L178.27,448.6 L177.83,448.97 L177.36,449.34 L176.87,449.72 L176.36,450.09 L175.82,450.47 L175.24,450.84 L174.64,451.22 L174,451.6 L173.32,451.98 L172.6,452.35 L171.83,452.71 L171.01,453.05 L170.16,453.34 L169.26,453.57 L168.35,453.72 L167.42,453.78 L166.49,453.74 L165.57,453.6 L164.66,453.39 L163.76,453.1 L162.88,452.73 L162.04,452.28 L161.25,451.75 L160.54,451.12 L159.95,450.38 L159.48,449.55 L159.14,448.65 L158.92,447.71 L158.79,446.75 L158.73,445.8 L158.74,444.86 L158.79,443.94 L158.88,443.05 L159,442.19 L159.14,441.35 L159.31,440.54 L159.5,439.76Z" fill="none" stroke="#161616" stroke-width="0.95"/>
<path d="M160.46,439 L160.7,438.3 L160.96,437.63 L161.23,436.98 L161.51,436.35 L161.8,435.73 L162.09,435.13 L162.38,434.54 L162.67,433.96 L162.97,433.38 L163.27,432.8 L163.57,432.23 L163.89,431.65 L164.21,431.08 L164.56,430.5 L164.91,429.91 L165.28,429.31 L165.67,428.71 L166.07,428.09 L166.5,427.45 L166.95,426.79 L167.43,426.12 L167.95,425.4 L168.49,424.65 L169.08,423.86 L169.73,423.05 L170.44,422.23 L171.22,421.43 L172.07,420.63 L172.99,419.82 L174,419.02 L175.09,418.22 L176.26,417.46 L177.51,416.87 L178.79,416.48 L180.07,416.33 L181.31,416.51 L182.42,417.06 L183.45,417.78 L184.4,418.58 L185.28,419.46 L186.08,420.41 L186.79,421.4 L187.42,422.43 L187.93,423.53 L188.26,424.74 L188.39,426.04 L188.38,427.35 L188.28,428.63 L188.12,429.83 L187.92,430.96 L187.7,432.02 L187.46,433.01 L187.21,433.93 L186.95,434.79 L186.67,435.6 L186.39,436.37 L186.09,437.08 L185.79,437.76 L185.48,438.4 L185.17,439 L184.87,439.57 L184.57,440.11 L184.27,440.63 L183.97,441.12 L183.68,441.59 L183.39,442.05 L183.1,442.49 L182.81,442.92 L182.52,443.34 L182.22,443.75 L181.93,444.15 L181.63,444.54 L181.32,444.93 L181.01,445.31 L180.69,445.69 L180.36,446.07 L180.02,446.44 L179.67,446.8 L179.3,447.17 L178.92,447.53 L178.53,447.88 L178.11,448.24 L177.68,448.59 L177.23,448.94 L176.76,449.3 L176.26,449.65 L175.74,450 L175.19,450.35 L174.61,450.7 L174,451.05 L173.35,451.39 L172.66,451.72 L171.94,452.04 L171.17,452.33 L170.36,452.59 L169.52,452.79 L168.65,452.94 L167.76,453.01 L166.87,453 L165.97,452.91 L165.08,452.74 L164.2,452.48 L163.35,452.15 L162.53,451.73 L161.77,451.23 L161.09,450.62 L160.52,449.92 L160.07,449.12 L159.76,448.25 L159.56,447.33 L159.46,446.41 L159.43,445.49 L159.45,444.58 L159.52,443.71 L159.62,442.85 L159.74,442.03 L159.89,441.23 L160.06,440.47 L160.25,439.72Z" fill="none" stroke="#161616" stroke-width="0.95"/>
<path d="M160.91,439 L161.15,438.33 L161.39,437.68 L161.66,437.04 L161.92,436.43 L162.2,435.84 L162.48,435.26 L162.77,434.69 L163.06,434.13 L163.36,433.58 L163.66,433.03 L163.97,432.48 L164.29,431.94 L164.62,431.41 L164.97,430.87 L165.34,430.34 L165.71,429.8 L166.11,429.26 L166.52,428.71 L166.96,428.15 L167.41,427.59 L167.89,427.01 L168.4,426.42 L168.94,425.81 L169.51,425.17 L170.12,424.53 L170.79,423.9 L171.51,423.27 L172.28,422.66 L173.11,422.05 L174,421.45 L174.95,420.85 L175.97,420.3 L177.03,419.85 L178.13,419.55 L179.25,419.41 L180.33,419.5 L181.35,419.85 L182.31,420.33 L183.23,420.88 L184.09,421.52 L184.89,422.24 L185.61,423.02 L186.26,423.86 L186.8,424.79 L187.18,425.82 L187.39,426.94 L187.48,428.09 L187.45,429.22 L187.37,430.32 L187.24,431.36 L187.07,432.34 L186.89,433.26 L186.68,434.13 L186.45,434.95 L186.22,435.73 L185.96,436.46 L185.7,437.15 L185.42,437.8 L185.13,438.42 L184.85,439 L184.56,439.55 L184.28,440.08 L183.99,440.58 L183.71,441.06 L183.43,441.53 L183.15,441.97 L182.87,442.41 L182.59,442.83 L182.31,443.24 L182.03,443.64 L181.74,444.03 L181.45,444.41 L181.15,444.79 L180.85,445.17 L180.54,445.54 L180.22,445.91 L179.88,446.27 L179.54,446.62 L179.18,446.98 L178.81,447.33 L178.42,447.67 L178.02,448.02 L177.59,448.36 L177.15,448.7 L176.69,449.04 L176.21,449.38 L175.7,449.72 L175.16,450.06 L174.6,450.39 L174,450.71 L173.37,451.03 L172.7,451.34 L172,451.63 L171.26,451.9 L170.48,452.13 L169.67,452.33 L168.83,452.46 L167.97,452.54 L167.1,452.55 L166.21,452.49 L165.33,452.34 L164.47,452.12 L163.63,451.8 L162.83,451.4 L162.09,450.91 L161.42,450.32 L160.86,449.64 L160.43,448.86 L160.13,448.01 L159.95,447.11 L159.86,446.2 L159.84,445.3 L159.88,444.42 L159.95,443.56 L160.06,442.74 L160.19,441.94 L160.34,441.16 L160.51,440.42 L160.7,439.7Z" fill="none" stroke="#161616" stroke-width="0.95"/>
<path d="M161.24,439 L161.47,438.34 L161.71,437.71 L161.96,437.09 L162.23,436.5 L162.5,435.92 L162.77,435.35 L163.05,434.8 L163.34,434.26 L163.64,433.72 L163.94,433.19 L164.26,432.67 L164.58,432.16 L164.92,431.65 L165.28,431.15 L165.65,430.65 L166.03,430.15 L166.43,429.66 L166.85,429.16 L167.29,428.67 L167.75,428.17 L168.23,427.67 L168.73,427.17 L169.26,426.66 L169.82,426.14 L170.42,425.62 L171.05,425.12 L171.72,424.63 L172.44,424.15 L173.2,423.69 L174,423.23 L174.85,422.79 L175.75,422.38 L176.69,422.04 L177.66,421.8 L178.64,421.67 L179.62,421.7 L180.57,421.9 L181.48,422.2 L182.37,422.57 L183.22,423.03 L184.01,423.58 L184.75,424.21 L185.41,424.91 L185.96,425.71 L186.39,426.61 L186.66,427.6 L186.81,428.63 L186.85,429.66 L186.82,430.68 L186.73,431.65 L186.61,432.57 L186.46,433.45 L186.29,434.28 L186.1,435.07 L185.88,435.82 L185.65,436.52 L185.41,437.19 L185.15,437.83 L184.88,438.43 L184.61,439 L184.33,439.54 L184.06,440.06 L183.79,440.55 L183.52,441.02 L183.25,441.48 L182.98,441.92 L182.71,442.34 L182.44,442.76 L182.16,443.16 L181.89,443.55 L181.61,443.94 L181.32,444.32 L181.03,444.69 L180.73,445.06 L180.43,445.43 L180.11,445.79 L179.78,446.14 L179.44,446.49 L179.09,446.84 L178.72,447.18 L178.34,447.52 L177.94,447.86 L177.53,448.2 L177.1,448.53 L176.64,448.86 L176.17,449.19 L175.67,449.51 L175.14,449.84 L174.58,450.16 L174,450.47 L173.38,450.77 L172.73,451.07 L172.05,451.34 L171.32,451.59 L170.57,451.8 L169.78,451.98 L168.97,452.12 L168.12,452.2 L167.26,452.22 L166.39,452.18 L165.52,452.06 L164.67,451.85 L163.84,451.55 L163.05,451.16 L162.32,450.68 L161.66,450.11 L161.11,449.43 L160.69,448.67 L160.4,447.83 L160.23,446.95 L160.16,446.05 L160.15,445.17 L160.19,444.3 L160.27,443.46 L160.38,442.65 L160.52,441.87 L160.67,441.11 L160.84,440.38 L161.03,439.68Z" fill="none" stroke="#161616" stroke-width="0.95"/>
<path d="M161.51,439 L161.73,438.36 L161.97,437.74 L162.22,437.13 L162.47,436.55 L162.74,435.98 L163.01,435.43 L163.29,434.89 L163.58,434.36 L163.87,433.84 L164.18,433.33 L164.49,432.83 L164.82,432.33 L165.17,431.85 L165.53,431.37 L165.91,430.91 L166.3,430.44 L166.7,429.99 L167.12,429.54 L167.56,429.09 L168.02,428.65 L168.5,428.21 L169,427.78 L169.53,427.35 L170.08,426.93 L170.65,426.51 L171.26,426.11 L171.9,425.73 L172.57,425.37 L173.27,425.02 L174,424.69 L174.77,424.37 L175.57,424.08 L176.4,423.83 L177.26,423.64 L178.15,423.52 L179.04,423.49 L179.92,423.57 L180.8,423.72 L181.67,423.95 L182.5,424.27 L183.3,424.68 L184.04,425.18 L184.71,425.77 L185.28,426.47 L185.74,427.26 L186.06,428.14 L186.26,429.07 L186.36,430.02 L186.37,430.97 L186.33,431.88 L186.24,432.76 L186.12,433.6 L185.97,434.4 L185.8,435.17 L185.61,435.89 L185.4,436.58 L185.17,437.23 L184.93,437.85 L184.67,438.44 L184.41,439 L184.15,439.53 L183.89,440.04 L183.63,440.52 L183.36,440.99 L183.1,441.44 L182.83,441.87 L182.57,442.29 L182.31,442.7 L182.04,443.1 L181.77,443.49 L181.49,443.87 L181.22,444.24 L180.93,444.61 L180.64,444.98 L180.34,445.34 L180.02,445.69 L179.7,446.04 L179.37,446.39 L179.02,446.73 L178.66,447.06 L178.28,447.4 L177.89,447.73 L177.48,448.06 L177.05,448.38 L176.6,448.71 L176.13,449.03 L175.64,449.35 L175.12,449.66 L174.57,449.97 L174,450.27 L173.39,450.56 L172.76,450.84 L172.08,451.1 L171.38,451.33 L170.64,451.53 L169.87,451.7 L169.07,451.83 L168.25,451.92 L167.4,451.95 L166.54,451.93 L165.67,451.82 L164.83,451.63 L164.01,451.34 L163.23,450.96 L162.51,450.49 L161.86,449.93 L161.32,449.27 L160.9,448.52 L160.62,447.69 L160.46,446.81 L160.4,445.93 L160.4,445.05 L160.45,444.2 L160.53,443.38 L160.65,442.58 L160.78,441.81 L160.94,441.07 L161.11,440.35 L161.3,439.67Z" fill="none" stroke="#161616" stroke-width="0.95"/>
<path d="M161.81,439 L162.03,438.37 L162.26,437.77 L162.5,437.18 L162.75,436.61 L163.01,436.05 L163.27,435.51 L163.55,434.99 L163.83,434.47 L164.13,433.97 L164.44,433.48 L164.76,433 L165.09,432.53 L165.44,432.07 L165.81,431.63 L166.19,431.19 L166.59,430.77 L167,430.35 L167.42,429.95 L167.87,429.56 L168.33,429.18 L168.81,428.81 L169.31,428.46 L169.83,428.12 L170.36,427.8 L170.92,427.5 L171.5,427.22 L172.09,426.96 L172.71,426.72 L173.35,426.51 L174,426.31 L174.67,426.13 L175.37,425.97 L176.09,425.82 L176.83,425.68 L177.6,425.57 L178.39,425.49 L179.21,425.43 L180.04,425.42 L180.89,425.49 L181.71,425.64 L182.51,425.9 L183.26,426.26 L183.94,426.73 L184.53,427.31 L185.02,427.98 L185.4,428.74 L185.66,429.56 L185.81,430.42 L185.87,431.29 L185.87,432.15 L185.82,432.98 L185.74,433.77 L185.62,434.54 L185.47,435.27 L185.31,435.97 L185.12,436.64 L184.91,437.27 L184.68,437.88 L184.44,438.45 L184.2,439 L183.94,439.52 L183.69,440.02 L183.44,440.5 L183.19,440.95 L182.93,441.39 L182.68,441.82 L182.42,442.23 L182.16,442.63 L181.9,443.03 L181.64,443.41 L181.37,443.79 L181.1,444.16 L180.82,444.52 L180.53,444.88 L180.23,445.23 L179.93,445.58 L179.61,445.93 L179.28,446.27 L178.94,446.6 L178.58,446.93 L178.21,447.26 L177.82,447.58 L177.42,447.91 L177,448.22 L176.56,448.54 L176.09,448.85 L175.61,449.16 L175.1,449.46 L174.56,449.76 L174,450.05 L173.41,450.33 L172.78,450.59 L172.13,450.83 L171.44,451.04 L170.72,451.23 L169.97,451.39 L169.19,451.52 L168.39,451.61 L167.55,451.66 L166.7,451.65 L165.84,451.56 L165.01,451.38 L164.2,451.11 L163.43,450.74 L162.71,450.29 L162.08,449.73 L161.55,449.08 L161.14,448.35 L160.87,447.53 L160.72,446.67 L160.67,445.79 L160.68,444.93 L160.73,444.09 L160.82,443.28 L160.94,442.5 L161.08,441.75 L161.24,441.02 L161.41,440.32 L161.6,439.65Z" fill="#141414" stroke="#141414" stroke-width="0.95"/>
<path d="M163.15,439 L163.34,438.44 L163.55,437.9 L163.76,437.38 L163.99,436.87 L164.22,436.38 L164.45,435.9 L164.7,435.43 L164.95,434.97 L165.22,434.52 L165.49,434.09 L165.77,433.66 L166.07,433.24 L166.38,432.83 L166.71,432.44 L167.05,432.05 L167.4,431.67 L167.77,431.3 L168.15,430.94 L168.54,430.6 L168.95,430.26 L169.38,429.93 L169.82,429.62 L170.28,429.32 L170.76,429.04 L171.26,428.77 L171.77,428.52 L172.3,428.29 L172.85,428.07 L173.42,427.88 L174,427.71 L174.6,427.55 L175.22,427.4 L175.86,427.27 L176.52,427.15 L177.2,427.05 L177.91,426.97 L178.64,426.92 L179.38,426.92 L180.13,426.97 L180.86,427.11 L181.57,427.34 L182.24,427.66 L182.84,428.08 L183.37,428.59 L183.81,429.19 L184.15,429.86 L184.38,430.6 L184.51,431.37 L184.56,432.14 L184.56,432.9 L184.52,433.64 L184.44,434.35 L184.34,435.03 L184.21,435.68 L184.06,436.3 L183.89,436.9 L183.71,437.46 L183.5,438 L183.29,438.51 L183.07,439 L182.85,439.46 L182.63,439.91 L182.4,440.33 L182.18,440.74 L181.95,441.13 L181.72,441.51 L181.5,441.88 L181.27,442.23 L181.03,442.58 L180.8,442.93 L180.56,443.26 L180.32,443.59 L180.07,443.91 L179.81,444.23 L179.55,444.55 L179.28,444.86 L178.99,445.16 L178.7,445.47 L178.39,445.76 L178.08,446.06 L177.75,446.35 L177.4,446.64 L177.04,446.93 L176.67,447.21 L176.28,447.49 L175.86,447.77 L175.43,448.04 L174.98,448.31 L174.5,448.58 L174,448.83 L173.47,449.08 L172.92,449.31 L172.33,449.53 L171.72,449.72 L171.08,449.88 L170.42,450.03 L169.72,450.14 L169,450.22 L168.26,450.26 L167.5,450.26 L166.74,450.18 L165.99,450.02 L165.27,449.78 L164.59,449.45 L163.96,449.04 L163.39,448.55 L162.92,447.97 L162.55,447.32 L162.31,446.59 L162.18,445.82 L162.14,445.05 L162.14,444.28 L162.19,443.53 L162.27,442.81 L162.38,442.11 L162.5,441.44 L162.64,440.8 L162.8,440.18 L162.97,439.58Z" fill="none" stroke="#fff" stroke-opacity="0.15" stroke-width="0.4"/>
<path d="M164.49,439 L164.66,438.51 L164.84,438.04 L165.03,437.58 L165.22,437.13 L165.43,436.7 L165.63,436.28 L165.85,435.87 L166.07,435.47 L166.3,435.08 L166.54,434.69 L166.79,434.32 L167.05,433.95 L167.33,433.6 L167.61,433.25 L167.91,432.91 L168.22,432.58 L168.54,432.25 L168.87,431.94 L169.22,431.63 L169.58,431.34 L169.95,431.05 L170.34,430.78 L170.74,430.52 L171.16,430.27 L171.6,430.03 L172.05,429.81 L172.51,429.61 L172.99,429.43 L173.49,429.26 L174,429.1 L174.53,428.96 L175.07,428.83 L175.63,428.72 L176.21,428.61 L176.81,428.53 L177.43,428.46 L178.06,428.42 L178.71,428.41 L179.37,428.46 L180.02,428.58 L180.64,428.78 L181.22,429.06 L181.75,429.43 L182.21,429.88 L182.6,430.4 L182.89,430.99 L183.09,431.64 L183.21,432.31 L183.26,432.99 L183.26,433.65 L183.22,434.3 L183.15,434.92 L183.06,435.52 L182.95,436.09 L182.82,436.64 L182.67,437.16 L182.51,437.65 L182.33,438.12 L182.14,438.57 L181.95,439 L181.76,439.41 L181.56,439.79 L181.36,440.17 L181.17,440.52 L180.97,440.87 L180.77,441.2 L180.57,441.52 L180.37,441.84 L180.16,442.14 L179.96,442.44 L179.75,442.73 L179.54,443.02 L179.32,443.31 L179.09,443.59 L178.86,443.86 L178.62,444.13 L178.38,444.4 L178.12,444.67 L177.85,444.93 L177.57,445.19 L177.28,445.44 L176.98,445.7 L176.67,445.95 L176.34,446.19 L175.99,446.44 L175.63,446.68 L175.26,446.92 L174.86,447.16 L174.44,447.39 L174,447.62 L173.54,447.83 L173.05,448.04 L172.54,448.23 L172,448.39 L171.44,448.54 L170.86,448.66 L170.25,448.76 L169.62,448.84 L168.97,448.87 L168.3,448.86 L167.64,448.8 L166.98,448.66 L166.35,448.44 L165.75,448.16 L165.2,447.8 L164.7,447.37 L164.29,446.86 L163.97,446.29 L163.75,445.65 L163.64,444.98 L163.6,444.3 L163.61,443.63 L163.65,442.97 L163.72,442.34 L163.81,441.73 L163.92,441.14 L164.05,440.58 L164.18,440.03 L164.33,439.51Z" fill="none" stroke="#fff" stroke-opacity="0.15" stroke-width="0.4"/>
<path d="M165.83,439 L165.98,438.58 L166.13,438.17 L166.29,437.78 L166.46,437.4 L166.63,437.03 L166.81,436.66 L167,436.31 L167.19,435.97 L167.39,435.63 L167.59,435.3 L167.81,434.98 L168.03,434.66 L168.27,434.36 L168.51,434.06 L168.77,433.77 L169.03,433.48 L169.31,433.21 L169.59,432.94 L169.89,432.67 L170.2,432.42 L170.52,432.17 L170.86,431.94 L171.2,431.71 L171.56,431.5 L171.94,431.3 L172.32,431.11 L172.72,430.93 L173.14,430.78 L173.56,430.63 L174,430.5 L174.45,430.38 L174.92,430.27 L175.4,430.17 L175.9,430.08 L176.41,430 L176.94,429.95 L177.49,429.91 L178.05,429.9 L178.61,429.95 L179.17,430.05 L179.7,430.22 L180.2,430.46 L180.66,430.78 L181.05,431.17 L181.38,431.62 L181.64,432.12 L181.81,432.67 L181.91,433.25 L181.95,433.84 L181.95,434.41 L181.92,434.96 L181.86,435.5 L181.78,436.01 L181.69,436.5 L181.57,436.97 L181.45,437.42 L181.31,437.84 L181.16,438.25 L180.99,438.63 L180.83,439 L180.66,439.35 L180.5,439.68 L180.33,440 L180.16,440.31 L179.99,440.6 L179.81,440.89 L179.64,441.17 L179.47,441.44 L179.3,441.7 L179.12,441.95 L178.94,442.21 L178.75,442.45 L178.57,442.7 L178.37,442.94 L178.18,443.18 L177.97,443.41 L177.76,443.64 L177.54,443.87 L177.31,444.09 L177.07,444.31 L176.82,444.53 L176.56,444.75 L176.29,444.97 L176.01,445.18 L175.71,445.39 L175.4,445.6 L175.08,445.81 L174.74,446.01 L174.38,446.21 L174,446.4 L173.6,446.59 L173.18,446.76 L172.74,446.92 L172.29,447.07 L171.8,447.19 L171.3,447.3 L170.78,447.39 L170.24,447.45 L169.68,447.48 L169.11,447.47 L168.53,447.42 L167.97,447.29 L167.43,447.11 L166.92,446.87 L166.44,446.56 L166.01,446.19 L165.66,445.76 L165.38,445.26 L165.2,444.72 L165.1,444.14 L165.07,443.55 L165.07,442.97 L165.11,442.41 L165.17,441.87 L165.25,441.34 L165.34,440.84 L165.45,440.35 L165.57,439.89 L165.69,439.44Z" fill="none" stroke="#fff" stroke-opacity="0.15" stroke-width="0.4"/>
<path d="M167.17,439 L167.3,438.65 L167.42,438.31 L167.56,437.98 L167.7,437.66 L167.84,437.35 L167.99,437.05 L168.15,436.75 L168.31,436.47 L168.47,436.18 L168.65,435.91 L168.82,435.64 L169.01,435.38 L169.21,435.12 L169.41,434.87 L169.63,434.63 L169.85,434.39 L170.08,434.16 L170.32,433.93 L170.57,433.71 L170.82,433.5 L171.09,433.29 L171.37,433.1 L171.66,432.91 L171.96,432.73 L172.27,432.56 L172.6,432.4 L172.93,432.26 L173.28,432.13 L173.63,432 L174,431.89 L174.38,431.79 L174.77,431.7 L175.17,431.62 L175.59,431.54 L176.01,431.48 L176.46,431.43 L176.92,431.4 L177.38,431.4 L177.86,431.43 L178.32,431.52 L178.76,431.66 L179.18,431.87 L179.56,432.13 L179.9,432.45 L180.17,432.83 L180.38,433.25 L180.53,433.71 L180.61,434.2 L180.65,434.68 L180.65,435.16 L180.62,435.63 L180.57,436.07 L180.51,436.5 L180.43,436.91 L180.33,437.3 L180.23,437.68 L180.11,438.03 L179.98,438.37 L179.85,438.69 L179.71,439 L179.57,439.29 L179.43,439.57 L179.29,439.84 L179.15,440.09 L179,440.34 L178.86,440.58 L178.72,440.81 L178.57,441.04 L178.43,441.26 L178.28,441.47 L178.13,441.68 L177.97,441.89 L177.82,442.09 L177.66,442.29 L177.49,442.49 L177.32,442.69 L177.14,442.88 L176.96,443.07 L176.76,443.26 L176.56,443.44 L176.36,443.63 L176.14,443.81 L175.91,443.99 L175.68,444.17 L175.43,444.34 L175.17,444.52 L174.9,444.69 L174.62,444.86 L174.32,445.03 L174,445.19 L173.67,445.34 L173.32,445.49 L172.95,445.62 L172.57,445.74 L172.17,445.85 L171.75,445.94 L171.31,446.01 L170.86,446.06 L170.39,446.09 L169.91,446.08 L169.43,446.03 L168.96,445.93 L168.51,445.78 L168.08,445.58 L167.68,445.32 L167.33,445.01 L167.03,444.65 L166.8,444.23 L166.64,443.78 L166.56,443.29 L166.53,442.8 L166.54,442.32 L166.57,441.85 L166.62,441.4 L166.69,440.96 L166.77,440.54 L166.85,440.13 L166.95,439.74 L167.06,439.36Z" fill="none" stroke="#fff" stroke-opacity="0.15" stroke-width="0.4"/>
<path d="M168.51,439 L168.61,438.72 L168.72,438.44 L168.82,438.18 L168.94,437.92 L169.05,437.67 L169.17,437.43 L169.3,437.19 L169.43,436.96 L169.56,436.74 L169.7,436.52 L169.84,436.3 L169.99,436.09 L170.15,435.88 L170.31,435.68 L170.49,435.49 L170.66,435.29 L170.85,435.11 L171.04,434.93 L171.24,434.75 L171.45,434.58 L171.66,434.42 L171.89,434.26 L172.12,434.11 L172.36,433.96 L172.61,433.83 L172.87,433.7 L173.14,433.58 L173.42,433.48 L173.71,433.38 L174,433.29 L174.3,433.21 L174.62,433.13 L174.94,433.07 L175.27,433.01 L175.62,432.96 L175.98,432.92 L176.34,432.89 L176.72,432.89 L177.1,432.92 L177.47,432.99 L177.83,433.1 L178.17,433.27 L178.47,433.48 L178.74,433.74 L178.96,434.04 L179.13,434.38 L179.25,434.75 L179.31,435.14 L179.34,435.53 L179.34,435.92 L179.32,436.29 L179.28,436.65 L179.23,436.99 L179.16,437.32 L179.09,437.64 L179,437.94 L178.91,438.22 L178.81,438.49 L178.7,438.75 L178.59,439 L178.48,439.23 L178.36,439.46 L178.25,439.67 L178.13,439.88 L178.02,440.08 L177.9,440.27 L177.79,440.45 L177.67,440.64 L177.56,440.81 L177.44,440.98 L177.32,441.15 L177.19,441.32 L177.07,441.48 L176.94,441.65 L176.8,441.8 L176.67,441.96 L176.52,442.12 L176.38,442.27 L176.22,442.42 L176.06,442.57 L175.89,442.72 L175.72,442.86 L175.54,443.01 L175.35,443.15 L175.15,443.29 L174.94,443.43 L174.72,443.57 L174.49,443.71 L174.25,443.84 L174,443.97 L173.73,444.1 L173.45,444.21 L173.16,444.32 L172.85,444.42 L172.53,444.5 L172.19,444.57 L171.84,444.63 L171.47,444.67 L171.1,444.7 L170.71,444.69 L170.33,444.65 L169.95,444.57 L169.59,444.45 L169.24,444.28 L168.92,444.08 L168.64,443.83 L168.4,443.54 L168.21,443.21 L168.09,442.84 L168.02,442.45 L168,442.06 L168.01,441.67 L168.03,441.29 L168.07,440.93 L168.12,440.57 L168.19,440.24 L168.26,439.91 L168.34,439.6 L168.42,439.29Z" fill="none" stroke="#fff" stroke-opacity="0.15" stroke-width="0.4"/>
<path d="M169.85,439 L169.93,438.79 L170.01,438.58 L170.09,438.38 L170.17,438.19 L170.26,438 L170.35,437.82 L170.45,437.64 L170.54,437.46 L170.64,437.29 L170.75,437.12 L170.86,436.96 L170.97,436.8 L171.09,436.64 L171.22,436.49 L171.34,436.34 L171.48,436.2 L171.62,436.06 L171.76,435.92 L171.92,435.79 L172.07,435.66 L172.24,435.54 L172.4,435.42 L172.58,435.3 L172.76,435.19 L172.95,435.09 L173.15,435 L173.35,434.91 L173.56,434.83 L173.78,434.75 L174,434.69 L174.23,434.62 L174.47,434.57 L174.71,434.52 L174.96,434.47 L175.22,434.43 L175.49,434.41 L175.77,434.39 L176.06,434.38 L176.34,434.4 L176.62,434.46 L176.89,434.55 L177.15,434.67 L177.38,434.83 L177.58,435.02 L177.75,435.25 L177.88,435.51 L177.96,435.79 L178.01,436.08 L178.04,436.38 L178.04,436.67 L178.02,436.95 L177.99,437.22 L177.95,437.48 L177.9,437.73 L177.84,437.97 L177.78,438.2 L177.71,438.41 L177.63,438.62 L177.55,438.81 L177.47,439 L177.38,439.18 L177.3,439.35 L177.21,439.51 L177.12,439.66 L177.04,439.81 L176.95,439.96 L176.86,440.1 L176.78,440.24 L176.69,440.37 L176.6,440.5 L176.51,440.63 L176.41,440.75 L176.32,440.88 L176.22,441 L176.12,441.12 L176.02,441.24 L175.91,441.36 L175.79,441.47 L175.68,441.58 L175.56,441.7 L175.43,441.81 L175.3,441.92 L175.16,442.03 L175.02,442.14 L174.87,442.24 L174.71,442.35 L174.55,442.45 L174.37,442.56 L174.19,442.66 L174,442.76 L173.8,442.85 L173.59,442.94 L173.36,443.02 L173.13,443.09 L172.89,443.16 L172.63,443.21 L172.37,443.26 L172.09,443.29 L171.81,443.3 L171.52,443.3 L171.23,443.27 L170.94,443.21 L170.67,443.12 L170.4,442.99 L170.16,442.84 L169.95,442.65 L169.77,442.43 L169.63,442.18 L169.53,441.9 L169.49,441.61 L169.47,441.31 L169.47,441.02 L169.49,440.73 L169.52,440.46 L169.56,440.19 L169.61,439.93 L169.66,439.69 L169.72,439.45 L169.78,439.22Z" fill="none" stroke="#fff" stroke-opacity="0.15" stroke-width="0.4"/>
<path d="M171.2,439 L171.25,438.86 L171.3,438.72 L171.35,438.58 L171.41,438.45 L171.47,438.32 L171.53,438.2 L171.6,438.08 L171.66,437.96 L171.73,437.84 L171.8,437.73 L171.87,437.62 L171.95,437.51 L172.03,437.41 L172.12,437.3 L172.2,437.2 L172.29,437.11 L172.39,437.01 L172.49,436.92 L172.59,436.83 L172.7,436.74 L172.81,436.66 L172.92,436.58 L173.04,436.5 L173.16,436.43 L173.29,436.36 L173.42,436.29 L173.56,436.23 L173.7,436.18 L173.85,436.13 L174,436.08 L174.16,436.04 L174.32,436 L174.48,435.97 L174.65,435.94 L174.83,435.91 L175.01,435.89 L175.2,435.88 L175.39,435.88 L175.58,435.89 L175.77,435.93 L175.96,435.99 L176.13,436.07 L176.29,436.18 L176.42,436.31 L176.53,436.47 L176.62,436.64 L176.68,436.83 L176.72,437.03 L176.73,437.23 L176.73,437.42 L176.72,437.61 L176.7,437.8 L176.67,437.97 L176.64,438.14 L176.6,438.3 L176.56,438.46 L176.51,438.6 L176.46,438.74 L176.4,438.87 L176.34,439 L176.29,439.12 L176.23,439.23 L176.17,439.34 L176.11,439.45 L176.05,439.55 L176,439.65 L175.94,439.74 L175.88,439.84 L175.82,439.93 L175.76,440.01 L175.7,440.1 L175.63,440.19 L175.57,440.27 L175.5,440.35 L175.43,440.43 L175.36,440.51 L175.29,440.59 L175.21,440.67 L175.14,440.75 L175.05,440.82 L174.97,440.9 L174.88,440.97 L174.79,441.05 L174.69,441.12 L174.59,441.19 L174.48,441.27 L174.37,441.34 L174.25,441.41 L174.13,441.47 L174,441.54 L173.86,441.6 L173.72,441.67 L173.57,441.72 L173.41,441.77 L173.25,441.81 L173.07,441.85 L172.89,441.88 L172.71,441.9 L172.52,441.91 L172.32,441.91 L172.12,441.89 L171.93,441.85 L171.74,441.78 L171.57,441.7 L171.4,441.6 L171.26,441.47 L171.14,441.32 L171.04,441.15 L170.98,440.96 L170.95,440.76 L170.93,440.56 L170.94,440.36 L170.95,440.17 L170.97,439.98 L171,439.8 L171.03,439.63 L171.06,439.46 L171.1,439.3 L171.15,439.15Z" fill="none" stroke="#fff" stroke-opacity="0.15" stroke-width="0.4"/>
<circle cx="179" cy="432" r="0.5" fill="#bbb"/>
<circle cx="177" cy="436" r="0.5" fill="#bbb"/>
<circle cx="175" cy="440" r="0.5" fill="#bbb"/>
<circle cx="172" cy="444" r="0.45" fill="#bbb"/>
<path d="M296.84,431 L298.84,429.63 L300.8,428.46 L302.68,427.46 L304.75,426.7 L306.95,426.16 L308.72,425.71 L310.25,425.34 L311.59,425.03 L312.69,424.73 L313.57,424.4 L314.28,424.04 L314.88,423.65 L315.41,423.23 L315.89,422.8 L316.35,422.35 L316.8,421.89 L317.26,421.44 L317.71,420.97 L318.17,420.48 L318.62,419.95 L319.09,419.4 L319.58,418.83 L320.1,418.24 L320.66,417.64 L321.25,417 L321.87,416.28 L322.55,415.5 L323.28,414.68 L324.1,413.85 L325,413.08 L325.97,412.42 L327.01,411.89 L328.1,411.44 L329.24,411.05 L330.43,410.73 L331.68,410.45 L332.98,410.22 L334.34,410.03 L335.76,409.88 L337.24,409.79 L338.76,409.81 L340.26,410 L341.63,410.46 L342.8,411.23 L343.8,412.2 L344.62,413.33 L345.27,414.59 L345.68,415.98 L345.78,417.51 L345.59,419.11 L345.24,420.69 L344.8,422.19 L344.33,423.58 L343.81,424.89 L343.26,426.11 L342.7,427.24 L342.15,428.28 L341.61,429.25 L341.08,430.16 L340.56,431 L340.06,431.79 L339.58,432.53 L339.11,433.23 L338.65,433.9 L338.21,434.54 L337.76,435.15 L337.33,435.73 L336.9,436.3 L336.47,436.84 L336.04,437.37 L335.6,437.88 L335.16,438.38 L334.72,438.87 L334.26,439.34 L333.8,439.8 L333.32,440.24 L332.84,440.68 L332.34,441.1 L331.83,441.52 L331.31,441.93 L330.77,442.32 L330.22,442.71 L329.64,443.09 L329.05,443.46 L328.44,443.83 L327.8,444.18 L327.14,444.53 L326.46,444.86 L325.74,445.18 L325,445.48 L324.23,445.76 L323.42,446.04 L322.58,446.3 L321.7,446.55 L320.77,446.78 L319.8,446.99 L318.79,447.19 L317.74,447.31 L316.68,447.32 L315.64,447.22 L314.57,447.07 L313.43,446.93 L312.16,446.86 L310.77,446.8 L309.27,446.73 L307.63,446.64 L305.87,446.49 L303.98,446.27 L301.92,445.99 L299.66,445.63 L297.19,445.17 L294.48,444.59 L291.96,443.68 L289.71,442.47 L289.26,440.58 L290.32,438.37 L291.74,436.27 L293.28,434.33 L294.94,432.58Z" fill="none" stroke="#161616" stroke-width="0.95"/>
<path d="M300.59,431 L302.25,429.81 L303.88,428.78 L305.44,427.9 L307.16,427.21 L308.98,426.71 L310.45,426.27 L311.72,425.9 L312.85,425.59 L313.79,425.29 L314.55,424.96 L315.16,424.61 L315.7,424.24 L316.17,423.85 L316.61,423.44 L317.03,423.03 L317.44,422.61 L317.86,422.19 L318.29,421.76 L318.7,421.3 L319.13,420.83 L319.56,420.33 L320.02,419.81 L320.5,419.28 L321.02,418.75 L321.56,418.17 L322.14,417.53 L322.76,416.84 L323.44,416.11 L324.18,415.38 L325,414.68 L325.89,414.07 L326.83,413.56 L327.83,413.11 L328.89,412.72 L329.99,412.36 L331.16,412.05 L332.38,411.78 L333.65,411.57 L334.98,411.41 L336.36,411.32 L337.77,411.34 L339.15,411.52 L340.41,411.97 L341.48,412.69 L342.37,413.63 L343.08,414.72 L343.62,415.92 L343.97,417.22 L344.05,418.63 L343.9,420.09 L343.6,421.53 L343.21,422.89 L342.79,424.17 L342.32,425.37 L341.81,426.5 L341.29,427.54 L340.76,428.5 L340.25,429.4 L339.74,430.23 L339.25,431 L338.78,431.72 L338.32,432.4 L337.88,433.04 L337.45,433.65 L337.03,434.22 L336.62,434.78 L336.22,435.31 L335.82,435.82 L335.42,436.31 L335.03,436.79 L334.63,437.25 L334.23,437.71 L333.83,438.15 L333.41,438.58 L333,439 L332.57,439.41 L332.13,439.81 L331.69,440.2 L331.23,440.59 L330.76,440.97 L330.27,441.35 L329.77,441.72 L329.25,442.08 L328.72,442.44 L328.16,442.79 L327.58,443.15 L326.98,443.49 L326.35,443.83 L325.69,444.16 L325,444.48 L324.28,444.78 L323.52,445.08 L322.73,445.36 L321.89,445.62 L321.01,445.88 L320.09,446.11 L319.12,446.31 L318.12,446.46 L317.1,446.51 L316.07,446.46 L315.03,446.36 L313.93,446.24 L312.73,446.15 L311.46,446.03 L310.12,445.88 L308.7,445.68 L307.22,445.4 L305.68,445.04 L304.04,444.61 L302.26,444.13 L300.34,443.56 L298.22,442.92 L296.26,442.03 L294.52,440.9 L294.22,439.25 L295.13,437.35 L296.33,435.54 L297.62,433.88 L299.01,432.36Z" fill="none" stroke="#161616" stroke-width="0.95"/>
<path d="M302.85,431 L304.3,429.92 L305.73,428.97 L307.1,428.17 L308.61,427.52 L310.19,427.03 L311.48,426.61 L312.61,426.24 L313.61,425.93 L314.44,425.62 L315.13,425.3 L315.69,424.96 L316.18,424.59 L316.63,424.22 L317.04,423.83 L317.43,423.43 L317.83,423.04 L318.23,422.64 L318.63,422.23 L319.03,421.8 L319.43,421.35 L319.85,420.89 L320.28,420.4 L320.74,419.91 L321.23,419.41 L321.75,418.87 L322.3,418.28 L322.88,417.64 L323.53,416.97 L324.23,416.29 L325,415.64 L325.84,415.06 L326.73,414.56 L327.67,414.12 L328.67,413.71 L329.73,413.34 L330.85,413.01 L332.02,412.72 L333.24,412.49 L334.52,412.32 L335.83,412.24 L337.17,412.26 L338.48,412.44 L339.68,412.87 L340.69,413.57 L341.51,414.49 L342.15,415.56 L342.64,416.72 L342.95,417.96 L343.02,419.3 L342.88,420.68 L342.61,422.03 L342.26,423.31 L341.87,424.52 L341.43,425.66 L340.94,426.73 L340.44,427.72 L339.93,428.64 L339.43,429.48 L338.94,430.27 L338.47,431 L338.01,431.68 L337.57,432.32 L337.14,432.92 L336.73,433.49 L336.33,434.04 L335.94,434.55 L335.55,435.05 L335.17,435.53 L334.79,435.99 L334.42,436.44 L334.05,436.87 L333.67,437.3 L333.29,437.71 L332.91,438.12 L332.52,438.52 L332.12,438.9 L331.71,439.28 L331.29,439.66 L330.86,440.03 L330.42,440.4 L329.97,440.76 L329.5,441.12 L329.02,441.47 L328.52,441.82 L327.99,442.18 L327.45,442.52 L326.88,442.87 L326.28,443.22 L325.66,443.55 L325,443.88 L324.31,444.19 L323.58,444.5 L322.81,444.8 L322.01,445.07 L321.16,445.33 L320.26,445.57 L319.32,445.79 L318.34,445.95 L317.34,446.03 L316.34,446.01 L315.3,445.93 L314.23,445.83 L313.08,445.72 L311.88,445.58 L310.63,445.37 L309.34,445.1 L308.03,444.74 L306.7,444.3 L305.31,443.79 L303.83,443.22 L302.23,442.6 L300.47,441.92 L298.85,441.04 L297.41,439.96 L297.2,438.45 L298.02,436.74 L299.08,435.11 L300.22,433.6 L301.45,432.23Z" fill="none" stroke="#161616" stroke-width="0.95"/>
<path d="M304.72,431 L306.01,430 L307.27,429.14 L308.49,428.38 L309.81,427.77 L311.21,427.3 L312.35,426.89 L313.35,426.53 L314.24,426.21 L314.99,425.9 L315.61,425.58 L316.13,425.24 L316.59,424.89 L317.01,424.53 L317.4,424.15 L317.77,423.77 L318.15,423.39 L318.53,423.01 L318.91,422.62 L319.3,422.22 L319.68,421.79 L320.08,421.35 L320.5,420.9 L320.94,420.43 L321.41,419.96 L321.91,419.46 L322.43,418.9 L322.99,418.31 L323.6,417.68 L324.27,417.05 L325,416.44 L325.79,415.89 L326.64,415.4 L327.54,414.96 L328.5,414.54 L329.51,414.16 L330.59,413.8 L331.72,413.5 L332.9,413.26 L334.13,413.09 L335.39,413.01 L336.67,413.02 L337.93,413.2 L339.08,413.62 L340.04,414.3 L340.79,415.21 L341.38,416.25 L341.82,417.38 L342.09,418.58 L342.16,419.86 L342.03,421.17 L341.79,422.45 L341.47,423.67 L341.11,424.82 L340.69,425.9 L340.22,426.92 L339.73,427.87 L339.24,428.74 L338.75,429.55 L338.27,430.3 L337.81,431 L337.37,431.65 L336.94,432.25 L336.53,432.83 L336.13,433.37 L335.74,433.88 L335.36,434.37 L334.99,434.84 L334.63,435.29 L334.27,435.72 L333.92,436.15 L333.56,436.56 L333.21,436.96 L332.85,437.35 L332.48,437.74 L332.11,438.11 L331.74,438.48 L331.36,438.85 L330.96,439.21 L330.56,439.56 L330.15,439.92 L329.72,440.27 L329.28,440.62 L328.83,440.96 L328.35,441.31 L327.86,441.66 L327.34,442.01 L326.8,442.36 L326.23,442.7 L325.63,443.04 L325,443.38 L324.33,443.7 L323.63,444.02 L322.89,444.33 L322.11,444.61 L321.28,444.88 L320.41,445.13 L319.49,445.36 L318.53,445.53 L317.55,445.62 L316.55,445.63 L315.53,445.57 L314.47,445.49 L313.36,445.37 L312.22,445.19 L311.05,444.95 L309.88,444.62 L308.71,444.19 L307.55,443.68 L306.37,443.1 L305.13,442.47 L303.8,441.8 L302.34,441.09 L301,440.21 L299.82,439.18 L299.68,437.78 L300.42,436.22 L301.37,434.74 L302.4,433.38 L303.49,432.13Z" fill="none" stroke="#161616" stroke-width="0.95"/>
<path d="M306.41,431 L307.55,430.09 L308.66,429.28 L309.73,428.58 L310.9,428 L312.12,427.55 L313.12,427.14 L314.01,426.78 L314.81,426.46 L315.48,426.15 L316.05,425.83 L316.53,425.5 L316.96,425.16 L317.35,424.8 L317.72,424.44 L318.08,424.08 L318.44,423.71 L318.8,423.35 L319.17,422.98 L319.54,422.59 L319.91,422.19 L320.3,421.77 L320.7,421.34 L321.12,420.9 L321.57,420.46 L322.05,419.98 L322.55,419.47 L323.09,418.91 L323.67,418.33 L324.3,417.74 L325,417.16 L325.75,416.63 L326.56,416.15 L327.42,415.71 L328.34,415.29 L329.32,414.89 L330.35,414.52 L331.45,414.2 L332.59,413.95 L333.78,413.77 L334.99,413.69 L336.23,413.71 L337.43,413.89 L338.53,414.29 L339.44,414.96 L340.15,415.85 L340.69,416.88 L341.08,417.98 L341.32,419.14 L341.38,420.36 L341.27,421.61 L341.05,422.82 L340.76,423.98 L340.42,425.08 L340.02,426.12 L339.57,427.1 L339.09,428 L338.61,428.84 L338.14,429.62 L337.67,430.34 L337.22,431 L336.79,431.62 L336.37,432.2 L335.97,432.74 L335.59,433.25 L335.21,433.74 L334.85,434.2 L334.49,434.64 L334.15,435.07 L333.8,435.48 L333.46,435.89 L333.12,436.28 L332.79,436.66 L332.45,437.03 L332.1,437.4 L331.75,437.75 L331.4,438.11 L331.04,438.46 L330.67,438.8 L330.29,439.15 L329.9,439.49 L329.5,439.83 L329.08,440.17 L328.65,440.51 L328.2,440.85 L327.73,441.19 L327.24,441.54 L326.72,441.89 L326.18,442.24 L325.61,442.58 L325,442.93 L324.36,443.26 L323.68,443.59 L322.96,443.9 L322.19,444.2 L321.39,444.48 L320.54,444.73 L319.64,444.96 L318.7,445.15 L317.74,445.26 L316.75,445.29 L315.74,445.26 L314.7,445.18 L313.62,445.05 L312.53,444.85 L311.44,444.56 L310.36,444.18 L309.31,443.7 L308.31,443.13 L307.32,442.48 L306.3,441.79 L305.22,441.08 L304.02,440.34 L302.94,439.47 L301.98,438.48 L301.91,437.19 L302.59,435.76 L303.44,434.42 L304.35,433.17 L305.32,432.03Z" fill="none" stroke="#161616" stroke-width="0.95"/>
<path d="M308.1,431 L309.08,430.17 L310.05,429.43 L310.98,428.78 L311.98,428.23 L313.03,427.79 L313.9,427.39 L314.68,427.04 L315.38,426.71 L315.98,426.4 L316.49,426.08 L316.93,425.76 L317.32,425.42 L317.69,425.08 L318.04,424.73 L318.38,424.38 L318.73,424.03 L319.08,423.68 L319.43,423.33 L319.78,422.96 L320.14,422.58 L320.51,422.19 L320.9,421.79 L321.3,421.37 L321.74,420.95 L322.19,420.51 L322.67,420.03 L323.18,419.51 L323.74,418.97 L324.34,418.42 L325,417.88 L325.71,417.37 L326.48,416.91 L327.3,416.47 L328.18,416.04 L329.12,415.63 L330.12,415.24 L331.18,414.9 L332.29,414.64 L333.43,414.46 L334.59,414.38 L335.78,414.4 L336.93,414.58 L337.98,414.97 L338.85,415.62 L339.51,416.49 L339.99,417.5 L340.34,418.58 L340.56,419.7 L340.61,420.87 L340.51,422.05 L340.31,423.2 L340.04,424.3 L339.73,425.35 L339.35,426.34 L338.92,427.27 L338.46,428.14 L337.99,428.94 L337.53,429.68 L337.07,430.37 L336.63,431 L336.21,431.59 L335.81,432.14 L335.42,432.65 L335.05,433.14 L334.69,433.6 L334.34,434.03 L333.99,434.45 L333.66,434.86 L333.33,435.25 L333.01,435.62 L332.69,435.99 L332.37,436.35 L332.05,436.71 L331.72,437.05 L331.39,437.39 L331.06,437.73 L330.72,438.06 L330.37,438.4 L330.02,438.73 L329.65,439.06 L329.27,439.39 L328.88,439.72 L328.48,440.05 L328.05,440.39 L327.61,440.73 L327.14,441.08 L326.65,441.42 L326.13,441.77 L325.58,442.13 L325,442.47 L324.38,442.82 L323.72,443.16 L323.02,443.48 L322.28,443.78 L321.5,444.07 L320.67,444.33 L319.79,444.57 L318.87,444.77 L317.92,444.89 L316.95,444.95 L315.95,444.94 L314.92,444.87 L313.88,444.73 L312.84,444.5 L311.82,444.18 L310.84,443.75 L309.92,443.21 L309.07,442.57 L308.28,441.86 L307.48,441.12 L306.63,440.36 L305.71,439.59 L304.87,438.73 L304.15,437.77 L304.15,436.59 L304.75,435.3 L305.5,434.09 L306.3,432.96 L307.16,431.94Z" fill="none" stroke="#161616" stroke-width="0.95"/>
<path d="M309.79,431 L310.62,430.25 L311.43,429.57 L312.22,428.98 L313.06,428.46 L313.94,428.04 L314.68,427.65 L315.34,427.29 L315.94,426.97 L316.47,426.65 L316.92,426.34 L317.32,426.01 L317.69,425.69 L318.03,425.36 L318.36,425.03 L318.69,424.69 L319.02,424.35 L319.35,424.02 L319.68,423.68 L320.02,423.34 L320.37,422.98 L320.72,422.61 L321.1,422.23 L321.49,421.84 L321.9,421.45 L322.33,421.04 L322.79,420.59 L323.28,420.12 L323.8,419.62 L324.38,419.11 L325,418.6 L325.68,418.12 L326.4,417.66 L327.18,417.22 L328.02,416.79 L328.92,416.36 L329.89,415.96 L330.91,415.61 L331.98,415.33 L333.08,415.15 L334.2,415.07 L335.33,415.09 L336.43,415.26 L337.44,415.64 L338.26,416.28 L338.86,417.14 L339.3,418.13 L339.6,419.17 L339.79,420.26 L339.83,421.37 L339.75,422.49 L339.57,423.58 L339.33,424.62 L339.04,425.61 L338.68,426.55 L338.27,427.45 L337.82,428.27 L337.37,429.04 L336.91,429.75 L336.47,430.4 L336.05,431 L335.63,431.56 L335.24,432.08 L334.87,432.56 L334.51,433.02 L334.16,433.45 L333.82,433.87 L333.49,434.26 L333.18,434.64 L332.86,435.01 L332.55,435.36 L332.25,435.71 L331.95,436.05 L331.65,436.38 L331.34,436.71 L331.03,437.03 L330.72,437.35 L330.4,437.67 L330.08,437.99 L329.75,438.31 L329.4,438.63 L329.05,438.95 L328.68,439.27 L328.3,439.6 L327.9,439.93 L327.48,440.27 L327.04,440.61 L326.58,440.96 L326.08,441.31 L325.56,441.67 L325,442.02 L324.4,442.38 L323.77,442.73 L323.09,443.06 L322.37,443.37 L321.61,443.66 L320.8,443.93 L319.94,444.18 L319.04,444.38 L318.11,444.53 L317.15,444.6 L316.16,444.62 L315.15,444.56 L314.14,444.41 L313.15,444.16 L312.2,443.8 L311.32,443.32 L310.53,442.72 L309.84,442.02 L309.23,441.24 L308.65,440.44 L308.05,439.64 L307.39,438.84 L306.81,437.98 L306.32,437.07 L306.38,435.99 L306.92,434.84 L307.57,433.76 L308.26,432.76 L308.99,431.84Z" fill="none" stroke="#161616" stroke-width="0.95"/>
<path d="M311.29,431 L311.99,430.32 L312.67,429.7 L313.33,429.15 L314.03,428.67 L314.75,428.25 L315.37,427.87 L315.93,427.52 L316.45,427.19 L316.91,426.88 L317.31,426.56 L317.68,426.24 L318.01,425.92 L318.34,425.6 L318.65,425.28 L318.96,424.96 L319.27,424.64 L319.59,424.32 L319.91,424 L320.24,423.67 L320.57,423.33 L320.91,422.98 L321.27,422.63 L321.65,422.26 L322.04,421.89 L322.46,421.5 L322.89,421.09 L323.36,420.65 L323.86,420.19 L324.41,419.72 L325,419.24 L325.64,418.78 L326.33,418.33 L327.08,417.89 L327.88,417.45 L328.75,417.02 L329.68,416.6 L330.67,416.23 L331.7,415.94 L332.77,415.76 L333.84,415.68 L334.93,415.71 L335.99,415.87 L336.95,416.24 L337.73,416.86 L338.29,417.71 L338.68,418.68 L338.95,419.7 L339.11,420.75 L339.14,421.82 L339.07,422.88 L338.91,423.91 L338.7,424.9 L338.42,425.85 L338.09,426.75 L337.69,427.6 L337.26,428.39 L336.81,429.13 L336.37,429.8 L335.94,430.43 L335.52,431 L335.12,431.53 L334.74,432.02 L334.37,432.48 L334.02,432.92 L333.69,433.33 L333.36,433.72 L333.05,434.09 L332.74,434.45 L332.44,434.79 L332.15,435.13 L331.86,435.46 L331.57,435.78 L331.29,436.09 L331,436.4 L330.71,436.71 L330.42,437.02 L330.12,437.32 L329.82,437.63 L329.5,437.93 L329.18,438.24 L328.85,438.55 L328.5,438.87 L328.14,439.19 L327.77,439.52 L327.37,439.85 L326.95,440.19 L326.51,440.54 L326.04,440.9 L325.54,441.26 L325,441.62 L324.42,441.99 L323.81,442.34 L323.15,442.68 L322.45,443 L321.7,443.3 L320.91,443.58 L320.07,443.83 L319.19,444.05 L318.27,444.2 L317.32,444.3 L316.34,444.33 L315.35,444.28 L314.37,444.13 L313.43,443.85 L312.54,443.46 L311.75,442.93 L311.07,442.28 L310.52,441.52 L310.08,440.69 L309.69,439.84 L309.31,439 L308.89,438.17 L308.53,437.32 L308.24,436.45 L308.37,435.46 L308.84,434.43 L309.4,433.47 L310,432.58 L310.62,431.75Z" fill="none" stroke="#161616" stroke-width="0.95"/>
<path d="M312.79,431 L313.35,430.39 L313.9,429.83 L314.43,429.33 L314.99,428.87 L315.56,428.47 L316.06,428.1 L316.52,427.75 L316.95,427.42 L317.34,427.1 L317.7,426.78 L318.03,426.47 L318.34,426.16 L318.64,425.85 L318.94,425.54 L319.23,425.23 L319.53,424.93 L319.83,424.62 L320.14,424.31 L320.45,424 L320.77,423.68 L321.1,423.35 L321.45,423.02 L321.81,422.68 L322.18,422.33 L322.58,421.97 L323,421.59 L323.45,421.18 L323.92,420.76 L324.44,420.33 L325,419.88 L325.61,419.44 L326.26,419 L326.97,418.56 L327.74,418.11 L328.57,417.67 L329.47,417.24 L330.43,416.86 L331.43,416.56 L332.45,416.37 L333.49,416.3 L334.53,416.32 L335.55,416.48 L336.46,416.84 L337.2,417.45 L337.72,418.28 L338.06,419.24 L338.29,420.24 L338.42,421.25 L338.45,422.26 L338.39,423.27 L338.26,424.25 L338.06,425.18 L337.81,426.08 L337.49,426.94 L337.11,427.76 L336.69,428.52 L336.26,429.22 L335.83,429.86 L335.4,430.45 L335,431 L334.61,431.5 L334.24,431.97 L333.88,432.41 L333.54,432.82 L333.22,433.2 L332.91,433.57 L332.6,433.92 L332.31,434.26 L332.03,434.58 L331.75,434.9 L331.47,435.2 L331.2,435.51 L330.93,435.8 L330.66,436.1 L330.39,436.39 L330.12,436.68 L329.84,436.98 L329.55,437.27 L329.26,437.56 L328.96,437.86 L328.65,438.16 L328.33,438.47 L327.99,438.79 L327.63,439.11 L327.26,439.44 L326.87,439.78 L326.45,440.13 L326,440.49 L325.52,440.85 L325,441.22 L324.44,441.59 L323.85,441.96 L323.21,442.31 L322.53,442.63 L321.8,442.94 L321.03,443.22 L320.21,443.48 L319.34,443.71 L318.44,443.88 L317.5,444 L316.53,444.05 L315.55,444.01 L314.6,443.85 L313.7,443.55 L312.88,443.12 L312.18,442.55 L311.61,441.85 L311.19,441.03 L310.93,440.14 L310.74,439.24 L310.57,438.35 L310.39,437.51 L310.25,436.66 L310.17,435.82 L310.35,434.92 L310.77,434.03 L311.24,433.18 L311.73,432.39 L312.25,431.67Z" fill="none" stroke="#161616" stroke-width="0.95"/>
<path d="M314.3,431 L314.72,430.46 L315.13,429.96 L315.54,429.5 L315.95,429.08 L316.37,428.69 L316.75,428.32 L317.11,427.97 L317.46,427.64 L317.78,427.32 L318.09,427.01 L318.38,426.7 L318.67,426.4 L318.95,426.1 L319.22,425.8 L319.5,425.5 L319.79,425.21 L320.08,424.92 L320.37,424.63 L320.67,424.33 L320.98,424.03 L321.29,423.73 L321.62,423.42 L321.97,423.1 L322.33,422.77 L322.71,422.44 L323.11,422.09 L323.53,421.72 L323.98,421.33 L324.47,420.94 L325,420.52 L325.57,420.1 L326.19,419.67 L326.86,419.23 L327.6,418.78 L328.4,418.32 L329.26,417.88 L330.19,417.48 L331.16,417.17 L332.14,416.98 L333.14,416.91 L334.14,416.93 L335.1,417.09 L335.98,417.44 L336.68,418.03 L337.15,418.85 L337.45,419.79 L337.64,420.77 L337.74,421.74 L337.76,422.71 L337.71,423.66 L337.6,424.58 L337.43,425.47 L337.2,426.32 L336.9,427.13 L336.53,427.91 L336.13,428.64 L335.7,429.3 L335.28,429.92 L334.87,430.48 L334.47,431 L334.09,431.48 L333.73,431.92 L333.39,432.33 L333.06,432.71 L332.75,433.08 L332.45,433.42 L332.16,433.75 L331.88,434.06 L331.61,434.37 L331.34,434.66 L331.08,434.95 L330.83,435.23 L330.58,435.52 L330.33,435.79 L330.07,436.07 L329.82,436.35 L329.56,436.63 L329.29,436.91 L329.02,437.19 L328.74,437.48 L328.45,437.77 L328.15,438.07 L327.83,438.38 L327.5,438.7 L327.15,439.03 L326.78,439.37 L326.38,439.72 L325.95,440.08 L325.5,440.45 L325,440.82 L324.47,441.2 L323.89,441.58 L323.27,441.93 L322.61,442.27 L321.9,442.58 L321.14,442.87 L320.34,443.13 L319.49,443.37 L318.6,443.56 L317.67,443.7 L316.71,443.76 L315.75,443.73 L314.83,443.56 L313.98,443.24 L313.23,442.77 L312.6,442.16 L312.15,441.41 L311.87,440.54 L311.78,439.59 L311.78,438.63 L311.82,437.71 L311.88,436.84 L311.97,436 L312.09,435.19 L312.34,434.39 L312.69,433.62 L313.07,432.89 L313.47,432.21 L313.88,431.58Z" fill="none" stroke="#161616" stroke-width="0.95"/>
<path d="M315.61,431 L315.91,430.52 L316.21,430.08 L316.51,429.65 L316.8,429.26 L317.08,428.88 L317.36,428.52 L317.63,428.17 L317.9,427.84 L318.16,427.52 L318.43,427.2 L318.69,426.9 L318.95,426.6 L319.21,426.31 L319.48,426.03 L319.74,425.74 L320.01,425.46 L320.29,425.18 L320.57,424.9 L320.86,424.62 L321.15,424.34 L321.46,424.05 L321.78,423.76 L322.11,423.46 L322.45,423.16 L322.82,422.85 L323.2,422.52 L323.6,422.19 L324.04,421.83 L324.5,421.47 L325,421.08 L325.54,420.68 L326.13,420.26 L326.77,419.82 L327.47,419.36 L328.24,418.89 L329.08,418.44 L329.98,418.03 L330.92,417.71 L331.87,417.51 L332.83,417.44 L333.79,417.47 L334.72,417.63 L335.55,417.97 L336.22,418.54 L336.65,419.35 L336.9,420.28 L337.06,421.23 L337.14,422.18 L337.16,423.1 L337.12,424 L337.02,424.87 L336.87,425.71 L336.66,426.52 L336.38,427.3 L336.03,428.05 L335.63,428.74 L335.22,429.38 L334.81,429.97 L334.4,430.51 L334.02,431 L333.64,431.45 L333.29,431.87 L332.96,432.26 L332.64,432.62 L332.34,432.97 L332.05,433.29 L331.77,433.6 L331.5,433.9 L331.24,434.18 L330.99,434.46 L330.74,434.73 L330.5,435 L330.27,435.26 L330.03,435.53 L329.79,435.79 L329.55,436.06 L329.31,436.32 L329.06,436.59 L328.81,436.86 L328.55,437.14 L328.28,437.43 L327.99,437.72 L327.7,438.03 L327.38,438.34 L327.05,438.67 L326.7,439 L326.32,439.35 L325.92,439.71 L325.48,440.09 L325,440.47 L324.48,440.86 L323.92,441.24 L323.32,441.6 L322.67,441.94 L321.98,442.26 L321.24,442.56 L320.46,442.83 L319.63,443.07 L318.75,443.27 L317.82,443.43 L316.87,443.52 L315.92,443.49 L315.03,443.31 L314.22,442.97 L313.52,442.48 L312.98,441.82 L312.62,441.03 L312.47,440.11 L312.52,439.1 L312.69,438.11 L312.93,437.15 L313.19,436.26 L313.48,435.42 L313.78,434.65 L314.08,433.93 L314.38,433.26 L314.68,432.63 L314.99,432.05 L315.3,431.51Z" fill="#141414" stroke="#141414" stroke-width="0.95"/>
<path d="M316.64,431 L316.91,430.58 L317.18,430.18 L317.44,429.8 L317.7,429.45 L317.95,429.11 L318.2,428.79 L318.44,428.48 L318.68,428.19 L318.92,427.9 L319.15,427.62 L319.38,427.35 L319.62,427.09 L319.85,426.83 L320.08,426.57 L320.32,426.32 L320.56,426.07 L320.81,425.82 L321.06,425.57 L321.31,425.32 L321.58,425.07 L321.85,424.82 L322.13,424.56 L322.43,424.29 L322.73,424.02 L323.06,423.74 L323.4,423.46 L323.76,423.16 L324.14,422.84 L324.56,422.52 L325,422.17 L325.48,421.81 L326.01,421.44 L326.58,421.05 L327.2,420.64 L327.89,420.23 L328.63,419.82 L329.43,419.46 L330.27,419.17 L331.12,419 L331.97,418.94 L332.82,418.96 L333.65,419.1 L334.39,419.4 L334.98,419.91 L335.36,420.64 L335.6,421.46 L335.73,422.31 L335.81,423.15 L335.82,423.97 L335.79,424.77 L335.7,425.55 L335.57,426.3 L335.38,427.02 L335.13,427.71 L334.81,428.37 L334.46,428.99 L334.09,429.56 L333.73,430.08 L333.37,430.56 L333.02,431 L332.69,431.4 L332.38,431.78 L332.08,432.12 L331.8,432.45 L331.53,432.75 L331.27,433.04 L331.03,433.31 L330.79,433.58 L330.56,433.83 L330.33,434.08 L330.11,434.32 L329.9,434.56 L329.69,434.79 L329.48,435.03 L329.26,435.26 L329.05,435.5 L328.84,435.74 L328.61,435.98 L328.39,436.22 L328.16,436.47 L327.92,436.72 L327.66,436.98 L327.4,437.25 L327.12,437.53 L326.83,437.82 L326.51,438.12 L326.18,438.44 L325.82,438.76 L325.42,439.09 L325,439.43 L324.54,439.77 L324.04,440.11 L323.51,440.44 L322.93,440.74 L322.31,441.02 L321.66,441.29 L320.96,441.53 L320.22,441.74 L319.43,441.92 L318.61,442.06 L317.77,442.14 L316.92,442.12 L316.13,441.96 L315.4,441.66 L314.79,441.21 L314.3,440.63 L313.98,439.92 L313.85,439.1 L313.89,438.21 L314.04,437.32 L314.25,436.48 L314.49,435.68 L314.75,434.94 L315.01,434.25 L315.28,433.61 L315.55,433.01 L315.82,432.45 L316.09,431.94 L316.37,431.45Z" fill="none" stroke="#fff" stroke-opacity="0.15" stroke-width="0.4"/>
<path d="M317.68,431 L317.91,430.63 L318.15,430.28 L318.38,429.95 L318.6,429.64 L318.82,429.34 L319.04,429.06 L319.25,428.79 L319.46,428.53 L319.67,428.28 L319.87,428.04 L320.08,427.8 L320.28,427.57 L320.49,427.34 L320.69,427.12 L320.9,426.9 L321.11,426.68 L321.32,426.46 L321.54,426.24 L321.77,426.02 L322,425.8 L322.24,425.58 L322.49,425.35 L322.74,425.12 L323.01,424.88 L323.3,424.64 L323.59,424.39 L323.91,424.13 L324.25,423.85 L324.61,423.57 L325,423.26 L325.42,422.95 L325.88,422.62 L326.38,422.28 L326.93,421.92 L327.53,421.56 L328.18,421.2 L328.88,420.88 L329.62,420.63 L330.36,420.48 L331.1,420.43 L331.85,420.44 L332.58,420.57 L333.23,420.84 L333.75,421.28 L334.08,421.92 L334.29,422.64 L334.41,423.38 L334.47,424.12 L334.48,424.84 L334.45,425.54 L334.38,426.22 L334.26,426.88 L334.1,427.51 L333.88,428.12 L333.6,428.7 L333.29,429.24 L332.97,429.74 L332.65,430.2 L332.33,430.62 L332.03,431 L331.74,431.35 L331.47,431.68 L331.21,431.98 L330.96,432.27 L330.72,432.53 L330.5,432.79 L330.28,433.03 L330.07,433.26 L329.87,433.48 L329.67,433.7 L329.48,433.91 L329.29,434.12 L329.11,434.33 L328.92,434.53 L328.74,434.74 L328.55,434.94 L328.36,435.15 L328.17,435.36 L327.97,435.57 L327.77,435.79 L327.55,436.01 L327.33,436.24 L327.1,436.48 L326.86,436.72 L326.6,436.98 L326.33,437.24 L326.03,437.52 L325.71,437.8 L325.37,438.09 L325,438.39 L324.6,438.69 L324.16,438.99 L323.69,439.27 L323.19,439.54 L322.65,439.78 L322.07,440.01 L321.46,440.23 L320.81,440.41 L320.12,440.57 L319.4,440.7 L318.66,440.76 L317.92,440.74 L317.22,440.6 L316.59,440.34 L316.05,439.95 L315.62,439.44 L315.34,438.82 L315.22,438.1 L315.27,437.32 L315.4,436.54 L315.58,435.8 L315.79,435.1 L316.02,434.45 L316.25,433.84 L316.48,433.28 L316.71,432.76 L316.95,432.27 L317.19,431.82 L317.44,431.4Z" fill="none" stroke="#fff" stroke-opacity="0.15" stroke-width="0.4"/>
<path d="M318.71,431 L318.91,430.68 L319.11,430.38 L319.31,430.1 L319.5,429.83 L319.69,429.58 L319.88,429.34 L320.06,429.1 L320.24,428.88 L320.42,428.67 L320.6,428.46 L320.77,428.25 L320.95,428.06 L321.12,427.86 L321.3,427.67 L321.48,427.48 L321.66,427.29 L321.84,427.1 L322.03,426.91 L322.22,426.73 L322.42,426.54 L322.63,426.35 L322.84,426.15 L323.06,425.95 L323.29,425.75 L323.54,425.54 L323.79,425.32 L324.06,425.1 L324.35,424.86 L324.67,424.61 L325,424.36 L325.36,424.08 L325.76,423.8 L326.19,423.51 L326.66,423.2 L327.17,422.89 L327.73,422.58 L328.34,422.31 L328.97,422.09 L329.6,421.96 L330.24,421.92 L330.89,421.93 L331.51,422.04 L332.07,422.27 L332.51,422.65 L332.8,423.2 L332.98,423.82 L333.08,424.46 L333.13,425.09 L333.15,425.71 L333.12,426.31 L333.06,426.9 L332.96,427.46 L332.81,428 L332.62,428.52 L332.39,429.02 L332.12,429.49 L331.85,429.92 L331.57,430.31 L331.3,430.67 L331.04,431 L330.79,431.3 L330.56,431.58 L330.33,431.84 L330.12,432.09 L329.92,432.32 L329.72,432.53 L329.54,432.74 L329.36,432.94 L329.18,433.13 L329.01,433.32 L328.85,433.5 L328.69,433.68 L328.53,433.86 L328.37,434.03 L328.21,434.21 L328.05,434.39 L327.89,434.57 L327.72,434.75 L327.55,434.93 L327.38,435.12 L327.19,435.31 L327.01,435.5 L326.81,435.71 L326.6,435.92 L326.38,436.14 L326.14,436.36 L325.89,436.6 L325.61,436.84 L325.32,437.09 L325,437.35 L324.65,437.61 L324.28,437.86 L323.87,438.1 L323.44,438.33 L322.98,438.55 L322.48,438.74 L321.96,438.92 L321.4,439.09 L320.81,439.22 L320.19,439.33 L319.55,439.39 L318.92,439.37 L318.32,439.25 L317.78,439.02 L317.31,438.69 L316.95,438.25 L316.7,437.72 L316.6,437.1 L316.64,436.43 L316.75,435.76 L316.91,435.12 L317.09,434.52 L317.28,433.96 L317.48,433.44 L317.68,432.96 L317.88,432.51 L318.09,432.1 L318.29,431.7 L318.5,431.34Z" fill="none" stroke="#fff" stroke-opacity="0.15" stroke-width="0.4"/>
<path d="M319.74,431 L319.91,430.73 L320.08,430.48 L320.24,430.25 L320.41,430.02 L320.56,429.81 L320.72,429.61 L320.87,429.42 L321.02,429.23 L321.17,429.05 L321.32,428.87 L321.47,428.7 L321.61,428.54 L321.76,428.38 L321.91,428.21 L322.06,428.06 L322.21,427.9 L322.36,427.74 L322.52,427.58 L322.68,427.43 L322.85,427.27 L323.02,427.11 L323.2,426.95 L323.38,426.78 L323.57,426.61 L323.78,426.43 L323.99,426.25 L324.22,426.07 L324.46,425.87 L324.72,425.66 L325,425.45 L325.3,425.22 L325.63,424.98 L325.99,424.74 L326.39,424.48 L326.82,424.22 L327.29,423.97 L327.79,423.74 L328.31,423.56 L328.85,423.45 L329.38,423.41 L329.92,423.42 L330.44,423.51 L330.91,423.7 L331.28,424.02 L331.52,424.48 L331.67,425 L331.75,425.53 L331.8,426.06 L331.81,426.58 L331.79,427.08 L331.73,427.57 L331.65,428.04 L331.53,428.49 L331.37,428.93 L331.17,429.35 L330.95,429.73 L330.72,430.09 L330.49,430.42 L330.27,430.72 L330.05,431 L329.84,431.25 L329.64,431.49 L329.46,431.71 L329.28,431.91 L329.11,432.1 L328.95,432.28 L328.79,432.46 L328.64,432.62 L328.5,432.78 L328.35,432.94 L328.22,433.09 L328.08,433.24 L327.95,433.39 L327.82,433.54 L327.68,433.68 L327.55,433.83 L327.41,433.98 L327.27,434.13 L327.13,434.28 L326.99,434.44 L326.83,434.6 L326.68,434.76 L326.51,434.93 L326.34,435.11 L326.15,435.29 L325.95,435.48 L325.74,435.68 L325.51,435.88 L325.27,436.09 L325,436.3 L324.71,436.52 L324.4,436.73 L324.06,436.94 L323.7,437.13 L323.31,437.31 L322.9,437.47 L322.46,437.62 L321.99,437.76 L321.5,437.87 L320.98,437.96 L320.45,438.01 L319.92,438 L319.42,437.9 L318.96,437.71 L318.57,437.43 L318.27,437.06 L318.07,436.62 L317.98,436.1 L318.01,435.54 L318.11,434.98 L318.24,434.45 L318.39,433.94 L318.55,433.48 L318.72,433.04 L318.88,432.64 L319.05,432.26 L319.22,431.92 L319.39,431.59 L319.57,431.28Z" fill="none" stroke="#fff" stroke-opacity="0.15" stroke-width="0.4"/>
<path d="M320.77,431 L320.91,430.79 L321.05,430.58 L321.18,430.39 L321.31,430.22 L321.44,430.04 L321.56,429.88 L321.68,429.73 L321.8,429.58 L321.92,429.43 L322.04,429.29 L322.16,429.16 L322.28,429.02 L322.4,428.89 L322.51,428.76 L322.63,428.63 L322.76,428.51 L322.88,428.38 L323.01,428.26 L323.14,428.13 L323.27,428 L323.41,427.87 L323.55,427.74 L323.7,427.61 L323.85,427.47 L324.02,427.33 L324.19,427.19 L324.37,427.03 L324.57,426.88 L324.78,426.71 L325,426.54 L325.24,426.36 L325.51,426.16 L325.8,425.97 L326.11,425.76 L326.46,425.55 L326.84,425.35 L327.24,425.16 L327.66,425.02 L328.09,424.93 L328.52,424.9 L328.95,424.91 L329.37,424.98 L329.75,425.14 L330.05,425.39 L330.24,425.76 L330.36,426.18 L330.43,426.6 L330.46,427.03 L330.47,427.45 L330.45,427.85 L330.41,428.24 L330.34,428.62 L330.25,428.99 L330.12,429.34 L329.96,429.67 L329.78,429.98 L329.6,430.27 L329.41,430.54 L329.23,430.78 L329.06,431 L328.89,431.2 L328.73,431.39 L328.58,431.57 L328.44,431.73 L328.3,431.88 L328.17,432.03 L328.05,432.17 L327.93,432.3 L327.81,432.43 L327.7,432.56 L327.58,432.68 L327.48,432.8 L327.37,432.92 L327.26,433.04 L327.16,433.16 L327.05,433.28 L326.94,433.39 L326.83,433.52 L326.71,433.64 L326.6,433.76 L326.47,433.89 L326.35,434.03 L326.21,434.16 L326.07,434.3 L325.92,434.45 L325.77,434.6 L325.6,434.76 L325.41,434.92 L325.21,435.09 L325,435.26 L324.77,435.44 L324.52,435.61 L324.24,435.77 L323.95,435.92 L323.64,436.07 L323.31,436.2 L322.96,436.32 L322.58,436.43 L322.19,436.52 L321.77,436.59 L321.34,436.63 L320.92,436.62 L320.51,436.54 L320.15,436.39 L319.84,436.16 L319.59,435.87 L319.43,435.51 L319.36,435.1 L319.38,434.65 L319.46,434.2 L319.57,433.77 L319.69,433.37 L319.82,432.99 L319.95,432.64 L320.08,432.32 L320.22,432.02 L320.36,431.74 L320.5,431.47 L320.64,431.23Z" fill="none" stroke="#fff" stroke-opacity="0.15" stroke-width="0.4"/>
<path d="M321.81,431 L321.91,430.84 L322.01,430.69 L322.11,430.54 L322.21,430.41 L322.31,430.28 L322.4,430.16 L322.49,430.04 L322.59,429.92 L322.68,429.82 L322.77,429.71 L322.85,429.61 L322.94,429.51 L323.03,429.41 L323.12,429.31 L323.21,429.21 L323.3,429.12 L323.4,429.02 L323.49,428.93 L323.59,428.83 L323.69,428.74 L323.8,428.64 L323.9,428.54 L324.02,428.44 L324.13,428.33 L324.26,428.23 L324.39,428.12 L324.53,428 L324.67,427.88 L324.83,427.76 L325,427.63 L325.18,427.49 L325.38,427.35 L325.6,427.2 L325.84,427.04 L326.1,426.88 L326.39,426.73 L326.69,426.59 L327.01,426.48 L327.34,426.42 L327.66,426.39 L327.99,426.4 L328.3,426.45 L328.59,426.57 L328.81,426.77 L328.96,427.04 L329.05,427.36 L329.1,427.68 L329.13,428 L329.13,428.32 L329.12,428.62 L329.09,428.92 L329.04,429.2 L328.97,429.48 L328.87,429.74 L328.75,430 L328.61,430.23 L328.47,430.45 L328.33,430.65 L328.2,430.83 L328.07,431 L327.94,431.15 L327.82,431.3 L327.71,431.43 L327.6,431.55 L327.5,431.67 L327.4,431.78 L327.3,431.88 L327.21,431.98 L327.12,432.08 L327.04,432.18 L326.95,432.27 L326.87,432.36 L326.79,432.45 L326.71,432.54 L326.63,432.63 L326.55,432.72 L326.47,432.81 L326.38,432.9 L326.29,432.99 L326.21,433.09 L326.11,433.19 L326.02,433.29 L325.92,433.39 L325.81,433.5 L325.7,433.61 L325.58,433.72 L325.45,433.84 L325.31,433.96 L325.16,434.09 L325,434.22 L324.82,434.35 L324.63,434.48 L324.43,434.61 L324.21,434.72 L323.97,434.83 L323.72,434.93 L323.46,435.02 L323.17,435.1 L322.87,435.17 L322.56,435.23 L322.24,435.26 L321.91,435.25 L321.61,435.19 L321.33,435.07 L321.1,434.9 L320.91,434.68 L320.79,434.41 L320.74,434.1 L320.76,433.76 L320.81,433.42 L320.89,433.09 L320.99,432.79 L321.08,432.5 L321.18,432.24 L321.29,432 L321.39,431.77 L321.49,431.56 L321.6,431.36 L321.7,431.17Z" fill="none" stroke="#fff" stroke-opacity="0.15" stroke-width="0.4"/>
<path d="M322.84,431 L322.91,430.89 L322.98,430.79 L323.05,430.69 L323.11,430.6 L323.18,430.51 L323.24,430.43 L323.3,430.35 L323.37,430.27 L323.43,430.2 L323.49,430.13 L323.55,430.06 L323.61,429.99 L323.67,429.92 L323.73,429.86 L323.79,429.79 L323.85,429.73 L323.92,429.66 L323.98,429.6 L324.05,429.53 L324.12,429.47 L324.19,429.4 L324.26,429.34 L324.33,429.27 L324.41,429.2 L324.5,429.12 L324.59,429.05 L324.68,428.97 L324.78,428.89 L324.89,428.81 L325,428.72 L325.12,428.63 L325.26,428.53 L325.41,428.43 L325.57,428.32 L325.75,428.22 L325.94,428.11 L326.15,428.02 L326.36,427.94 L326.58,427.9 L326.8,427.88 L327.02,427.89 L327.23,427.92 L327.43,428 L327.58,428.14 L327.68,428.32 L327.74,428.53 L327.77,428.75 L327.79,428.97 L327.8,429.18 L327.79,429.39 L327.77,429.59 L327.73,429.78 L327.68,429.97 L327.62,430.15 L327.54,430.32 L327.44,430.48 L327.35,430.63 L327.26,430.76 L327.16,430.89 L327.07,431 L326.99,431.1 L326.91,431.2 L326.83,431.29 L326.76,431.37 L326.69,431.45 L326.62,431.53 L326.56,431.6 L326.5,431.67 L326.44,431.73 L326.38,431.8 L326.32,431.86 L326.27,431.92 L326.21,431.98 L326.16,432.04 L326.1,432.1 L326.05,432.16 L325.99,432.22 L325.93,432.29 L325.88,432.35 L325.82,432.41 L325.75,432.48 L325.69,432.55 L325.62,432.62 L325.55,432.69 L325.47,432.76 L325.39,432.84 L325.3,432.92 L325.21,433 L325.11,433.09 L325,433.18 L324.88,433.27 L324.75,433.36 L324.61,433.44 L324.46,433.52 L324.31,433.59 L324.14,433.66 L323.96,433.72 L323.76,433.78 L323.56,433.82 L323.35,433.86 L323.13,433.88 L322.91,433.87 L322.71,433.83 L322.52,433.75 L322.36,433.64 L322.24,433.49 L322.15,433.31 L322.12,433.09 L322.13,432.86 L322.17,432.63 L322.22,432.42 L322.28,432.21 L322.35,432.02 L322.42,431.84 L322.49,431.67 L322.56,431.52 L322.63,431.38 L322.7,431.24 L322.77,431.12Z" fill="none" stroke="#fff" stroke-opacity="0.15" stroke-width="0.4"/>
<circle cx="331" cy="426" r="0.5" fill="#bbb"/>
<circle cx="328" cy="429" r="0.5" fill="#bbb"/>
<circle cx="325" cy="432" r="0.5" fill="#bbb"/>
<circle cx="322" cy="435" r="0.5" fill="#bbb"/>
<path d="M421.28,430 L422.89,428.95 L424.37,428.04 L425.77,427.27 L427.06,426.61 L428.23,426.04 L429.28,425.54 L430.21,425.09 L431.07,424.69 L431.91,424.35 L432.69,424.05 L433.37,423.75 L433.94,423.42 L434.43,423.06 L434.86,422.67 L435.24,422.24 L435.6,421.79 L435.95,421.3 L436.3,420.78 L436.65,420.23 L437.02,419.65 L437.42,419.05 L437.85,418.43 L438.3,417.75 L438.78,417.01 L439.3,416.18 L439.87,415.29 L440.52,414.32 L441.25,413.31 L442.07,412.27 L443,411.18 L444.05,410.04 L445.22,408.89 L446.52,407.77 L447.95,406.72 L449.51,405.69 L451.22,404.71 L453.06,403.78 L455.04,402.95 L457.26,402.02 L459.51,401.41 L461.41,401.66 L462.81,402.74 L463.92,404.17 L464.83,405.75 L465.57,407.43 L466.12,409.18 L466.44,411.02 L466.52,412.91 L466.43,414.78 L466.22,416.59 L465.93,418.32 L465.59,419.94 L465.19,421.48 L464.74,422.94 L464.24,424.31 L463.73,425.59 L463.21,426.8 L462.68,427.93 L462.14,429 L461.61,430 L461.07,430.95 L460.5,431.84 L459.92,432.68 L459.34,433.47 L458.77,434.22 L458.2,434.94 L457.64,435.62 L457.1,436.28 L456.58,436.92 L456.07,437.54 L455.57,438.16 L455.08,438.78 L454.61,439.4 L454.15,440.04 L453.68,440.68 L453.2,441.33 L452.71,441.99 L452.19,442.65 L451.64,443.3 L451.05,443.94 L450.41,444.54 L449.72,445.1 L449,445.63 L448.24,446.12 L447.44,446.58 L446.62,447.02 L445.76,447.43 L444.87,447.82 L443.95,448.18 L443,448.54 L442.01,448.88 L440.98,449.21 L439.91,449.52 L438.8,449.78 L437.65,449.98 L436.46,450.12 L435.25,450.19 L434.01,450.19 L432.75,450.11 L431.47,449.97 L430.15,449.79 L428.78,449.57 L427.34,449.33 L425.83,449.07 L424.2,448.8 L422.41,448.54 L420.45,448.26 L418.31,447.94 L416.03,447.51 L413.75,446.89 L411.7,445.95 L409.99,444.7 L408.82,443.12 L408.78,441.12 L410.22,438.78 L412.5,436.48 L415.17,434.41 L417.53,432.68 L419.51,431.23Z" fill="none" stroke="#161616" stroke-width="0.95"/>
<path d="M423.07,430 L424.48,429.03 L425.78,428.19 L427.01,427.47 L428.15,426.84 L429.19,426.3 L430.12,425.81 L430.94,425.37 L431.7,424.97 L432.45,424.62 L433.14,424.31 L433.75,424 L434.27,423.66 L434.72,423.29 L435.11,422.9 L435.47,422.47 L435.81,422.02 L436.14,421.53 L436.48,421.02 L436.82,420.48 L437.18,419.92 L437.56,419.33 L437.98,418.73 L438.42,418.07 L438.89,417.35 L439.4,416.57 L439.97,415.73 L440.6,414.83 L441.31,413.88 L442.1,412.92 L443,411.9 L444,410.84 L445.13,409.77 L446.37,408.73 L447.73,407.75 L449.22,406.8 L450.83,405.89 L452.57,405.06 L454.42,404.36 L456.45,403.6 L458.5,403.15 L460.23,403.46 L461.52,404.5 L462.55,405.86 L463.38,407.37 L464.04,408.96 L464.54,410.61 L464.82,412.33 L464.88,414.1 L464.8,415.85 L464.6,417.53 L464.33,419.13 L464,420.65 L463.63,422.08 L463.2,423.44 L462.74,424.71 L462.26,425.91 L461.77,427.03 L461.28,428.08 L460.78,429.07 L460.29,430 L459.79,430.88 L459.27,431.71 L458.74,432.49 L458.2,433.23 L457.68,433.93 L457.16,434.6 L456.65,435.24 L456.16,435.86 L455.67,436.46 L455.2,437.05 L454.74,437.63 L454.3,438.21 L453.86,438.79 L453.43,439.39 L452.99,439.99 L452.55,440.6 L452.09,441.22 L451.6,441.84 L451.09,442.45 L450.54,443.05 L449.94,443.63 L449.31,444.17 L448.64,444.68 L447.93,445.17 L447.19,445.64 L446.42,446.08 L445.61,446.5 L444.78,446.91 L443.91,447.3 L443,447.68 L442.05,448.06 L441.06,448.43 L440.03,448.78 L438.94,449.09 L437.82,449.35 L436.65,449.53 L435.46,449.63 L434.25,449.65 L433.03,449.58 L431.78,449.44 L430.51,449.24 L429.21,448.98 L427.89,448.66 L426.53,448.29 L425.1,447.9 L423.56,447.5 L421.89,447.1 L420.07,446.66 L418.13,446.15 L416.21,445.47 L414.49,444.53 L413.07,443.33 L412.1,441.86 L412.11,440.04 L413.39,437.93 L415.38,435.87 L417.72,434 L419.78,432.44 L421.52,431.13Z" fill="none" stroke="#161616" stroke-width="0.95"/>
<path d="M424.48,430 L425.73,429.1 L426.89,428.31 L427.99,427.62 L429.01,427.03 L429.94,426.5 L430.77,426.03 L431.52,425.59 L432.2,425.19 L432.87,424.84 L433.5,424.52 L434.06,424.19 L434.53,423.85 L434.94,423.48 L435.31,423.08 L435.65,422.65 L435.98,422.2 L436.29,421.72 L436.61,421.21 L436.95,420.68 L437.3,420.12 L437.68,419.55 L438.08,418.96 L438.51,418.31 L438.98,417.62 L439.48,416.88 L440.04,416.08 L440.66,415.22 L441.35,414.33 L442.13,413.42 L443,412.47 L443.97,411.47 L445.05,410.47 L446.25,409.49 L447.56,408.56 L448.98,407.66 L450.53,406.82 L452.19,406.07 L453.93,405.46 L455.82,404.84 L457.71,404.52 L459.31,404.88 L460.51,405.89 L461.47,407.19 L462.24,408.63 L462.85,410.15 L463.29,411.73 L463.54,413.37 L463.6,415.04 L463.51,416.68 L463.32,418.27 L463.07,419.78 L462.76,421.2 L462.4,422.55 L461.99,423.83 L461.55,425.03 L461.1,426.15 L460.64,427.21 L460.18,428.19 L459.71,429.12 L459.25,430 L458.78,430.83 L458.3,431.61 L457.8,432.34 L457.31,433.04 L456.82,433.7 L456.34,434.34 L455.87,434.94 L455.41,435.53 L454.96,436.1 L454.53,436.65 L454.1,437.21 L453.68,437.76 L453.27,438.31 L452.86,438.88 L452.45,439.45 L452.03,440.03 L451.59,440.61 L451.14,441.2 L450.65,441.79 L450.14,442.36 L449.58,442.91 L448.98,443.44 L448.35,443.94 L447.69,444.42 L446.99,444.89 L446.26,445.34 L445.5,445.77 L444.7,446.19 L443.87,446.6 L443,447.01 L442.09,447.41 L441.13,447.82 L440.12,448.2 L439.06,448.55 L437.95,448.84 L436.81,449.06 L435.63,449.19 L434.44,449.22 L433.24,449.16 L432.02,449.02 L430.79,448.81 L429.55,448.52 L428.31,448.14 L427.08,447.68 L425.81,447.19 L424.46,446.69 L423.01,446.19 L421.45,445.66 L419.79,445.08 L418.14,444.35 L416.68,443.41 L415.48,442.25 L414.68,440.87 L414.72,439.19 L415.87,437.27 L417.65,435.39 L419.72,433.69 L421.55,432.25 L423.09,431.04Z" fill="none" stroke="#161616" stroke-width="0.95"/>
<path d="M425.75,430 L426.87,429.15 L427.91,428.41 L428.88,427.76 L429.79,427.19 L430.62,426.68 L431.37,426.22 L432.04,425.79 L432.65,425.39 L433.26,425.04 L433.83,424.7 L434.33,424.37 L434.77,424.02 L435.15,423.64 L435.49,423.24 L435.82,422.82 L436.12,422.36 L436.43,421.89 L436.74,421.39 L437.06,420.86 L437.41,420.31 L437.78,419.75 L438.18,419.16 L438.6,418.54 L439.06,417.87 L439.56,417.15 L440.11,416.39 L440.72,415.58 L441.4,414.74 L442.16,413.88 L443,412.98 L443.94,412.05 L444.99,411.1 L446.14,410.18 L447.4,409.3 L448.77,408.45 L450.26,407.66 L451.84,406.98 L453.48,406.46 L455.24,405.97 L456.99,405.76 L458.48,406.17 L459.6,407.16 L460.49,408.4 L461.2,409.78 L461.76,411.24 L462.16,412.75 L462.38,414.31 L462.43,415.89 L462.34,417.44 L462.16,418.94 L461.92,420.36 L461.62,421.71 L461.28,422.98 L460.89,424.19 L460.48,425.32 L460.05,426.38 L459.61,427.37 L459.18,428.3 L458.74,429.18 L458.31,430 L457.87,430.78 L457.41,431.52 L456.96,432.21 L456.5,432.87 L456.05,433.5 L455.6,434.09 L455.16,434.67 L454.74,435.23 L454.32,435.77 L453.91,436.3 L453.51,436.82 L453.12,437.35 L452.73,437.88 L452.34,438.41 L451.96,438.96 L451.56,439.51 L451.15,440.06 L450.72,440.62 L450.26,441.18 L449.77,441.73 L449.25,442.26 L448.69,442.77 L448.09,443.27 L447.47,443.75 L446.81,444.21 L446.12,444.66 L445.39,445.11 L444.63,445.54 L443.84,445.97 L443,446.4 L442.12,446.83 L441.19,447.26 L440.2,447.67 L439.16,448.06 L438.07,448.39 L436.94,448.64 L435.79,448.79 L434.62,448.83 L433.43,448.78 L432.24,448.64 L431.04,448.41 L429.85,448.1 L428.7,447.66 L427.58,447.13 L426.46,446.54 L425.28,445.95 L424.04,445.36 L422.7,444.75 L421.29,444.1 L419.9,443.34 L418.68,442.39 L417.67,441.28 L417.02,439.97 L417.1,438.42 L418.13,436.66 L419.71,434.95 L421.54,433.4 L423.15,432.09 L424.52,430.97Z" fill="none" stroke="#161616" stroke-width="0.95"/>
<path d="M426.9,430 L427.9,429.21 L428.82,428.51 L429.69,427.89 L430.5,427.34 L431.24,426.85 L431.9,426.39 L432.5,425.97 L433.06,425.57 L433.61,425.21 L434.12,424.87 L434.58,424.53 L434.98,424.17 L435.33,423.79 L435.66,423.39 L435.96,422.96 L436.26,422.51 L436.55,422.04 L436.86,421.54 L437.17,421.02 L437.51,420.48 L437.87,419.93 L438.26,419.35 L438.68,418.74 L439.13,418.09 L439.62,417.4 L440.17,416.68 L440.77,415.91 L441.43,415.11 L442.18,414.3 L443,413.45 L443.91,412.56 L444.93,411.67 L446.04,410.8 L447.26,409.96 L448.58,409.16 L450.01,408.42 L451.52,407.8 L453.08,407.37 L454.72,406.99 L456.35,406.88 L457.72,407.33 L458.77,408.29 L459.61,409.49 L460.27,410.82 L460.78,412.22 L461.14,413.67 L461.34,415.15 L461.37,416.65 L461.29,418.12 L461.12,419.54 L460.89,420.89 L460.6,422.16 L460.27,423.37 L459.9,424.51 L459.51,425.58 L459.1,426.58 L458.69,427.51 L458.28,428.39 L457.87,429.22 L457.46,430 L457.04,430.74 L456.62,431.43 L456.2,432.09 L455.77,432.71 L455.35,433.31 L454.93,433.88 L454.53,434.42 L454.13,434.95 L453.74,435.47 L453.35,435.98 L452.98,436.48 L452.61,436.98 L452.24,437.49 L451.88,438 L451.51,438.51 L451.14,439.04 L450.75,439.57 L450.34,440.1 L449.91,440.63 L449.44,441.16 L448.95,441.68 L448.42,442.17 L447.86,442.66 L447.27,443.14 L446.64,443.6 L445.99,444.06 L445.3,444.51 L444.57,444.95 L443.81,445.4 L443,445.85 L442.15,446.3 L441.24,446.75 L440.28,447.2 L439.26,447.61 L438.18,447.98 L437.07,448.26 L435.93,448.43 L434.77,448.48 L433.61,448.44 L432.44,448.3 L431.27,448.06 L430.13,447.72 L429.05,447.23 L428.03,446.63 L427.04,445.96 L426.02,445.29 L424.96,444.61 L423.83,443.93 L422.64,443.22 L421.48,442.43 L420.47,441.48 L419.65,440.4 L419.13,439.16 L419.23,437.72 L420.17,436.12 L421.56,434.56 L423.17,433.14 L424.6,431.93 L425.81,430.9Z" fill="none" stroke="#161616" stroke-width="0.95"/>
<path d="M427.92,430 L428.81,429.26 L429.62,428.59 L430.4,428 L431.12,427.48 L431.78,426.99 L432.38,426.55 L432.92,426.13 L433.42,425.74 L433.92,425.37 L434.38,425.02 L434.8,424.67 L435.17,424.31 L435.5,423.92 L435.8,423.52 L436.09,423.09 L436.38,422.65 L436.66,422.17 L436.96,421.68 L437.26,421.17 L437.59,420.63 L437.95,420.08 L438.33,419.52 L438.75,418.92 L439.19,418.29 L439.68,417.63 L440.22,416.93 L440.81,416.2 L441.47,415.44 L442.2,414.66 L443,413.86 L443.89,413.02 L444.87,412.18 L445.95,411.35 L447.13,410.55 L448.42,409.79 L449.79,409.09 L451.24,408.53 L452.72,408.17 L454.26,407.89 L455.77,407.88 L457.05,408.36 L458.04,409.3 L458.83,410.46 L459.44,411.74 L459.9,413.1 L460.23,414.48 L460.41,415.9 L460.44,417.33 L460.36,418.73 L460.19,420.07 L459.97,421.35 L459.7,422.57 L459.38,423.71 L459.02,424.79 L458.65,425.81 L458.26,426.76 L457.87,427.64 L457.48,428.48 L457.09,429.26 L456.7,430 L456.31,430.7 L455.92,431.36 L455.52,431.98 L455.12,432.58 L454.73,433.14 L454.34,433.68 L453.96,434.21 L453.59,434.71 L453.22,435.21 L452.86,435.69 L452.51,436.17 L452.16,436.65 L451.81,437.14 L451.47,437.62 L451.12,438.12 L450.76,438.62 L450.39,439.13 L450,439.64 L449.59,440.15 L449.15,440.66 L448.68,441.16 L448.18,441.64 L447.65,442.12 L447.09,442.59 L446.5,443.06 L445.87,443.52 L445.21,443.98 L444.52,444.43 L443.78,444.89 L443,445.36 L442.17,445.83 L441.29,446.31 L440.34,446.78 L439.34,447.22 L438.28,447.61 L437.18,447.92 L436.05,448.11 L434.91,448.17 L433.76,448.14 L432.61,447.99 L431.48,447.75 L430.37,447.38 L429.35,446.85 L428.43,446.19 L427.55,445.45 L426.68,444.7 L425.78,443.95 L424.83,443.2 L423.84,442.44 L422.88,441.61 L422.06,440.67 L421.4,439.62 L421,438.45 L421.13,437.1 L421.98,435.63 L423.21,434.21 L424.63,432.91 L425.89,431.8 L426.96,430.84Z" fill="none" stroke="#161616" stroke-width="0.95"/>
<path d="M428.95,430 L429.72,429.3 L430.43,428.68 L431.11,428.12 L431.75,427.61 L432.33,427.14 L432.86,426.7 L433.34,426.29 L433.78,425.9 L434.22,425.53 L434.64,425.17 L435.02,424.82 L435.36,424.45 L435.66,424.06 L435.95,423.65 L436.22,423.22 L436.5,422.78 L436.77,422.31 L437.06,421.82 L437.36,421.31 L437.68,420.79 L438.03,420.24 L438.41,419.68 L438.82,419.1 L439.26,418.49 L439.74,417.85 L440.28,417.18 L440.86,416.49 L441.5,415.77 L442.22,415.03 L443,414.27 L443.87,413.48 L444.82,412.68 L445.87,411.9 L447.01,411.14 L448.25,410.42 L449.57,409.77 L450.96,409.27 L452.36,408.97 L453.8,408.8 L455.2,408.87 L456.39,409.39 L457.31,410.31 L458.04,411.43 L458.61,412.66 L459.03,413.97 L459.33,415.3 L459.48,416.65 L459.5,418.01 L459.42,419.34 L459.27,420.61 L459.05,421.82 L458.79,422.97 L458.48,424.06 L458.15,425.08 L457.79,426.04 L457.42,426.94 L457.05,427.78 L456.68,428.56 L456.31,429.3 L455.95,430 L455.58,430.66 L455.21,431.28 L454.84,431.88 L454.47,432.44 L454.11,432.98 L453.75,433.49 L453.39,433.99 L453.05,434.47 L452.71,434.95 L452.37,435.41 L452.04,435.87 L451.71,436.33 L451.38,436.79 L451.06,437.25 L450.72,437.72 L450.38,438.2 L450.03,438.68 L449.66,439.17 L449.27,439.66 L448.86,440.15 L448.42,440.64 L447.95,441.11 L447.45,441.58 L446.92,442.05 L446.35,442.52 L445.76,442.98 L445.13,443.45 L444.46,443.91 L443.75,444.39 L443,444.87 L442.19,445.36 L441.33,445.86 L440.41,446.36 L439.42,446.83 L438.38,447.25 L437.29,447.58 L436.17,447.78 L435.05,447.86 L433.91,447.83 L432.79,447.69 L431.68,447.43 L430.62,447.04 L429.66,446.47 L428.83,445.74 L428.07,444.93 L427.33,444.1 L426.6,443.28 L425.83,442.47 L425.04,441.66 L424.29,440.8 L423.65,439.86 L423.16,438.83 L422.87,437.73 L423.04,436.49 L423.79,435.15 L424.86,433.86 L426.08,432.68 L427.17,431.66 L428.1,430.78Z" fill="none" stroke="#161616" stroke-width="0.95"/>
<path d="M429.84,430 L430.51,429.35 L431.14,428.75 L431.73,428.22 L432.29,427.72 L432.81,427.27 L433.27,426.84 L433.7,426.43 L434.1,426.04 L434.49,425.67 L434.87,425.31 L435.21,424.94 L435.52,424.57 L435.81,424.17 L436.08,423.77 L436.34,423.34 L436.6,422.89 L436.87,422.43 L437.15,421.94 L437.44,421.44 L437.76,420.92 L438.1,420.38 L438.47,419.83 L438.88,419.26 L439.32,418.66 L439.8,418.04 L440.32,417.4 L440.9,416.74 L441.53,416.05 L442.23,415.35 L443,414.63 L443.84,413.88 L444.77,413.13 L445.79,412.38 L446.9,411.66 L448.1,410.97 L449.38,410.36 L450.71,409.91 L452.05,409.68 L453.4,409.59 L454.7,409.74 L455.8,410.29 L456.66,411.19 L457.36,412.27 L457.88,413.47 L458.27,414.73 L458.53,416.01 L458.67,417.31 L458.68,418.61 L458.6,419.87 L458.45,421.08 L458.25,422.23 L458,423.32 L457.7,424.36 L457.38,425.33 L457.03,426.24 L456.68,427.09 L456.33,427.89 L455.98,428.64 L455.63,429.34 L455.28,430 L454.94,430.63 L454.59,431.22 L454.25,431.78 L453.9,432.32 L453.56,432.83 L453.23,433.32 L452.9,433.8 L452.57,434.26 L452.25,434.72 L451.94,435.16 L451.63,435.6 L451.32,436.04 L451.01,436.48 L450.7,436.93 L450.38,437.38 L450.06,437.84 L449.72,438.3 L449.37,438.77 L449,439.24 L448.61,439.71 L448.19,440.18 L447.74,440.65 L447.26,441.11 L446.76,441.57 L446.23,442.04 L445.66,442.51 L445.06,442.98 L444.41,443.46 L443.73,443.94 L443,444.44 L442.22,444.95 L441.37,445.47 L440.47,445.99 L439.5,446.48 L438.46,446.93 L437.38,447.28 L436.28,447.5 L435.17,447.59 L434.05,447.57 L432.94,447.42 L431.86,447.16 L430.84,446.74 L429.93,446.13 L429.18,445.35 L428.52,444.48 L427.91,443.59 L427.31,442.7 L426.71,441.84 L426.09,440.98 L425.52,440.09 L425.05,439.15 L424.69,438.15 L424.51,437.1 L424.7,435.95 L425.37,434.72 L426.3,433.55 L427.35,432.48 L428.3,431.55 L429.11,430.73Z" fill="none" stroke="#161616" stroke-width="0.95"/>
<path d="M430.73,430 L431.31,429.39 L431.85,428.83 L432.36,428.31 L432.84,427.84 L433.28,427.4 L433.69,426.98 L434.07,426.57 L434.42,426.18 L434.76,425.8 L435.1,425.44 L435.4,425.07 L435.69,424.69 L435.95,424.29 L436.2,423.88 L436.45,423.45 L436.7,423.01 L436.96,422.55 L437.24,422.07 L437.52,421.57 L437.83,421.05 L438.17,420.52 L438.54,419.98 L438.94,419.41 L439.37,418.83 L439.85,418.24 L440.37,417.62 L440.94,416.99 L441.56,416.34 L442.25,415.68 L443,414.99 L443.82,414.28 L444.73,413.57 L445.71,412.86 L446.79,412.17 L447.95,411.52 L449.19,410.95 L450.47,410.54 L451.74,410.38 L453,410.38 L454.19,410.61 L455.21,411.19 L456.02,412.08 L456.67,413.12 L457.16,414.28 L457.51,415.49 L457.74,416.73 L457.86,417.97 L457.86,419.2 L457.79,420.4 L457.64,421.55 L457.45,422.64 L457.2,423.68 L456.92,424.66 L456.61,425.58 L456.28,426.44 L455.95,427.25 L455.61,428 L455.28,428.71 L454.95,429.37 L454.62,430 L454.3,430.59 L453.98,431.15 L453.65,431.69 L453.33,432.2 L453.02,432.68 L452.71,433.15 L452.4,433.61 L452.1,434.05 L451.8,434.49 L451.51,434.91 L451.21,435.33 L450.92,435.76 L450.63,436.18 L450.33,436.6 L450.03,437.03 L449.73,437.47 L449.41,437.91 L449.07,438.36 L448.72,438.81 L448.35,439.27 L447.96,439.73 L447.53,440.18 L447.08,440.64 L446.61,441.1 L446.1,441.57 L445.56,442.04 L444.98,442.52 L444.37,443 L443.71,443.5 L443,444.01 L442.24,444.54 L441.42,445.08 L440.53,445.62 L439.57,446.14 L438.55,446.61 L437.48,446.99 L436.39,447.22 L435.29,447.32 L434.18,447.3 L433.09,447.16 L432.04,446.88 L431.05,446.45 L430.21,445.8 L429.53,444.96 L428.97,444.03 L428.48,443.07 L428.03,442.12 L427.59,441.2 L427.15,440.3 L426.75,439.38 L426.44,438.44 L426.23,437.47 L426.15,436.47 L426.36,435.41 L426.95,434.3 L427.74,433.24 L428.63,432.28 L429.42,431.43 L430.11,430.68Z" fill="none" stroke="#161616" stroke-width="0.95"/>
<path d="M431.63,430 L432.11,429.43 L432.55,428.9 L432.98,428.41 L433.39,427.96 L433.76,427.52 L434.11,427.11 L434.43,426.71 L434.73,426.32 L435.03,425.94 L435.32,425.57 L435.6,425.19 L435.85,424.81 L436.09,424.41 L436.33,423.99 L436.57,423.57 L436.81,423.12 L437.06,422.66 L437.32,422.19 L437.61,421.69 L437.91,421.18 L438.24,420.66 L438.6,420.12 L439,419.57 L439.43,419 L439.9,418.43 L440.42,417.84 L440.98,417.24 L441.59,416.63 L442.27,416 L443,415.35 L443.8,414.69 L444.68,414.01 L445.64,413.34 L446.68,412.69 L447.8,412.07 L449,411.54 L450.22,411.18 L451.42,411.08 L452.6,411.17 L453.69,411.48 L454.63,412.09 L455.38,412.96 L455.98,413.97 L456.43,415.08 L456.75,416.25 L456.95,417.44 L457.04,418.63 L457.04,419.8 L456.97,420.93 L456.83,422.01 L456.64,423.05 L456.41,424.03 L456.14,424.96 L455.84,425.83 L455.53,426.64 L455.21,427.4 L454.89,428.12 L454.58,428.78 L454.27,429.41 L453.96,430 L453.66,430.56 L453.36,431.09 L453.06,431.59 L452.77,432.08 L452.48,432.54 L452.19,432.99 L451.91,433.42 L451.63,433.84 L451.35,434.25 L451.08,434.66 L450.8,435.07 L450.53,435.47 L450.25,435.87 L449.97,436.28 L449.69,436.69 L449.4,437.11 L449.1,437.53 L448.78,437.96 L448.45,438.39 L448.1,438.83 L447.72,439.27 L447.33,439.72 L446.9,440.17 L446.45,440.62 L445.97,441.09 L445.46,441.57 L444.91,442.05 L444.32,442.55 L443.68,443.06 L443,443.58 L442.26,444.13 L441.46,444.69 L440.58,445.25 L439.64,445.79 L438.64,446.29 L437.58,446.69 L436.5,446.94 L435.41,447.05 L434.32,447.04 L433.25,446.89 L432.22,446.61 L431.27,446.15 L430.48,445.47 L429.88,444.58 L429.42,443.58 L429.06,442.55 L428.75,441.54 L428.46,440.56 L428.2,439.61 L427.98,438.67 L427.84,437.73 L427.77,436.78 L427.79,435.84 L428.02,434.87 L428.53,433.88 L429.18,432.94 L429.9,432.08 L430.55,431.31 L431.11,430.62Z" fill="none" stroke="#161616" stroke-width="0.95"/>
<path d="M432.52,430 L432.9,429.47 L433.26,428.98 L433.61,428.51 L433.93,428.07 L434.24,427.65 L434.53,427.25 L434.79,426.85 L435.05,426.46 L435.3,426.08 L435.55,425.7 L435.79,425.32 L436.02,424.93 L436.24,424.52 L436.46,424.11 L436.68,423.68 L436.91,423.24 L437.16,422.78 L437.41,422.31 L437.69,421.82 L437.99,421.31 L438.31,420.8 L438.67,420.27 L439.06,419.73 L439.48,419.18 L439.95,418.62 L440.46,418.06 L441.02,417.49 L441.62,416.91 L442.28,416.32 L443,415.71 L443.78,415.09 L444.63,414.45 L445.56,413.82 L446.57,413.21 L447.66,412.63 L448.81,412.13 L449.98,411.82 L451.11,411.78 L452.19,411.96 L453.19,412.35 L454.04,413 L454.74,413.84 L455.3,414.81 L455.71,415.89 L455.98,417.02 L456.16,418.15 L456.23,419.29 L456.22,420.39 L456.15,421.46 L456.02,422.48 L455.84,423.46 L455.62,424.38 L455.35,425.26 L455.07,426.08 L454.77,426.85 L454.47,427.56 L454.17,428.23 L453.88,428.86 L453.59,429.45 L453.3,430 L453.02,430.53 L452.74,431.02 L452.47,431.5 L452.2,431.96 L451.93,432.39 L451.67,432.82 L451.41,433.23 L451.15,433.63 L450.9,434.02 L450.64,434.41 L450.39,434.8 L450.13,435.18 L449.88,435.57 L449.61,435.95 L449.35,436.35 L449.07,436.74 L448.78,437.14 L448.49,437.55 L448.17,437.96 L447.84,438.39 L447.49,438.81 L447.12,439.25 L446.72,439.69 L446.3,440.15 L445.84,440.62 L445.36,441.1 L444.84,441.59 L444.27,442.09 L443.66,442.61 L443,443.16 L442.28,443.72 L441.5,444.3 L440.64,444.88 L439.72,445.45 L438.72,445.97 L437.67,446.39 L436.6,446.66 L435.53,446.78 L434.46,446.77 L433.4,446.63 L432.39,446.33 L431.48,445.86 L430.75,445.13 L430.23,444.19 L429.87,443.13 L429.63,442.04 L429.46,440.96 L429.34,439.92 L429.25,438.93 L429.21,437.96 L429.23,437.02 L429.3,436.1 L429.43,435.21 L429.69,434.33 L430.11,433.45 L430.62,432.63 L431.17,431.87 L431.67,431.19 L432.11,430.57Z" fill="none" stroke="#161616" stroke-width="0.95"/>
<path d="M433.29,430 L433.59,429.51 L433.87,429.04 L434.14,428.6 L434.4,428.17 L434.65,427.76 L434.88,427.36 L435.11,426.97 L435.32,426.58 L435.54,426.2 L435.75,425.81 L435.95,425.42 L436.16,425.03 L436.36,424.62 L436.57,424.21 L436.78,423.78 L437,423.34 L437.24,422.88 L437.49,422.41 L437.76,421.93 L438.05,421.43 L438.37,420.92 L438.72,420.39 L439.11,419.86 L439.53,419.32 L440,418.79 L440.5,418.25 L441.05,417.71 L441.65,417.16 L442.3,416.6 L443,416.02 L443.76,415.43 L444.59,414.83 L445.5,414.23 L446.48,413.65 L447.53,413.1 L448.64,412.64 L449.77,412.37 L450.84,412.39 L451.85,412.64 L452.76,413.1 L453.54,413.77 L454.19,414.6 L454.71,415.54 L455.08,416.58 L455.33,417.67 L455.48,418.77 L455.54,419.85 L455.52,420.9 L455.45,421.91 L455.33,422.88 L455.15,423.81 L454.94,424.69 L454.68,425.51 L454.41,426.29 L454.13,427.02 L453.84,427.7 L453.56,428.33 L453.28,428.92 L453,429.48 L452.73,430 L452.47,430.5 L452.21,430.97 L451.96,431.42 L451.71,431.85 L451.47,432.27 L451.22,432.67 L450.98,433.07 L450.75,433.45 L450.51,433.83 L450.27,434.2 L450.04,434.57 L449.8,434.94 L449.55,435.31 L449.3,435.68 L449.05,436.05 L448.79,436.43 L448.52,436.81 L448.23,437.2 L447.94,437.6 L447.62,438.01 L447.29,438.42 L446.94,438.85 L446.57,439.29 L446.17,439.74 L445.74,440.21 L445.27,440.69 L444.77,441.19 L444.23,441.7 L443.64,442.23 L443,442.79 L442.3,443.37 L441.53,443.96 L440.69,444.57 L439.78,445.16 L438.79,445.7 L437.76,446.14 L436.7,446.42 L435.63,446.55 L434.57,446.54 L433.53,446.4 L432.55,446.1 L431.66,445.6 L430.98,444.85 L430.53,443.85 L430.26,442.74 L430.12,441.59 L430.08,440.46 L430.09,439.38 L430.15,438.34 L430.26,437.35 L430.43,436.41 L430.62,435.51 L430.84,434.67 L431.11,433.86 L431.47,433.09 L431.86,432.37 L432.26,431.7 L432.63,431.09 L432.97,430.53Z" fill="none" stroke="#161616" stroke-width="0.95"/>
<path d="M434.05,430 L434.27,429.54 L434.47,429.1 L434.67,428.68 L434.87,428.27 L435.06,427.87 L435.24,427.48 L435.42,427.09 L435.59,426.7 L435.77,426.32 L435.94,425.93 L436.12,425.53 L436.3,425.13 L436.48,424.72 L436.68,424.31 L436.88,423.88 L437.09,423.44 L437.32,422.99 L437.56,422.52 L437.83,422.04 L438.12,421.54 L438.43,421.04 L438.78,420.52 L439.16,420 L439.58,419.47 L440.04,418.96 L440.54,418.44 L441.09,417.93 L441.68,417.4 L442.31,416.87 L443,416.33 L443.75,415.78 L444.55,415.21 L445.43,414.65 L446.38,414.09 L447.4,413.57 L448.48,413.14 L449.56,412.92 L450.57,412.99 L451.5,413.31 L452.33,413.85 L453.04,414.54 L453.64,415.36 L454.12,416.26 L454.46,417.27 L454.68,418.32 L454.8,419.38 L454.84,420.41 L454.82,421.41 L454.75,422.37 L454.63,423.29 L454.47,424.16 L454.26,424.99 L454.01,425.77 L453.75,426.51 L453.48,427.19 L453.21,427.83 L452.94,428.43 L452.68,428.98 L452.42,429.51 L452.17,430 L451.92,430.47 L451.69,430.91 L451.45,431.34 L451.22,431.75 L451,432.14 L450.78,432.53 L450.56,432.9 L450.34,433.27 L450.12,433.63 L449.91,433.99 L449.68,434.34 L449.46,434.69 L449.23,435.04 L449,435.4 L448.75,435.75 L448.51,436.11 L448.25,436.48 L447.98,436.85 L447.7,437.24 L447.4,437.63 L447.09,438.03 L446.76,438.45 L446.41,438.88 L446.03,439.34 L445.63,439.8 L445.19,440.29 L444.71,440.79 L444.19,441.31 L443.62,441.85 L443,442.42 L442.32,443.02 L441.57,443.63 L440.74,444.25 L439.84,444.86 L438.87,445.42 L437.84,445.88 L436.79,446.18 L435.74,446.32 L434.69,446.31 L433.66,446.17 L432.7,445.86 L431.85,445.35 L431.21,444.56 L430.82,443.52 L430.64,442.36 L430.62,441.15 L430.69,439.97 L430.85,438.83 L431.05,437.76 L431.32,436.74 L431.62,435.8 L431.93,434.93 L432.24,434.13 L432.54,433.4 L432.83,432.73 L433.09,432.11 L433.35,431.53 L433.6,430.99 L433.83,430.48Z" fill="#141414" stroke="#141414" stroke-width="0.95"/>
<path d="M434.93,430 L435.12,429.59 L435.31,429.19 L435.49,428.81 L435.66,428.44 L435.83,428.08 L436,427.73 L436.16,427.37 L436.32,427.03 L436.48,426.68 L436.63,426.32 L436.79,425.97 L436.95,425.61 L437.12,425.24 L437.29,424.86 L437.48,424.48 L437.67,424.08 L437.87,423.67 L438.1,423.25 L438.33,422.82 L438.59,422.37 L438.88,421.91 L439.19,421.45 L439.54,420.97 L439.91,420.5 L440.33,420.04 L440.78,419.57 L441.27,419.11 L441.81,418.64 L442.38,418.15 L443,417.67 L443.67,417.17 L444.4,416.66 L445.19,416.15 L446.05,415.65 L446.97,415.18 L447.94,414.79 L448.92,414.59 L449.83,414.65 L450.67,414.94 L451.41,415.43 L452.06,416.05 L452.6,416.79 L453.03,417.61 L453.34,418.52 L453.53,419.47 L453.64,420.42 L453.68,421.35 L453.66,422.25 L453.6,423.12 L453.49,423.94 L453.35,424.73 L453.16,425.48 L452.94,426.19 L452.7,426.85 L452.46,427.47 L452.21,428.04 L451.97,428.58 L451.73,429.08 L451.5,429.55 L451.27,430 L451.05,430.42 L450.84,430.82 L450.63,431.21 L450.42,431.58 L450.22,431.93 L450.02,432.28 L449.82,432.62 L449.62,432.95 L449.43,433.28 L449.23,433.6 L449.03,433.92 L448.83,434.23 L448.62,434.55 L448.41,434.87 L448.19,435.19 L447.97,435.52 L447.73,435.85 L447.49,436.18 L447.24,436.53 L446.97,436.88 L446.69,437.25 L446.4,437.63 L446.08,438.02 L445.74,438.42 L445.37,438.84 L444.97,439.28 L444.54,439.73 L444.07,440.2 L443.56,440.69 L443,441.21 L442.38,441.74 L441.71,442.3 L440.96,442.86 L440.15,443.41 L439.27,443.92 L438.34,444.33 L437.4,444.6 L436.45,444.72 L435.5,444.72 L434.58,444.59 L433.71,444.31 L432.94,443.85 L432.36,443.14 L432.02,442.2 L431.85,441.15 L431.83,440.06 L431.9,438.99 L432.03,437.97 L432.22,437 L432.46,436.08 L432.73,435.23 L433.02,434.45 L433.29,433.73 L433.56,433.07 L433.82,432.46 L434.06,431.9 L434.3,431.38 L434.52,430.89 L434.73,430.43Z" fill="none" stroke="#fff" stroke-opacity="0.15" stroke-width="0.4"/>
<path d="M435.8,430 L435.98,429.63 L436.14,429.28 L436.3,428.94 L436.46,428.61 L436.61,428.29 L436.76,427.97 L436.9,427.66 L437.04,427.35 L437.18,427.04 L437.32,426.72 L437.46,426.41 L437.61,426.08 L437.76,425.76 L437.91,425.42 L438.08,425.08 L438.25,424.72 L438.43,424.36 L438.63,423.98 L438.84,423.59 L439.07,423.2 L439.33,422.79 L439.6,422.37 L439.91,421.95 L440.25,421.53 L440.62,421.12 L441.02,420.7 L441.46,420.29 L441.94,419.87 L442.45,419.44 L443,419 L443.6,418.56 L444.25,418.1 L444.96,417.65 L445.72,417.2 L446.54,416.78 L447.41,416.44 L448.27,416.26 L449.09,416.31 L449.84,416.58 L450.5,417.01 L451.08,417.57 L451.56,418.22 L451.95,418.95 L452.22,419.76 L452.39,420.61 L452.49,421.46 L452.52,422.29 L452.51,423.09 L452.45,423.86 L452.36,424.6 L452.22,425.3 L452.06,425.97 L451.86,426.6 L451.65,427.19 L451.43,427.74 L451.21,428.25 L451,428.73 L450.79,429.18 L450.58,429.6 L450.38,430 L450.18,430.38 L449.99,430.73 L449.8,431.08 L449.62,431.41 L449.44,431.72 L449.26,432.03 L449.08,432.33 L448.91,432.63 L448.73,432.92 L448.55,433.21 L448.38,433.49 L448.2,433.77 L448.01,434.06 L447.82,434.34 L447.63,434.63 L447.43,434.92 L447.22,435.21 L447.01,435.51 L446.78,435.82 L446.54,436.14 L446.29,436.46 L446.03,436.8 L445.74,437.15 L445.44,437.51 L445.11,437.89 L444.76,438.28 L444.37,438.68 L443.96,439.1 L443.5,439.53 L443,439.99 L442.45,440.47 L441.85,440.96 L441.18,441.46 L440.46,441.95 L439.68,442.41 L438.85,442.78 L438,443.01 L437.16,443.13 L436.31,443.12 L435.49,443.01 L434.71,442.76 L434.03,442.35 L433.52,441.71 L433.21,440.88 L433.06,439.94 L433.04,438.97 L433.1,438.02 L433.22,437.1 L433.39,436.24 L433.6,435.43 L433.85,434.66 L434.1,433.96 L434.35,433.32 L434.58,432.73 L434.82,432.19 L435.03,431.69 L435.24,431.23 L435.44,430.79 L435.63,430.39Z" fill="none" stroke="#fff" stroke-opacity="0.15" stroke-width="0.4"/>
<path d="M436.68,430 L436.83,429.68 L436.98,429.37 L437.12,429.07 L437.25,428.78 L437.39,428.5 L437.52,428.22 L437.64,427.94 L437.77,427.67 L437.89,427.4 L438.01,427.12 L438.14,426.84 L438.26,426.56 L438.4,426.27 L438.53,425.98 L438.67,425.67 L438.82,425.36 L438.99,425.04 L439.16,424.71 L439.35,424.37 L439.55,424.02 L439.77,423.66 L440.02,423.3 L440.29,422.93 L440.58,422.56 L440.91,422.2 L441.26,421.83 L441.65,421.47 L442.06,421.1 L442.51,420.72 L443,420.34 L443.53,419.95 L444.1,419.55 L444.72,419.15 L445.39,418.76 L446.11,418.39 L446.87,418.09 L447.63,417.93 L448.35,417.98 L449.01,418.21 L449.59,418.59 L450.09,419.08 L450.52,419.65 L450.86,420.29 L451.1,421 L451.25,421.75 L451.34,422.49 L451.37,423.22 L451.35,423.93 L451.3,424.61 L451.22,425.26 L451.1,425.87 L450.95,426.46 L450.78,427.01 L450.6,427.53 L450.41,428.02 L450.22,428.47 L450.03,428.89 L449.84,429.28 L449.66,429.65 L449.48,430 L449.31,430.33 L449.14,430.65 L448.97,430.95 L448.81,431.24 L448.65,431.51 L448.5,431.79 L448.34,432.05 L448.19,432.31 L448.03,432.57 L447.88,432.82 L447.72,433.07 L447.56,433.32 L447.4,433.56 L447.24,433.81 L447.07,434.07 L446.89,434.32 L446.71,434.58 L446.52,434.84 L446.32,435.11 L446.11,435.39 L445.89,435.68 L445.66,435.97 L445.41,436.28 L445.14,436.6 L444.86,436.93 L444.55,437.27 L444.21,437.62 L443.84,437.99 L443.44,438.38 L443,438.78 L442.52,439.2 L441.99,439.63 L441.41,440.07 L440.77,440.5 L440.08,440.9 L439.35,441.23 L438.61,441.43 L437.87,441.53 L437.13,441.53 L436.4,441.43 L435.72,441.21 L435.12,440.85 L434.67,440.29 L434.4,439.56 L434.27,438.73 L434.25,437.88 L434.3,437.04 L434.41,436.24 L434.56,435.48 L434.75,434.77 L434.96,434.1 L435.18,433.48 L435.4,432.92 L435.61,432.4 L435.81,431.93 L436,431.49 L436.18,431.08 L436.36,430.7 L436.52,430.34Z" fill="none" stroke="#fff" stroke-opacity="0.15" stroke-width="0.4"/>
<path d="M437.55,430 L437.68,429.72 L437.81,429.45 L437.93,429.2 L438.05,428.95 L438.16,428.7 L438.28,428.46 L438.38,428.23 L438.49,427.99 L438.6,427.76 L438.7,427.52 L438.81,427.28 L438.92,427.04 L439.03,426.79 L439.15,426.53 L439.27,426.27 L439.4,426 L439.54,425.73 L439.69,425.44 L439.85,425.15 L440.03,424.85 L440.22,424.54 L440.43,424.23 L440.66,423.91 L440.92,423.59 L441.2,423.28 L441.5,422.96 L441.84,422.65 L442.19,422.33 L442.58,422.01 L443,421.68 L443.45,421.34 L443.95,421 L444.48,420.65 L445.06,420.31 L445.68,420 L446.33,419.74 L446.99,419.6 L447.61,419.64 L448.18,419.84 L448.68,420.16 L449.11,420.59 L449.48,421.08 L449.77,421.64 L449.98,422.25 L450.11,422.89 L450.18,423.53 L450.21,424.16 L450.2,424.77 L450.15,425.35 L450.08,425.91 L449.98,426.44 L449.85,426.95 L449.71,427.43 L449.55,427.87 L449.38,428.29 L449.22,428.68 L449.05,429.04 L448.89,429.38 L448.74,429.7 L448.58,430 L448.43,430.28 L448.29,430.56 L448.15,430.82 L448.01,431.06 L447.87,431.31 L447.74,431.54 L447.6,431.77 L447.47,431.99 L447.34,432.21 L447.2,432.43 L447.07,432.64 L446.93,432.86 L446.79,433.07 L446.65,433.29 L446.5,433.5 L446.35,433.72 L446.2,433.95 L446.03,434.17 L445.86,434.41 L445.68,434.64 L445.49,434.89 L445.29,435.15 L445.08,435.41 L444.85,435.68 L444.6,435.97 L444.33,436.26 L444.04,436.57 L443.72,436.89 L443.38,437.22 L443,437.56 L442.58,437.93 L442.13,438.3 L441.63,438.68 L441.08,439.05 L440.48,439.39 L439.86,439.67 L439.22,439.85 L438.58,439.93 L437.94,439.93 L437.32,439.85 L436.73,439.66 L436.21,439.35 L435.82,438.86 L435.59,438.23 L435.48,437.52 L435.46,436.79 L435.51,436.07 L435.6,435.38 L435.73,434.72 L435.89,434.11 L436.07,433.53 L436.26,433 L436.45,432.51 L436.63,432.07 L436.8,431.66 L436.97,431.28 L437.13,430.93 L437.28,430.6 L437.42,430.29Z" fill="none" stroke="#fff" stroke-opacity="0.15" stroke-width="0.4"/>
<path d="M438.43,430 L438.54,429.77 L438.64,429.54 L438.74,429.33 L438.84,429.12 L438.94,428.91 L439.03,428.71 L439.13,428.51 L439.21,428.31 L439.3,428.12 L439.39,427.92 L439.48,427.72 L439.57,427.51 L439.67,427.3 L439.77,427.09 L439.87,426.87 L439.98,426.65 L440.1,426.41 L440.22,426.18 L440.36,425.93 L440.5,425.68 L440.67,425.42 L440.84,425.15 L441.04,424.89 L441.25,424.62 L441.49,424.36 L441.74,424.09 L442.02,423.83 L442.32,423.56 L442.65,423.29 L443,423.01 L443.38,422.73 L443.79,422.44 L444.24,422.15 L444.73,421.87 L445.25,421.6 L445.8,421.38 L446.35,421.27 L446.87,421.3 L447.35,421.47 L447.77,421.74 L448.13,422.1 L448.44,422.52 L448.68,422.98 L448.86,423.49 L448.97,424.03 L449.03,424.57 L449.05,425.1 L449.04,425.61 L449.01,426.1 L448.94,426.57 L448.86,427.01 L448.75,427.44 L448.63,427.84 L448.5,428.21 L448.36,428.56 L448.22,428.89 L448.08,429.2 L447.95,429.48 L447.82,429.75 L447.69,430 L447.56,430.24 L447.44,430.47 L447.32,430.68 L447.2,430.89 L447.09,431.1 L446.98,431.29 L446.86,431.48 L446.75,431.67 L446.64,431.86 L446.53,432.04 L446.42,432.22 L446.3,432.4 L446.18,432.58 L446.06,432.76 L445.94,432.94 L445.81,433.13 L445.68,433.31 L445.55,433.5 L445.4,433.7 L445.25,433.9 L445.09,434.11 L444.92,434.32 L444.74,434.54 L444.55,434.77 L444.34,435.01 L444.12,435.26 L443.87,435.51 L443.61,435.78 L443.32,436.06 L443,436.35 L442.65,436.65 L442.27,436.97 L441.85,437.28 L441.39,437.6 L440.89,437.88 L440.36,438.12 L439.83,438.27 L439.29,438.34 L438.75,438.34 L438.23,438.26 L437.74,438.11 L437.3,437.84 L436.97,437.44 L436.78,436.91 L436.68,436.32 L436.67,435.7 L436.71,435.09 L436.79,434.51 L436.89,433.97 L437.03,433.45 L437.18,432.96 L437.34,432.52 L437.5,432.11 L437.65,431.74 L437.8,431.39 L437.94,431.08 L438.07,430.78 L438.19,430.51 L438.31,430.25Z" fill="none" stroke="#fff" stroke-opacity="0.15" stroke-width="0.4"/>
<path d="M439.3,430 L439.39,429.81 L439.48,429.63 L439.56,429.45 L439.64,429.29 L439.72,429.12 L439.79,428.96 L439.87,428.8 L439.94,428.64 L440.01,428.48 L440.08,428.32 L440.16,428.15 L440.23,427.99 L440.31,427.82 L440.39,427.65 L440.47,427.47 L440.56,427.29 L440.65,427.1 L440.75,426.91 L440.86,426.71 L440.98,426.5 L441.11,426.29 L441.26,426.08 L441.41,425.87 L441.59,425.65 L441.78,425.44 L441.98,425.22 L442.21,425.01 L442.45,424.79 L442.72,424.57 L443,424.35 L443.31,424.12 L443.64,423.89 L444.01,423.65 L444.4,423.42 L444.82,423.21 L445.26,423.03 L445.71,422.94 L446.13,422.97 L446.51,423.1 L446.85,423.32 L447.15,423.61 L447.4,423.95 L447.6,424.32 L447.74,424.74 L447.83,425.17 L447.88,425.61 L447.89,426.04 L447.89,426.45 L447.86,426.85 L447.81,427.22 L447.74,427.59 L447.65,427.93 L447.55,428.25 L447.44,428.56 L447.33,428.84 L447.22,429.1 L447.11,429.35 L447,429.58 L446.89,429.8 L446.79,430 L446.69,430.19 L446.59,430.38 L446.49,430.55 L446.4,430.72 L446.31,430.89 L446.22,431.04 L446.12,431.2 L446.03,431.35 L445.94,431.5 L445.85,431.65 L445.76,431.79 L445.67,431.94 L445.57,432.09 L445.48,432.23 L445.38,432.38 L445.28,432.53 L445.17,432.68 L445.06,432.83 L444.94,432.99 L444.82,433.15 L444.69,433.32 L444.56,433.49 L444.41,433.67 L444.25,433.86 L444.09,434.05 L443.9,434.25 L443.71,434.46 L443.49,434.67 L443.26,434.9 L443,435.13 L442.72,435.38 L442.41,435.63 L442.07,435.89 L441.69,436.14 L441.29,436.38 L440.87,436.57 L440.43,436.69 L440,436.74 L439.56,436.74 L439.14,436.68 L438.74,436.56 L438.39,436.34 L438.13,436.02 L437.97,435.59 L437.89,435.11 L437.88,434.61 L437.91,434.12 L437.98,433.65 L438.06,433.21 L438.17,432.79 L438.3,432.4 L438.43,432.04 L438.55,431.71 L438.68,431.4 L438.79,431.13 L438.91,430.87 L439.01,430.63 L439.11,430.41 L439.21,430.2Z" fill="none" stroke="#fff" stroke-opacity="0.15" stroke-width="0.4"/>
<path d="M440.18,430 L440.24,429.86 L440.31,429.72 L440.37,429.58 L440.43,429.45 L440.49,429.33 L440.55,429.2 L440.61,429.08 L440.66,428.96 L440.72,428.84 L440.77,428.71 L440.83,428.59 L440.89,428.46 L440.94,428.33 L441,428.2 L441.07,428.07 L441.14,427.93 L441.21,427.79 L441.28,427.64 L441.37,427.49 L441.46,427.33 L441.56,427.17 L441.67,427.01 L441.79,426.84 L441.92,426.68 L442.07,426.51 L442.22,426.35 L442.4,426.19 L442.58,426.03 L442.78,425.86 L443,425.69 L443.24,425.51 L443.49,425.33 L443.77,425.16 L444.07,424.98 L444.39,424.82 L444.73,424.68 L445.07,424.61 L445.39,424.63 L445.68,424.73 L445.94,424.9 L446.17,425.12 L446.36,425.38 L446.51,425.67 L446.62,425.98 L446.68,426.32 L446.72,426.65 L446.74,426.97 L446.73,427.29 L446.71,427.59 L446.67,427.88 L446.62,428.16 L446.55,428.42 L446.48,428.67 L446.39,428.9 L446.31,429.11 L446.22,429.32 L446.14,429.5 L446.05,429.68 L445.97,429.84 L445.89,430 L445.82,430.15 L445.74,430.29 L445.67,430.42 L445.6,430.55 L445.52,430.68 L445.45,430.8 L445.39,430.92 L445.32,431.03 L445.25,431.15 L445.18,431.26 L445.11,431.37 L445.04,431.48 L444.97,431.59 L444.89,431.7 L444.82,431.82 L444.74,431.93 L444.66,432.05 L444.57,432.16 L444.48,432.28 L444.39,432.41 L444.29,432.54 L444.19,432.67 L444.08,432.8 L443.96,432.95 L443.83,433.09 L443.69,433.25 L443.54,433.4 L443.38,433.57 L443.2,433.74 L443,433.92 L442.78,434.11 L442.55,434.3 L442.29,434.5 L442,434.69 L441.7,434.87 L441.37,435.01 L441.04,435.11 L440.71,435.15 L440.38,435.15 L440.05,435.1 L439.75,435 L439.48,434.84 L439.28,434.59 L439.16,434.27 L439.1,433.9 L439.09,433.52 L439.12,433.14 L439.16,432.79 L439.23,432.45 L439.31,432.13 L439.41,431.83 L439.51,431.55 L439.61,431.3 L439.7,431.07 L439.79,430.86 L439.87,430.66 L439.96,430.48 L440.03,430.31 L440.11,430.15Z" fill="none" stroke="#fff" stroke-opacity="0.15" stroke-width="0.4"/>
<path d="M441.05,430 L441.1,429.9 L441.14,429.8 L441.19,429.71 L441.23,429.62 L441.27,429.54 L441.31,429.45 L441.35,429.37 L441.39,429.28 L441.43,429.2 L441.46,429.11 L441.5,429.03 L441.54,428.94 L441.58,428.85 L441.62,428.76 L441.67,428.67 L441.71,428.57 L441.76,428.47 L441.82,428.37 L441.87,428.27 L441.94,428.16 L442.01,428.05 L442.08,427.94 L442.16,427.82 L442.26,427.71 L442.36,427.59 L442.47,427.48 L442.58,427.37 L442.71,427.26 L442.85,427.14 L443,427.02 L443.16,426.9 L443.34,426.78 L443.53,426.66 L443.74,426.54 L443.96,426.42 L444.19,426.33 L444.43,426.28 L444.65,426.3 L444.85,426.37 L445.03,426.48 L445.19,426.63 L445.32,426.81 L445.42,427.01 L445.5,427.23 L445.54,427.46 L445.57,427.69 L445.58,427.91 L445.57,428.13 L445.56,428.34 L445.53,428.54 L445.5,428.73 L445.45,428.91 L445.4,429.08 L445.34,429.24 L445.28,429.39 L445.22,429.53 L445.17,429.66 L445.11,429.78 L445.05,429.89 L445,430 L444.94,430.1 L444.89,430.2 L444.84,430.29 L444.79,430.38 L444.74,430.47 L444.69,430.55 L444.65,430.63 L444.6,430.71 L444.55,430.79 L444.5,430.87 L444.46,430.95 L444.41,431.02 L444.36,431.1 L444.31,431.18 L444.25,431.25 L444.2,431.33 L444.14,431.41 L444.08,431.49 L444.02,431.58 L443.96,431.66 L443.89,431.75 L443.82,431.84 L443.74,431.93 L443.66,432.03 L443.57,432.13 L443.48,432.24 L443.37,432.35 L443.26,432.46 L443.14,432.58 L443,432.71 L442.85,432.83 L442.69,432.97 L442.51,433.1 L442.31,433.24 L442.1,433.36 L441.88,433.46 L441.65,433.52 L441.42,433.55 L441.19,433.55 L440.97,433.52 L440.76,433.45 L440.57,433.34 L440.43,433.17 L440.35,432.94 L440.31,432.69 L440.3,432.43 L440.32,432.17 L440.35,431.92 L440.4,431.69 L440.46,431.47 L440.52,431.26 L440.59,431.07 L440.66,430.9 L440.72,430.74 L440.78,430.59 L440.84,430.46 L440.9,430.33 L440.95,430.22 L441,430.1Z" fill="none" stroke="#fff" stroke-opacity="0.15" stroke-width="0.4"/>
<circle cx="452" cy="419" r="0.5" fill="#bbb"/>
<circle cx="450" cy="424" r="0.5" fill="#bbb"/>
<circle cx="448" cy="429" r="0.5" fill="#bbb"/>
<circle cx="445" cy="434" r="0.5" fill="#bbb"/>
<circle cx="442" cy="438" r="0.5" fill="#bbb"/>
<line x1="71.3" y1="336.5" x2="71.3" y2="457.2" stroke="#5a5a8e" stroke-width="1.0" />
<line x1="27" y1="421.4" x2="148.5" y2="421.4" stroke="#5a5a8e" stroke-width="1.0" />
<line x1="192.8" y1="336.5" x2="192.8" y2="457.2" stroke="#5a5a8e" stroke-width="1.0" />
<line x1="148.5" y1="421.4" x2="270" y2="421.4" stroke="#5a5a8e" stroke-width="1.0" />
<line x1="314.3" y1="336.5" x2="314.3" y2="457.2" stroke="#5a5a8e" stroke-width="1.0" />
<line x1="270" y1="421.4" x2="391.5" y2="421.4" stroke="#5a5a8e" stroke-width="1.0" />
<line x1="435.8" y1="336.5" x2="435.8" y2="457.2" stroke="#5a5a8e" stroke-width="1.0" />
<line x1="391.5" y1="421.4" x2="513" y2="421.4" stroke="#5a5a8e" stroke-width="1.0" />
</svg>
</body></html>
